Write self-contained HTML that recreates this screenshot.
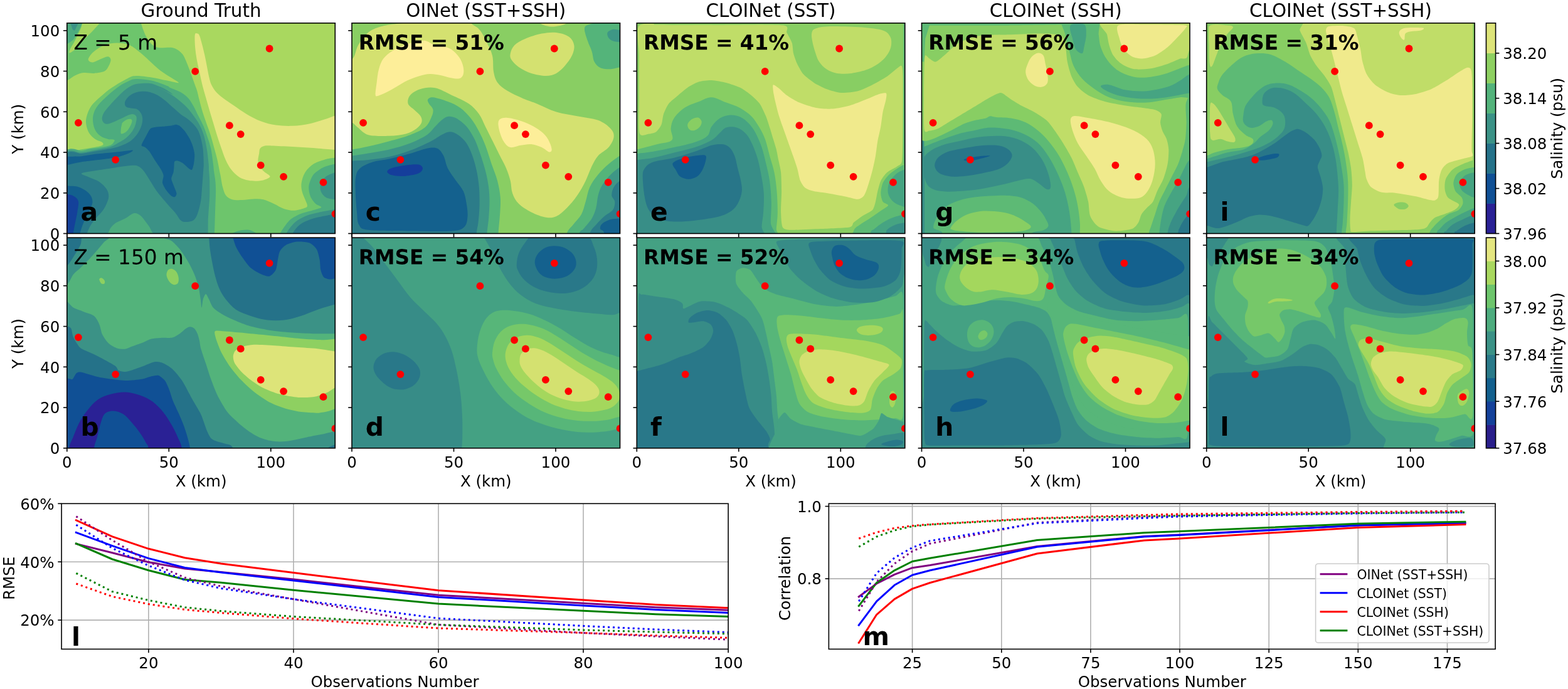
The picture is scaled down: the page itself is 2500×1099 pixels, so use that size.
<!DOCTYPE html>
<html lang="en"><head><meta charset="utf-8"><title>Salinity reconstruction comparison</title>
<style>html,body{margin:0;padding:0;background:#fff}body{width:2500px;height:1099px;overflow:hidden}svg{display:block}text{font-family:"DejaVu Sans","Liberation Sans",sans-serif}</style>
</head><body>
<svg width="2500" height="1099" viewBox="0 0 2500 1099" font-family='"DejaVu Sans","Liberation Sans",sans-serif' fill="#000">
<rect width="2500" height="1099" fill="#fff"/>
<defs>
<clipPath id="cp00"><rect x="106.8" y="36.8" width="427.5" height="335.7"/></clipPath>
<clipPath id="cp01"><rect x="561.0" y="36.8" width="427.5" height="335.7"/></clipPath>
<clipPath id="cp02"><rect x="1015.3" y="36.8" width="427.5" height="335.7"/></clipPath>
<clipPath id="cp03"><rect x="1469.5" y="36.8" width="427.5" height="335.7"/></clipPath>
<clipPath id="cp04"><rect x="1923.7" y="36.8" width="427.5" height="335.7"/></clipPath>
<clipPath id="cp10"><rect x="106.8" y="379.1" width="427.5" height="335.7"/></clipPath>
<clipPath id="cp11"><rect x="561.0" y="379.1" width="427.5" height="335.7"/></clipPath>
<clipPath id="cp12"><rect x="1015.3" y="379.1" width="427.5" height="335.7"/></clipPath>
<clipPath id="cp13"><rect x="1469.5" y="379.1" width="427.5" height="335.7"/></clipPath>
<clipPath id="cp14"><rect x="1923.7" y="379.1" width="427.5" height="335.7"/></clipPath>
</defs>
<g clip-path="url(#cp00)">
<rect x="105.8" y="35.8" width="429.5" height="337.7" fill="#a9d85f"/>
<g>
<path d="M310.8,55.3C310.2,58.9 310.6,68.6 311.1,75.3C311.6,81.9 312.6,88.6 313.8,95.3C315,101.9 316.7,108.6 318.1,115.2C319.6,121.9 320.8,128.6 322.5,135.2C324.1,141.9 326.2,148.6 328.1,155.2C330,161.9 331.8,168.5 333.8,175.2C335.7,181.9 337.8,188.5 339.8,195.2C341.8,201.8 343.7,208.5 345.8,215.2C347.9,221.8 350.1,228.5 352.4,235.1C354.8,241.8 357,249.1 359.8,255.1C362.5,261.1 365.5,266.6 369.1,271.1C372.7,275.7 376.9,279.7 381.4,282.4C386,285.2 391.1,286.8 396.4,287.8C401.7,288.8 408.3,288.8 413.1,288.4C417.8,288.1 421.8,287 424.7,285.8C427.6,284.5 430.9,283 430.4,281.1C429.8,279.2 424,276.5 421.4,274.1C418.8,271.7 416.4,269.7 414.7,266.8C413.1,263.9 411.7,260.4 411.4,256.8C411.1,253.2 412.5,248.5 413.1,245.1C413.6,241.8 413.3,238.9 414.7,236.8C416.1,234.8 418.3,233.5 421.4,232.8C424.4,232.1 425.5,232.3 433,232.5C440.5,232.7 455.2,233.5 466.3,234.1C477.4,234.8 488.3,235.3 499.6,236.1C511,237 526.5,238.5 534.3,239.1C542,239.8 544.3,249.7 546.3,240.1C548.3,230.6 548.3,191.1 546.3,181.9C544.3,172.6 539.3,183 534.3,184.5C529.3,186 523.2,188.7 516.3,190.8C509.4,193 501.3,195.8 493,197.5C484.7,199.2 475.2,200.5 466.3,200.8C457.5,201.2 448,200.7 439.7,199.5C431.4,198.3 424.2,196.5 416.4,193.5C408.6,190.6 400.3,186 393.1,181.9C385.9,177.7 379.2,172.7 373.1,168.5C367,164.4 361.2,160.5 356.4,156.9C351.7,153.3 348,150.5 344.8,146.9C341.6,143.3 339.1,139.4 337.1,135.2C335.2,131.1 334.3,126.9 333.1,121.9C331.9,116.9 330.9,110.8 329.8,105.3C328.7,99.7 327.7,94.2 326.5,88.6C325.2,83.1 323.9,77.2 322.5,72C321.1,66.7 319.4,60 318.1,57C316.9,53.9 316,53.9 314.8,53.6C313.6,53.4 311.4,51.7 310.8,55.3Z" fill="#e4e680"/>
<path d="M50,-28C77.8,-58.5 171.2,-21.3 199.9,-11.3C228.6,-1.3 217.7,22.3 222.4,32C227.1,41.7 226.4,42.5 228.2,47C230,51.4 231,54.8 233.2,58.6C235.4,62.5 238.2,67.4 241.5,70.3C244.9,73.2 247.7,75.2 253.2,76.1C258.8,77.1 269,74.9 274.9,76.1C280.7,77.4 284.6,80.1 288.2,83.6C291.8,87.1 292.4,87.5 296.5,96.9C300.6,106.3 309.1,129.8 312.6,140C316.1,150.2 315.8,152.1 317.5,158.2C319.1,164.2 320.5,170.3 322.3,176.3C324.1,182.4 326.1,188 328.4,194.5C330.6,200.9 333.4,208 335.6,215C337.8,222.1 339.8,230.2 341.7,236.8C343.5,243.5 345.1,248.9 346.5,255C347.9,261 349.3,268.9 350.1,273C351,277.2 350.8,275.7 351.6,279.9C352.4,284.1 353.6,293 355,298.3C356.4,303.5 357.5,308.2 360,311.6C362.5,314.9 365.5,317 370,318.2C374.4,319.5 381.1,319.2 386.6,319.1C392.2,318.9 397.7,317.5 403.3,317.4C408.8,317.3 414.4,317 419.9,318.2C425.5,319.5 431,322.4 436.6,324.9C442.1,327.4 447.7,331.4 453.2,333.2C458.8,335 464.3,336 469.9,335.7C475.4,335.4 483.2,332.9 486.5,331.6C489.9,330.2 489.9,329.6 489.9,327.4C489.9,325.2 487.9,322 486.5,318.2C485.1,314.5 482.5,309.4 481.5,304.9C480.6,300.5 479.9,296.6 480.7,291.6C481.5,286.6 483.3,279.9 486.5,274.9C489.7,269.9 494.9,265 499.9,261.6C504.8,258.3 510.8,256.6 516.5,255C522.2,253.3 525.4,252.7 534.3,251.6C543.2,250.5 561.1,220 569.8,248.3C578.5,276.6 672.5,392.6 586.4,421.5C500.4,450.4 145.7,463.1 53.6,421.5C-38.6,379.9 34,246.8 33.4,171.9C32.8,97 22.3,2.6 50,-28Z" fill="#6dc56c"/>
<path d="M131.6,32C136.6,30.3 156.9,29.5 160,32C163,34.5 154.4,41.7 150,47C145.5,52.3 138.3,58.4 133.3,63.6C128.3,68.9 123.7,75.2 120,78.6C116.2,82.1 112.2,84.4 110.8,84.4C109.4,84.4 110.4,81.5 111.7,78.6C112.9,75.7 116.1,71.1 118.3,67C120.5,62.8 123,57.8 125,53.6C126.9,49.5 128.9,45.6 130,42C131.1,38.4 126.6,33.7 131.6,32Z" fill="#a9d85f"/>
<path d="M90,135.2C92.2,122.9 101.8,131.1 106.8,128.6C111.8,126.1 115.6,122.3 120,120.3C124.4,118.2 128.3,116.6 133.3,116.1C138.3,115.5 144.4,117.3 150,116.9C155.5,116.5 162.7,115.5 166.6,113.6C170.5,111.6 171.6,108.3 173.3,105.3C174.9,102.2 176.9,97.8 176.6,95.3C176.3,92.8 174.7,90.3 171.6,90.3C168.6,90.3 162.2,93.7 158.3,95.3C154.4,96.8 151.1,99.2 148.3,99.4C145.5,99.7 142.7,98.2 141.6,96.9C140.5,95.7 140.2,94.4 141.6,91.9C143,89.4 145.8,85.3 150,82C154.1,78.6 160.5,74.2 166.6,72C172.7,69.7 179.9,68.6 186.6,68.6C193.3,68.6 200.5,69.5 206.6,72C212.7,74.5 218,79.5 223.2,83.6C228.5,87.8 232.9,92.2 238.2,96.9C243.5,101.7 249.6,107.8 254.9,111.9C260.1,116.1 264.9,118.6 269.9,121.9C274.9,125.2 285.4,130.8 284.8,131.9C284.3,133 273.7,130 266.5,128.6C259.3,127.2 249.9,124.8 241.5,123.6C233.2,122.3 223,120.8 216.6,121.1C210.2,121.4 209.6,122.1 203.2,125.2C196.9,128.3 185.6,134.9 178.4,139.7C171.2,144.5 165.7,149.4 160.3,154.2C154.8,159 149.4,163.7 145.7,168.7C142.1,173.8 139.9,179.6 138.5,184.5C137.1,189.3 136.7,193.1 137.3,197.8C137.9,202.4 139.7,208.3 142.1,212.3C144.5,216.3 148.4,219.6 151.8,222C155.2,224.4 160.8,225.2 162.7,226.8C164.6,228.4 165.7,230.3 163.3,231.7C160.9,233.1 153.7,234.2 148.2,235.3C142.6,236.4 137.1,237.5 130,238.3C122.9,239.1 111.8,246.1 105.8,240.1C99.7,234.2 96.3,220.1 93.7,202.6C91.1,185.1 87.8,147.6 90,135.2Z" fill="#a9d85f"/>
<path d="M100,32C103.1,28.2 128,32.5 130.8,33.7C133.6,34.8 128.9,42 128.3,43.6C127.7,45.3 126.1,48.3 125,50.3C123.8,52.3 118.5,61.6 116.7,63.6C114.8,65.6 108.5,69.5 106.8,70.3C105.2,71.1 100.7,75.8 100,72C99.3,68.1 96.9,35.8 100,32Z" fill="#4dac7e"/>
<path d="M112.5,35.3C113.6,34.7 124.1,34.5 125,35.3C125.9,36.2 122.2,42.3 121.6,43.6C121.1,45 119.7,48.3 119.2,48.6C118.6,49 116.3,47.6 115.8,47C115.3,46.3 114.5,43.1 114.2,42C113.8,40.8 111.4,36 112.5,35.3Z" fill="#3b9286"/>
<path d="M99.7,242.6C115.8,231.8 122.9,241.2 130,240.4C137.1,239.6 137.1,238.6 142.1,237.7C147.1,236.9 154.6,236.3 160.3,235.3C165.9,234.3 172.5,233.1 176,231.7C179.5,230.3 180.4,228.3 181.4,226.8C182.4,225.4 183.6,223.8 182,223C180.5,222.1 176,223 172.4,222C168.7,221 163.7,219.6 160.3,217.1C156.8,214.7 153.8,211.3 151.8,207.5C149.8,203.6 148.6,198.6 148.2,194.1C147.8,189.7 148,185.3 149.4,180.8C150.8,176.4 152.8,172.4 156.6,167.5C160.5,162.7 166.7,156.8 172.4,151.8C178,146.7 185.3,140.9 190.5,137.3C195.8,133.6 199.5,131.9 203.8,130C208.2,128.1 210.3,126.3 216.6,126.1C222.9,125.8 233.2,126.8 241.5,128.6C249.9,130.4 261.5,135 266.5,136.9C271.5,138.8 267.8,138.3 271.5,140C275.1,141.7 283.6,144.4 288.4,147.3C293.3,150.1 297.1,153.1 300.5,156.9C303.9,160.8 306.4,165.6 309,170.3C311.6,174.9 313.6,179.5 316.2,184.8C318.9,190 322.3,196.1 324.7,201.7C327.1,207.4 328.9,212.8 330.8,218.7C332.7,224.5 334.7,229.8 336.2,236.8C337.7,243.9 339,255 339.8,261C340.7,267.1 340.5,268.5 341.1,273C341.6,277.5 342.8,282.9 343.3,288.3C343.8,293.6 344.1,298 344.1,304.9C344.1,311.9 343.6,321.6 343.3,329.9C343,338.2 342.8,345.2 342.5,354.9C342.2,364.6 341.8,374.3 341.6,388.2C341.5,402.1 386.9,429.8 341.6,438.1C296.4,446.5 121.6,460.3 70.2,438.1C18.8,415.9 28.5,337.5 33.4,304.9C38.3,272.3 83.6,253.3 99.7,242.6Z" fill="#4dac7e"/>
<path d="M99.7,245C115.8,234.7 120.9,244.2 130,243.2C139.1,242.2 147.1,240.2 154.2,238.9C161.3,237.6 167.7,236.5 172.4,235.3C177,234.1 179,233.1 182,231.7C185.1,230.3 187.5,228.6 190.5,226.8C193.5,225 197.2,223.2 200.2,220.8C203.2,218.4 206.2,215.3 208.7,212.3C211.1,209.3 213.2,206.2 214.7,202.6C216.2,199 217.4,193.5 217.7,190.5C218,187.5 217.6,185.9 216.5,184.5C215.4,183.1 213.4,182 211.1,182C208.8,182 205.6,183.3 202.6,184.5C199.6,185.7 196.6,187.6 192.9,189.3C189.3,191 184.5,193.3 180.8,194.8C177.2,196.2 173.8,197.7 171.1,197.8C168.5,197.9 166.5,196.8 165.1,195.4C163.7,193.9 162.7,191.7 162.7,189.3C162.7,186.9 163.5,183.9 165.1,180.8C166.7,177.8 169.1,175 172.4,171.1C175.6,167.3 180.4,162.1 184.5,157.8C188.5,153.6 192.5,149.2 196.6,145.7C200.6,142.3 204.6,139.3 208.7,137.3C212.7,135.2 215.7,134.3 220.8,133.6C225.8,132.9 233.9,132.5 238.9,133C244,133.5 247,135.1 251,136.7C255.1,138.2 259.1,139.8 263.1,142.1C267.2,144.4 276.9,150.9 275.2,150.6C273.6,150.2 254.1,140.2 253.3,140C252.5,139.8 264.8,145.6 270.3,149.1C275.7,152.5 281.4,156.8 286,160.6C290.6,164.3 294.5,167.6 298.1,171.5C301.7,175.3 304.5,179.1 307.8,183.6C311,188 314.6,192.8 317.5,198.1C320.3,203.3 322.7,208.6 324.7,215C326.7,221.5 328.3,229.2 329.6,236.8C330.9,244.5 332,255 332.6,261C333.2,267.1 332.9,268.5 333.2,273C333.5,277.5 334,281.6 334.2,288.3C334.3,295 334.4,304.9 334.2,313.2C333.9,321.6 332.9,331.3 332.5,338.2C332.1,345.2 331.8,346.5 331.7,354.9C331.5,363.2 331.7,374.3 331.7,388.2C331.7,402.1 375.2,429.8 331.7,438.1C288.1,446.5 119.9,460.3 70.2,438.1C20.5,415.9 28.5,337.1 33.4,304.9C38.3,272.7 83.6,255.3 99.7,245Z" fill="#3b9286"/>
<path d="M195.4,195.4C196.8,193.9 200.4,191.4 202.6,190.5C204.8,189.6 207.4,189.5 208.7,189.9C210,190.3 210.5,191.4 210.5,192.9C210.5,194.4 209.8,196.6 208.7,199C207.6,201.4 205.6,205.2 203.8,207.5C202,209.7 199.6,211.4 197.8,212.3C196,213.2 193.7,214.1 192.9,212.9C192.1,211.7 192.7,207.4 192.9,205C193.1,202.7 193.7,200.6 194.1,199C194.5,197.4 193.9,196.8 195.4,195.4Z" fill="#6dc56c"/>
<path d="M99.7,246.8C115.8,236.8 121.9,245.8 130,245C138.1,244.2 142.1,243 148.2,242C154.2,240.9 160.3,240 166.3,238.9C172.4,237.8 179.2,236.7 184.5,235.3C189.7,233.9 193.7,232.3 197.8,230.5C201.8,228.6 205.4,226.8 208.7,224.4C211.9,222 214.7,219 217.1,215.9C219.6,212.9 221.6,209.7 223.2,206.2C224.8,202.8 226.2,198.8 226.8,195.4C227.4,191.9 227.4,188.5 226.8,185.7C226.2,182.8 224.8,180.4 223.2,178.4C221.6,176.4 219.6,174.6 217.1,173.6C214.7,172.6 211.3,172.9 208.7,172.4C206,171.9 203,171.6 201.4,170.5C199.8,169.5 199.2,168 199,166.3C198.8,164.6 199,162.5 200.2,160.3C201.4,158 203.8,155 206.2,153C208.7,151 211.3,149.4 214.7,148.2C218.1,146.9 222.8,145.9 226.8,145.7C230.9,145.5 234.9,145.9 238.9,146.9C243,148 247,149.6 251,151.8C255.1,154 259.1,157 263.1,160.3C267.2,163.5 271,167.5 275.2,171.1C279.4,174.8 284.2,179.1 288.4,182.4C292.6,185.6 296.5,187.4 300.5,190.8C304.5,194.3 309.6,198.9 312.6,202.9C315.6,207 316.9,209.4 318.7,215C320.5,220.7 322.5,229.2 323.5,236.8C324.5,244.5 324.6,255.2 324.7,261C324.8,266.8 324.7,264.3 324.2,271.6C323.7,278.9 322.4,296.6 321.7,304.9C321,313.2 321.1,315.5 320,321.6C318.8,327.7 316.8,336.6 314.8,341.6C312.9,346.5 311.2,349.5 308.2,351.5C305.1,353.6 299.8,354 296.5,354C293.2,354 291,353.9 288.2,351.5C285.4,349.2 283.5,344.3 279.9,339.9C276.2,335.4 271.5,330.7 266.5,324.9C261.5,319.1 254.6,311.3 249.9,304.9C245.2,298.5 241.8,292.1 238.2,286.6C234.6,281 231.3,275.2 228.2,271.6C225.2,268 223.2,266.2 219.9,265C216.6,263.7 214.3,263.7 208.2,264.1C202.1,264.5 193,266.1 183.3,267.4C173.5,268.8 158.8,270.9 150,272.4C141.1,274 131.4,274.9 130,276.6C128.6,278.3 136.9,280.2 141.6,282.4C146.4,284.7 153.6,286.7 158.3,289.9C163,293.1 167.4,297.7 169.9,301.6C172.4,305.5 173.3,309.4 173.3,313.2C173.3,317.1 171.6,321 169.9,324.9C168.3,328.8 166.6,332.1 163.3,336.6C160,341 153.6,346.8 150,351.5C146.4,356.3 143.7,360.1 141.6,364.9C139.6,369.6 138.9,370.4 137.5,379.9C136.1,389.3 150.7,414.5 133.3,421.5C116,428.4 50,440.9 33.4,421.5C16.7,402.1 22.3,334 33.4,304.9C44.4,275.8 83.6,256.8 99.7,246.8Z" fill="#2a7a89"/>
<path d="M171.6,388.2C159.5,384.9 172.2,373.5 174.1,368.2C176,362.9 179,359.9 183.3,356.5C187.6,353.2 194.9,350.9 199.9,348.2C204.9,345.5 209.4,341.1 213.2,340.2C217.1,339.4 219.9,340.8 223.2,343.2C226.6,345.7 230.2,350.7 233.2,354.9C236.3,359 239.3,362.6 241.5,368.2C243.8,373.7 258.2,384.9 246.5,388.2C234.9,391.5 183.7,391.5 171.6,388.2Z" fill="#4dac7e"/>
<path d="M225.6,231.7C225.8,229.3 231.1,220.5 232.9,217.1C234.6,213.8 237.3,208.1 238.9,206.2C240.5,204.4 241.7,203.9 245,203.2C248.2,202.6 259.1,201.8 263.1,201.4C267.2,201 273,200.6 275.2,200.2C277.5,199.8 280.7,198.3 280.1,198.4C279.4,198.5 270.4,201.1 270.3,201.1C270.1,201.2 276.6,198.8 278.7,198.7C280.8,198.6 283.9,199.1 286,200.5C288.1,201.9 292.2,206.1 294.5,209C296.7,211.9 301.2,218.9 302.9,222.3C304.7,225.7 306.8,231.2 307.8,234.4C308.7,237.6 310,243 310.2,246.5C310.4,250.1 309.6,257.8 309,261C308.4,264.3 307.1,269.7 306,270.7C304.8,271.7 302.5,269.7 300.5,268.3C298.5,266.8 293.3,261.4 290.8,259.8C288.4,258.2 284.1,256.4 282.4,256.2C280.7,255.9 278.8,256.7 278.1,258C277.5,259.3 277.7,263.6 277.5,265.9C277.3,268.1 277.1,272.4 276.5,274.9C275.9,277.5 273.2,282.3 273.2,284.9C273.2,287.6 275.4,291.8 276.5,294.9C277.6,298 281.2,305.7 281.5,308.2C281.8,310.8 280.1,313.5 279,314.1C277.9,314.6 275.1,313.9 273.2,312.4C271.3,311 266.7,306 264.9,303.3C263,300.5 259.6,294.7 259,291.6C258.5,288.5 261,282.8 260.7,279.9C260.4,277.1 258.4,273.3 256.5,269.9C254.6,266.6 249,258.7 246.5,255C244.1,251.2 240.2,244.3 238.2,241.6C236.2,239 233.2,236.3 231.6,235C229.9,233.6 225.4,234 225.6,231.7Z" fill="#13608e"/>
<path d="M99.7,251C103.8,249.1 122.7,249.9 130,249.2C137.3,248.5 147.8,246.4 154.2,245.6C160.7,244.8 172.8,243.7 178.4,243.2C184.1,242.6 192.2,241.8 196.6,241.3C200.9,240.9 209.3,239.5 211.1,239.5C212.9,239.6 211,241.1 209.9,242C208.7,242.8 205.2,244.5 202.6,245.6C200,246.6 193.7,248.9 190.5,249.8C187.3,250.7 183.3,251.5 178.4,252.2C173.6,253 160.7,254.5 154.2,255.3C147.8,256.1 137.3,257.2 130,258.3C122.7,259.4 103.8,264.7 99.7,263.7C95.7,262.8 95.7,253 99.7,251Z" fill="#13608e"/>
<path d="M83.3,295.8C87.3,280.5 99.9,296.2 106.8,296.6C113.8,297 119.2,296.3 125,298.3C130.8,300.2 137.9,304.4 141.6,308.2C145.4,312.1 147.5,316.6 147.5,321.6C147.5,326.6 144,332.7 141.6,338.2C139.3,343.8 135.7,349.2 133.3,354.9C130.9,360.6 128.9,366.8 127.5,372.4C126.1,377.9 132.3,385.5 125,388.2C117.6,390.8 90.3,403.6 83.3,388.2C76.4,372.8 79.4,311 83.3,295.8Z" fill="#13608e"/>
<path d="M83.3,309.1C87.3,296 101,309.2 106.8,309.9C112.7,310.6 115.3,311.3 118.3,313.2C121.3,315.2 124.1,317.4 125,321.6C125.8,325.7 124.1,332.7 123.3,338.2C122.5,343.8 121.1,349.2 120,354.9C118.9,360.6 117.5,366.8 116.7,372.4C115.8,377.9 120.5,385.5 115,388.2C109.4,390.8 88.6,401.4 83.3,388.2C78.1,375 79.4,322.1 83.3,309.1Z" fill="#14419a"/>
<path d="M544.8,260C542.3,243.1 538.1,260.7 534.3,261.6C530.5,262.5 521.1,264.4 516.5,266.6C511.9,268.8 503.1,274.3 499.9,278.3C496.6,282.3 493,291.9 492.4,296.6C491.7,301.3 493.4,309.5 494.9,313.2C496.3,317 500.8,322.6 503.2,324.9C505.5,327.2 513.4,329.2 512.3,330.7C511.2,332.3 499.4,335.1 494.9,336.6C490.3,338 482.6,339.6 478.2,341.6C473.8,343.6 465.8,347.4 461.5,351.5C457.3,355.7 449,367.5 446.6,372.4C444.1,377.2 429,386.1 443.2,388.2C457.4,390.3 539.6,405.3 553.1,388.2C566.7,371.1 547.3,276.8 544.8,260Z" fill="#4dac7e"/>
<path d="M544.8,274.1C543.1,266.8 538.5,273.7 534.3,274.9C530.2,276.2 523.6,278.5 519.8,281.6C516,284.7 512.9,289.4 511.5,293.3C510.1,297.1 510.1,301.3 511.5,304.9C512.9,308.5 516,312.7 519.8,314.9C523.6,317.1 530.2,317.5 534.3,318.2C538.5,318.9 543.1,326.4 544.8,319.1C546.6,311.7 546.6,281.5 544.8,274.1Z" fill="#3b9286"/>
<path d="M544.8,333.2C541.7,324.2 538.5,333.5 534.3,334.1C530.2,334.6 525,335.6 519.8,336.6C514.6,337.5 508.7,338.5 503.2,339.9C497.6,341.3 492.1,342.4 486.5,344.9C481,347.4 474.9,350.3 469.9,354.9C464.9,359.5 459.3,366.8 456.6,372.4C453.8,377.9 437.1,385.5 453.2,388.2C469.3,390.8 537.9,397.3 553.1,388.2C568.4,379 547.9,342.2 544.8,333.2Z" fill="#3b9286"/>
<path d="M544.8,340.7C541.7,332.9 539.9,340.7 534.3,341.6C528.8,342.4 518.1,344.3 511.5,345.7C504.9,347.1 500.4,347.8 494.9,349.9C489.3,352 482.9,354.5 478.2,358.2C473.5,362 469,367.4 466.5,372.4C464,377.4 448.8,385.5 463.2,388.2C477.6,390.8 539.5,396.1 553.1,388.2C566.7,380.3 547.9,348.5 544.8,340.7Z" fill="#2a7a89"/>
<path d="M368.3,374.9C362.7,374 371.9,371.2 375,369.9C378,368.5 382.4,367.3 386.6,366.9C390.8,366.4 396.3,366 399.9,367.4C403.5,368.7 413.5,373.6 408.3,374.9C403,376.1 373.8,375.7 368.3,374.9Z" fill="#4dac7e"/>
</g>
<circle cx="124.9" cy="195.8" r="5.9" fill="#ff0000"/>
<circle cx="184.2" cy="254.8" r="5.9" fill="#ff0000"/>
<circle cx="311.2" cy="113.9" r="5.9" fill="#ff0000"/>
<circle cx="429.6" cy="77.5" r="5.9" fill="#ff0000"/>
<circle cx="365.9" cy="200.2" r="5.9" fill="#ff0000"/>
<circle cx="383.7" cy="214.1" r="5.9" fill="#ff0000"/>
<circle cx="415.7" cy="263.6" r="5.9" fill="#ff0000"/>
<circle cx="452.1" cy="281.8" r="5.9" fill="#ff0000"/>
<circle cx="515.5" cy="290.9" r="5.9" fill="#ff0000"/>
<circle cx="534.4" cy="341.1" r="5.9" fill="#ff0000"/>
</g>
<rect x="106.8" y="36.8" width="427.5" height="335.7" fill="none" stroke="#000" stroke-width="1.6"/>
<line x1="101.0" x2="106.8" y1="372.5" y2="372.5" stroke="#000" stroke-width="1.6"/>
<text x="95.3" y="381.8" font-size="24.5" text-anchor="end" font-weight="normal" >0</text>
<line x1="101.0" x2="106.8" y1="307.8" y2="307.8" stroke="#000" stroke-width="1.6"/>
<text x="95.3" y="317.1" font-size="24.5" text-anchor="end" font-weight="normal" >20</text>
<line x1="101.0" x2="106.8" y1="243.0" y2="243.0" stroke="#000" stroke-width="1.6"/>
<text x="95.3" y="252.3" font-size="24.5" text-anchor="end" font-weight="normal" >40</text>
<line x1="101.0" x2="106.8" y1="178.3" y2="178.3" stroke="#000" stroke-width="1.6"/>
<text x="95.3" y="187.6" font-size="24.5" text-anchor="end" font-weight="normal" >60</text>
<line x1="101.0" x2="106.8" y1="113.5" y2="113.5" stroke="#000" stroke-width="1.6"/>
<text x="95.3" y="122.8" font-size="24.5" text-anchor="end" font-weight="normal" >80</text>
<line x1="101.0" x2="106.8" y1="48.8" y2="48.8" stroke="#000" stroke-width="1.6"/>
<text x="95.3" y="58.1" font-size="24.5" text-anchor="end" font-weight="normal" >100</text>
<line x1="106.8" x2="106.8" y1="372.5" y2="378.3" stroke="#000" stroke-width="1.6"/>
<line x1="269.3" x2="269.3" y1="372.5" y2="378.3" stroke="#000" stroke-width="1.6"/>
<line x1="431.8" x2="431.8" y1="372.5" y2="378.3" stroke="#000" stroke-width="1.6"/>
<text transform="translate(36.5,205.7) rotate(-90)" font-size="24.5" text-anchor="middle">Y (km)</text>
<text x="320.6" y="27.2" font-size="29.4" text-anchor="middle" font-weight="normal" >Ground Truth</text>
<text transform="translate(117.5,79.1) rotate(0.03) scale(1.004,1.01)" font-size="32.6" font-weight="normal">Z = 5 m</text>
<text transform="translate(128.6,352.2) scale(1,1)" font-size="40.8" font-weight="bold">a</text>
<g clip-path="url(#cp01)">
<rect x="560.0" y="35.8" width="429.5" height="337.7" fill="#89ce63"/>
<g>
<path d="M544,100.3C547.1,84.4 557.8,98.3 562.3,93.6C566.8,88.9 567.1,79 571,72.3C574.9,65.6 580.7,57.9 585.6,53.3C590.6,48.7 594.6,47 600.6,44.6C606.7,42.3 612.1,40.9 621.9,39.3C631.8,37.8 649,36.3 659.9,35.3C670.8,34.4 673.8,33.9 687.2,33.7C700.6,33.4 729.1,32.8 740.5,34C751.9,35.2 751.3,38.2 755.5,40.6C759.7,43.1 762.3,44.4 765.8,49C769.3,53.6 773.2,61.6 776.5,68.3C779.7,75 783.3,81.5 785.1,89.3C786.9,97 785.7,107.8 787.1,114.9C788.5,122 789.9,127 793.5,131.9C797,136.8 801.7,140.3 808.4,144.6C815.2,148.8 826.5,153.9 834.1,157.2C841.6,160.5 844.9,161 853.7,164.5C862.6,168.1 875.9,175.1 887,178.5C898.1,182 909.2,183 920.3,185.2C931.4,187.4 944.8,188.5 953.6,191.8C962.5,195.2 969.5,200.7 973.6,205.2C977.8,209.6 979.2,213.5 978.6,218.5C978.1,223.5 974.5,230.1 970.3,235.1C966.1,240.1 958.1,243.5 953.6,248.5C949.2,253.5 947,258.5 943.6,265.1C940.3,271.8 937.5,280.7 933.7,288.4C929.8,296.2 925.3,304.5 920.3,311.7C915.3,319 909.2,326.2 903.7,331.7C898.1,337.3 892.6,342.5 887,345C881.5,347.5 877,347.8 870.4,346.7C863.7,345.6 854.3,342 847.1,338.4C839.9,334.8 832.1,330.1 827.1,325.1C822.1,320.1 819.3,314.5 817.1,308.4C814.9,302.3 815.4,295.1 813.8,288.4C812.1,281.8 809.9,275.1 807.1,268.4C804.3,261.8 801,256.2 797.1,248.5C793.2,240.7 787.7,229.6 783.8,221.8C779.9,214 777.1,208.5 773.8,201.8C770.5,195.2 768.3,188 763.8,181.9C759.4,175.8 754.4,170.2 747.2,165.2C739.9,160.2 729.4,156 720.5,151.9C711.6,147.7 702.2,141.9 693.9,140.2C685.5,138.6 677.2,139.9 670.6,141.9C663.9,143.8 657.2,148 653.9,151.9C650.6,155.8 649.5,161.3 650.6,165.2C651.7,169.1 657.2,171.9 660.6,175.2C663.9,178.5 668.6,181.9 670.6,185.2C672.5,188.5 673.3,191.8 672.2,195.2C671.1,198.5 668.1,202.1 663.9,205.2C659.7,208.2 654.5,211.6 647.2,213.5C640,215.4 630.6,216.5 620.6,216.8C610.6,217.1 595.6,217.4 587.3,215.2C579,212.9 575.1,206.8 570.7,203.5C566.2,200.2 565.1,197.7 560.7,195.2C556.2,192.7 546.8,204.3 544,188.5C541.2,172.7 541,116.1 544,100.3Z" fill="#d4e170"/>
<path d="M813.8,85.3C814.6,81.4 816.5,75.8 820.4,72C824.3,68.1 829.9,65 837.1,62C844.3,58.9 855.4,55.3 863.7,53.6C872,52 879.8,51.1 887,52C894.2,52.8 902.3,55.3 907,58.6C911.7,62 914.5,67 915.3,72C916.2,77 914.5,83.1 912,88.6C909.5,94.2 904.5,100.5 900.4,105.3C896.2,110 892,114.3 887,116.9C882,119.5 877,120.9 870.4,120.9C863.7,120.9 854.3,119.2 847.1,116.9C839.9,114.6 832.4,110.5 827.1,106.9C821.8,103.3 817.7,98.9 815.4,95.3C813.2,91.7 812.9,89.2 813.8,85.3Z" fill="#d4e170"/>
<path d="M860.4,32C867.1,30.9 897,30.9 903.7,32C910.3,33.1 904.2,36.9 900.4,38.7C896.5,40.4 886.5,42.6 880.4,42.6C874.3,42.6 867.1,40.4 863.7,38.7C860.4,36.9 853.7,33.1 860.4,32Z" fill="#d4e170"/>
<path d="M598.6,150.9C598.3,147.4 599.7,138.6 600.6,131.9C601.5,125.2 602.2,117 604,110.6C605.7,104.2 607.6,98.5 611.3,93.6C614.9,88.7 619.6,84.8 625.9,80.9C632.3,77.1 641.5,73 649.2,70.3C657,67.6 667.2,65.7 672.6,65C677.9,64.2 678.4,65.1 681.2,66C684,66.8 686,69.2 689.5,70.3C693,71.3 697.3,70.9 702.2,72.3C707.1,73.7 714.2,75.4 719.2,78.6C724.2,81.8 729,87 732.2,91.6C735.4,96.2 737.4,101.7 738.5,106.3C739.6,110.8 739.6,115.7 738.5,118.9C737.4,122.1 735.4,124.4 732.2,125.2C729,126.1 724.2,125.1 719.2,124.2C714.2,123.4 707.8,121 702.2,119.9C696.6,118.9 691.2,117.7 685.5,117.9C679.9,118.1 674.6,119.5 668.6,121.2C662.5,123 655.3,125.7 649.2,128.6C643.2,131.4 637.9,135.1 632.3,138.2C626.7,141.4 620.6,145.1 615.6,147.6C610.7,150 605.5,152.3 602.6,152.9C599.8,153.4 599,154.4 598.6,150.9Z" fill="#fdee99"/>
<path d="M794.5,195.2C795,191.3 797.2,189.6 800.4,188.5C803.7,187.4 807.7,187.4 813.8,188.5C819.9,189.6 830.4,192.7 837.1,195.2C843.7,197.7 848.7,200.5 853.7,203.5C858.7,206.6 863.4,209.9 867.1,213.5C870.7,217.1 873.3,221 875.4,225.2C877.5,229.3 879.7,235.6 879.7,238.5C879.7,241.4 878,243 875.4,242.5C872.7,241.9 868.4,237.2 863.7,235.1C859,233.1 852.6,230.7 847.1,230.1C841.5,229.6 836,231 830.4,231.8C824.9,232.6 818.2,236 813.8,235.1C809.3,234.3 806.6,230.7 803.8,226.8C801,222.9 798.7,217.1 797.1,211.8C795.6,206.6 793.9,199.1 794.5,195.2Z" fill="#fdee99"/>
<path d="M540.7,240.1C544,212.4 552.9,239.6 560.7,238.5C568.4,237.4 577.3,235.7 587.3,233.5C597.3,231.3 609.5,228.2 620.6,225.2C631.7,222.1 644.5,218.8 653.9,215.2C663.3,211.6 671.7,207.9 677.2,203.5C682.8,199.1 685,193.2 687.2,188.5C689.4,183.8 691.1,179.1 690.5,175.2C690,171.3 685.3,168 683.9,165.2C682.5,162.4 681.1,160.2 682.2,158.5C683.3,156.9 685.3,154.7 690.5,155.2C695.8,155.8 706.6,159.1 713.9,161.9C721.1,164.6 727.7,167.4 733.8,171.9C739.9,176.3 745.6,182.4 750.5,188.5C755.4,194.6 759.3,201.3 763.1,208.5C767,215.7 770.4,222.9 773.8,231.8C777.2,240.7 780.6,252.3 783.8,261.8C787,271.2 790.8,279.5 793.1,288.4C795.4,297.3 797.1,306.2 797.8,315.1C798.4,324 797.7,332.2 797.1,341.7C796.6,351.3 795.1,361.8 794.5,372.4C793.8,382.9 835.4,399.5 793.1,405C750.8,410.4 582.8,432.5 540.7,405C498.6,377.5 537.3,267.9 540.7,240.1Z" fill="#54b47a"/>
<path d="M540.7,250.1C544,224 552.9,249.4 560.7,248.5C568.4,247.5 577.3,246.1 587.3,244.5C597.3,242.8 609.5,241.1 620.6,238.5C631.7,235.8 643.9,232.4 653.9,228.5C663.9,224.6 673.9,219.6 680.6,215.2C687.2,210.7 690,205.7 693.9,201.8C697.8,198 700.5,194.5 703.9,191.8C707.2,189.2 710,186.4 713.9,185.9C717.7,185.3 722.2,185.9 727.2,188.5C732.2,191.2 738.9,196.3 743.8,201.8C748.7,207.4 752.9,214.6 756.5,221.8C760.1,229 762.6,236.8 765.5,245.1C768.4,253.5 771.5,262.9 773.8,271.8C776.1,280.7 778,290.1 779.1,298.4C780.2,306.7 780.5,313.4 780.5,321.7C780.5,330.1 779.8,339.9 779.1,348.4C778.5,356.8 777.1,362.9 776.5,372.4C775.8,381.8 814.4,399.5 775.1,405C735.8,410.4 579.8,430.8 540.7,405C501.6,379.2 537.3,276.2 540.7,250.1Z" fill="#3e9786"/>
<path d="M540.7,257.8C544,233.1 552.9,257.2 560.7,256.8C568.4,256.3 577.3,256.2 587.3,255.1C597.3,254 609.5,252.6 620.6,250.1C631.7,247.6 642.8,244.3 653.9,240.1C665,236 678.9,229.3 687.2,225.2C695.5,221 698.9,217.7 703.9,215.2C708.9,212.7 712.7,210.2 717.2,210.2C721.6,210.2 726.1,212.1 730.5,215.2C734.9,218.2 740.1,222.9 743.8,228.5C747.6,234 750.5,241.2 753.2,248.5C755.8,255.7 758,263.4 759.8,271.8C761.6,280.1 763,289 763.8,298.4C764.6,307.9 764.7,319 764.5,328.4C764.3,337.8 763.3,347.7 762.5,355C761.7,362.4 760.5,364 759.8,372.4C759.1,380.7 795,399.5 758.5,405C722,410.4 577,429.5 540.7,405C504.4,380.5 537.3,282.5 540.7,257.8Z" fill="#2c7c89"/>
<path d="M567.3,281.8C568.5,275.7 569.5,272.3 574,268.4C578.4,264.6 586.2,261 594,258.5C601.7,256 610.6,255.7 620.6,253.5C630.6,251.2 643.9,247.9 653.9,245.1C663.9,242.4 673.3,238.2 680.6,236.8C687.8,235.4 692.8,234.9 697.2,236.8C701.6,238.7 704.4,243.2 707.2,248.5C710,253.7 710.5,261.8 713.9,268.4C717.2,275.1 723,282.3 727.2,288.4C731.3,294.5 736.1,299 738.8,305.1C741.6,311.2 742.7,318.4 743.8,325.1C744.9,331.7 746,338.9 745.5,345C744.9,351.1 744.7,357.8 740.5,361.7C736.3,365.6 734.9,367.2 720.5,368.4C706.1,369.5 676.1,368.6 653.9,368.4C631.7,368.1 600.9,368.4 587.3,366.7C573.7,365 575.4,363.1 572.3,358.4C569.3,353.6 569.9,347.3 569,338.4C568,329.5 566.9,314.5 566.7,305.1C566.4,295.6 566.1,287.9 567.3,281.8Z" fill="#14618e"/>
<path d="M617.3,273.4C617.6,271.6 620.6,269.4 625.6,267.8C630.6,266.1 640.3,264.3 647.2,263.4C654.2,262.6 662.8,261.7 667.2,262.5C671.7,263.2 673.3,265.8 673.9,267.8C674.4,269.8 672.8,272.7 670.6,274.4C668.3,276.2 665.6,277.3 660.6,278.4C655.6,279.5 646.7,281 640.6,281.1C634.5,281.2 627.8,280.4 623.9,279.1C620.1,277.8 617,275.3 617.3,273.4Z" fill="#153e9b"/>
<path d="M932,45.3C932.5,40.9 933.9,40.9 940.3,38.7C946.7,36.4 959.7,33.7 970.3,32C980.8,30.3 998,15.9 1003.6,28.7C1009.1,41.4 1006.1,95.4 1003.6,108.6C1001,121.7 993.3,107.3 988.3,107.6C983.3,107.9 978.8,110.2 973.6,110.3C968.4,110.3 961.3,109.9 957,107.9C952.6,106 949.9,102.9 947.6,98.6C945.4,94.3 945.4,87.5 943.6,81.9C941.9,76.4 938.9,71.4 937,65.3C935,59.2 931.4,49.8 932,45.3Z" fill="#54b47a"/>
<path d="M968.6,52C969.7,49.8 973.7,47.6 977,47C980.2,46.3 984.4,47.7 988.3,48C992.2,48.3 998.3,45.5 1000.3,48.6C1002.3,51.8 1002.3,63.9 1000.3,67C998.3,70 992.2,67.2 988.3,67C984.4,66.7 979.9,66.4 977,65.3C974,64.2 971.7,62.5 970.3,60.3C968.9,58.1 967.5,54.2 968.6,52Z" fill="#3e9786"/>
<path d="M1003.6,241.8C1001,215.7 993.8,245.1 988.3,248.5C982.7,251.8 976.1,256.8 970.3,261.8C964.5,266.8 958.6,272.3 953.6,278.4C948.6,284.5 943.6,291.2 940.3,298.4C937,305.6 935.9,314.5 933.7,321.7C931.4,328.9 930.3,335.6 927,341.7C923.7,347.8 917.6,353.3 913.7,358.4C909.8,363.5 906.5,364.6 903.7,372.4C900.9,380.1 880.4,399.5 897,405C913.7,410.4 985.8,432.2 1003.6,405C1021.4,377.8 1006.1,267.9 1003.6,241.8Z" fill="#54b47a"/>
<path d="M1003.6,258.5C1001,235.4 993.3,263.4 988.3,266.8C983.3,270.1 978.3,273.7 973.6,278.4C969,283.2 963.6,289.5 960.3,295.1C957,300.6 955.3,305.6 953.6,311.7C952,317.8 952,325.6 950.3,331.7C948.6,337.8 947,342.8 943.6,348.4C940.3,353.9 933.7,361 930.3,365C927,369 925.9,365.7 923.7,372.4C921.4,379 903.7,399.5 917,405C930.3,410.4 989.2,429.4 1003.6,405C1018,380.6 1006.1,281.5 1003.6,258.5Z" fill="#3e9786"/>
<path d="M1003.6,281.8C1001,262.3 992.4,285.7 988.3,288.4C984.1,291.2 980.8,294.5 978.6,298.4C976.5,302.3 975,307.9 975.3,311.7C975.6,315.6 980,317.8 980.3,321.7C980.6,325.6 979.7,331.2 977,335.1C974.2,338.9 968.1,341.2 963.6,345C959.2,348.9 954.2,353.8 950.3,358.4C946.4,362.9 943.1,364.6 940.3,372.4C937.5,380.1 923.1,399.5 933.7,405C944.2,410.4 991.9,425.5 1003.6,405C1015.3,384.5 1006.1,301.2 1003.6,281.8Z" fill="#2c7c89"/>
<path d="M1003.6,346.7C1001,337.3 993.3,347.8 988.3,348.4C983.3,348.9 978.3,348.7 973.6,350C969,351.4 963.1,354.2 960.3,356.7C957.5,359.2 956.4,362.4 957,365C957.5,367.6 962,365.7 963.6,372.4C965.3,379 960.3,399.5 967,405C973.6,410.4 997.5,414.7 1003.6,405C1009.7,395.3 1006.1,356.1 1003.6,346.7Z" fill="#14618e"/>
</g>
<circle cx="579.1" cy="195.8" r="5.9" fill="#ff0000"/>
<circle cx="638.4" cy="254.8" r="5.9" fill="#ff0000"/>
<circle cx="765.4" cy="113.9" r="5.9" fill="#ff0000"/>
<circle cx="883.8" cy="77.5" r="5.9" fill="#ff0000"/>
<circle cx="820.1" cy="200.2" r="5.9" fill="#ff0000"/>
<circle cx="837.9" cy="214.1" r="5.9" fill="#ff0000"/>
<circle cx="869.9" cy="263.6" r="5.9" fill="#ff0000"/>
<circle cx="906.3" cy="281.8" r="5.9" fill="#ff0000"/>
<circle cx="969.7" cy="290.9" r="5.9" fill="#ff0000"/>
<circle cx="988.6" cy="341.1" r="5.9" fill="#ff0000"/>
</g>
<rect x="561.0" y="36.8" width="427.5" height="335.7" fill="none" stroke="#000" stroke-width="1.6"/>
<line x1="555.2" x2="561.0" y1="372.5" y2="372.5" stroke="#000" stroke-width="1.6"/>
<line x1="555.2" x2="561.0" y1="307.8" y2="307.8" stroke="#000" stroke-width="1.6"/>
<line x1="555.2" x2="561.0" y1="243.0" y2="243.0" stroke="#000" stroke-width="1.6"/>
<line x1="555.2" x2="561.0" y1="178.3" y2="178.3" stroke="#000" stroke-width="1.6"/>
<line x1="555.2" x2="561.0" y1="113.5" y2="113.5" stroke="#000" stroke-width="1.6"/>
<line x1="555.2" x2="561.0" y1="48.8" y2="48.8" stroke="#000" stroke-width="1.6"/>
<line x1="561.0" x2="561.0" y1="372.5" y2="378.3" stroke="#000" stroke-width="1.6"/>
<line x1="723.5" x2="723.5" y1="372.5" y2="378.3" stroke="#000" stroke-width="1.6"/>
<line x1="886.0" x2="886.0" y1="372.5" y2="378.3" stroke="#000" stroke-width="1.6"/>
<text x="774.8" y="27.2" font-size="29.4" text-anchor="middle" font-weight="normal" >OINet (SST+SSH)</text>
<text transform="translate(571.7,79.1) rotate(0.03) scale(1.004,1.01)" font-size="32.6" font-weight="bold">RMSE = 51%</text>
<text transform="translate(582.8,352.2) scale(1,1)" font-size="40.8" font-weight="bold">c</text>
<g clip-path="url(#cp02)">
<rect x="1014.3" y="35.8" width="429.5" height="337.7" fill="#88ce63"/>
<g>
<path d="M1019.7,40.3C1026.1,34.6 1060.4,39.8 1074.6,39.7C1088.8,39.5 1121,39.2 1141.2,39.3C1161.4,39.4 1234.6,38.8 1247.8,40.3C1261,41.8 1252.7,48.7 1254.4,52C1256.2,55.3 1261.5,64.7 1262.8,68.6C1264,72.5 1264.1,81.4 1265.1,85.3C1266.1,89.2 1269.2,98 1271.1,101.9C1273,105.8 1278,115.1 1281.1,118.6C1284.2,122.1 1293.5,129.2 1297.7,131.9C1302,134.6 1312.7,140 1317.7,141.9C1322.8,143.8 1335.2,147.5 1341,147.9C1346.9,148.3 1361.8,146.7 1367.7,145.2C1373.5,143.7 1385.5,138 1391,135.2C1396.4,132.5 1409.6,125 1414.3,121.9C1419,118.8 1428.2,110.5 1431,108.6C1433.7,106.6 1436.6,103.7 1437.6,105.3C1438.6,106.8 1439.4,112.2 1439.6,121.9C1439.8,131.6 1439.8,173 1439.6,188.5C1439.5,204.1 1439.3,246.2 1438.3,255.1C1437.3,264.1 1433.8,262.8 1431,265.1C1428.2,267.4 1417.4,272.4 1414.3,275.1C1411.2,277.8 1406.1,284.9 1404.3,288.4C1402.6,291.9 1400.3,301.2 1399.3,305.1C1398.3,309 1397,318.2 1396,321.7C1395,325.2 1393.5,332.3 1391,335.1C1388.5,337.8 1377.8,342.7 1374.3,345C1370.8,347.4 1363.3,353 1361,355C1358.7,357.1 1360.6,361.2 1354.4,362.4C1348.1,363.5 1318.6,364.5 1307.7,365C1296.9,365.5 1268.1,367 1261.1,366.7C1254.1,366.4 1249.6,365.7 1247.8,362.4C1245.9,359.1 1245.3,345.1 1245.1,338.4C1244.9,331.7 1246.1,312.5 1246.1,305.1C1246.1,297.7 1245.7,280.9 1245.1,275.1C1244.5,269.3 1242,259.4 1241.1,255.1C1240.3,250.8 1238.8,242.4 1237.8,238.5C1236.8,234.6 1234,225.7 1232.8,221.8C1231.6,217.9 1229.2,209.4 1227.8,205.2C1226.4,200.9 1223.1,189.8 1221.1,185.2C1219.2,180.5 1213.9,169.1 1211.2,165.2C1208.4,161.3 1201.3,154.8 1197.8,151.9C1194.3,149 1185.8,142.6 1181.2,140.2C1176.5,137.9 1163.3,133.3 1157.9,131.9C1152.4,130.5 1139.6,128.1 1134.6,127.9C1129.5,127.7 1118.8,129 1114.6,130.2C1110.3,131.5 1101.8,136 1097.9,138.6C1094,141.1 1085,148.8 1081.3,151.9C1077.6,155 1069,161.7 1066.3,165.2C1063.6,168.7 1059.3,178 1058,181.9C1056.6,185.7 1056,195.2 1054.6,198.5C1053.3,201.8 1048.6,208.4 1046.3,210.2C1044,211.9 1037.8,213.2 1034.6,213.5C1031.5,213.8 1021.5,219.3 1019.7,212.5C1017.8,205.7 1019.1,169.7 1019,155.2C1018.9,140.8 1018.9,102 1019,88.6C1019.1,75.2 1013.2,46 1019.7,40.3Z" fill="#c0dd68"/>
<path d="M1294.4,52C1295.4,48.6 1296.1,47 1301.1,45.3C1306.1,43.6 1312.2,42.3 1324.4,42C1336.6,41.7 1360.5,42.5 1374.3,43.6C1388.2,44.8 1400.1,46.1 1407.6,48.6C1415.1,51.1 1417.1,54.7 1419.3,58.6C1421.5,62.5 1421.5,67.5 1421,72C1420.4,76.4 1418.7,80.8 1416,85.3C1413.2,89.7 1409.6,94.4 1404.3,98.6C1399,102.8 1392.1,107.2 1384.3,110.3C1376.6,113.3 1366,115.8 1357.7,116.9C1349.4,118 1341,118 1334.4,116.9C1327.7,115.8 1322.4,113.3 1317.7,110.3C1313,107.2 1309.1,103.3 1306.1,98.6C1303,93.9 1301.2,87.5 1299.4,81.9C1297.6,76.4 1295.9,70.3 1295.1,65.3C1294.2,60.3 1293.4,55.3 1294.4,52Z" fill="#c0dd68"/>
<path d="M1232.8,135.2C1233.9,134.6 1238.2,138 1241.1,140.2C1244,142.4 1250,148.8 1254.4,151.9C1258.9,155 1268.2,160.9 1274.4,163.5C1280.6,166.2 1294,170.5 1301.1,171.9C1308.2,173.2 1320.6,174 1327.7,173.5C1334.8,173.1 1347.3,170.5 1354.4,168.5C1361.5,166.5 1374.8,161 1381,158.5C1387.2,156.1 1396.8,151.6 1401,150.2C1405.2,148.9 1411.1,147.4 1412.6,148.6C1414.2,149.7 1413.3,154.5 1412.6,158.5C1412,162.5 1408.8,172.8 1407.6,178.5C1406.5,184.3 1405.4,195.6 1404.3,201.8C1403.2,208.1 1400.4,218.9 1399.3,225.2C1398.2,231.4 1397.1,242.2 1396,248.5C1394.9,254.7 1392.5,265.6 1391,271.8C1389.4,278 1386.1,289.8 1384.3,295.1C1382.6,300.4 1379.9,308.7 1377.7,311.7C1375.4,314.8 1371.7,317.5 1367.7,317.7C1363.7,318 1353.9,314.6 1347.7,313.4C1341.5,312.2 1327.7,309.5 1321.1,308.4C1314.4,307.3 1302.6,306.2 1297.7,305.1C1292.9,304 1287.3,302.3 1284.4,300.1C1281.5,297.9 1277.9,292.6 1276.1,288.4C1274.3,284.2 1272.7,273.8 1271.1,268.4C1269.5,263.1 1266.4,254.2 1264.4,248.5C1262.4,242.7 1258.3,231.4 1256.1,225.2C1253.9,218.9 1249.8,207.6 1247.8,201.8C1245.8,196.1 1242.7,187.2 1241.1,181.9C1239.6,176.5 1237.2,166.8 1236.1,161.9C1235,157 1233.2,148.8 1232.8,145.2C1232.4,141.7 1231.7,135.9 1232.8,135.2Z" fill="#f0ea8c"/>
<path d="M1001.3,240.1C1003.6,212.4 1007.2,240.1 1015,238.5C1022.8,236.8 1038.6,232.6 1048,230.1C1057.3,227.6 1067.7,227.6 1071.3,223.5C1074.9,219.3 1069.1,211 1069.6,205.2C1070.2,199.3 1071,194.1 1074.6,188.5C1078.2,183 1084.6,176.3 1091.3,171.9C1097.9,167.4 1107.4,164.6 1114.6,161.9C1121.8,159.1 1127.3,154.9 1134.6,155.2C1141.8,155.5 1150.4,160.8 1157.9,163.5C1165.4,166.3 1172.9,168.3 1179.5,171.9C1186.2,175.5 1192.8,180.2 1197.8,185.2C1202.9,190.2 1206.2,195.7 1209.8,201.8C1213.5,207.9 1216.9,214 1219.8,221.8C1222.7,229.6 1224.7,239.6 1227.1,248.5C1229.6,257.3 1232.6,265.7 1234.5,275.1C1236.4,284.5 1237.6,294.5 1238.5,305.1C1239.3,315.6 1239.9,328.4 1239.8,338.4C1239.7,348.4 1238.7,353.9 1237.8,365C1236.9,376.1 1273.9,398.3 1234.5,405C1195.1,411.6 1040.2,432.5 1001.3,405C962.5,377.5 999.1,267.9 1001.3,240.1Z" fill="#5dba75"/>
<path d="M1096.3,198.5C1096.8,195.7 1100.1,192 1102.9,190.2C1105.7,188.4 1110.3,187 1112.9,187.5C1115.5,188.1 1118,191.1 1118.6,193.5C1119.1,195.9 1118,199.5 1116.2,201.8C1114.5,204.2 1110.7,207 1107.9,207.8C1105.1,208.7 1101.5,208.4 1099.6,206.8C1097.6,205.3 1095.7,201.3 1096.3,198.5Z" fill="#88ce63"/>
<path d="M1001.3,246.8C1003.6,220.2 1008.3,246 1015,245.1C1021.7,244.3 1031.4,243.5 1041.3,241.8C1051.2,240.1 1063.5,237.6 1074.6,235.1C1085.7,232.6 1099,229.9 1107.9,226.8C1116.8,223.8 1123.5,221 1127.9,216.8C1132.3,212.7 1131.2,206.6 1134.6,201.8C1137.9,197.1 1142.9,191.6 1147.9,188.5C1152.9,185.5 1159,183.8 1164.5,183.5C1170.1,183.2 1176.3,184.6 1181.2,186.9C1186.1,189.1 1189.9,192.7 1193.8,196.8C1197.7,201 1201,205.4 1204.5,211.8C1207.9,218.2 1211.7,226.8 1214.5,235.1C1217.3,243.5 1219.4,252.9 1221.5,261.8C1223.6,270.7 1225.7,278.4 1227.1,288.4C1228.5,298.4 1229.5,310.6 1229.8,321.7C1230.1,332.8 1229.1,341.2 1228.8,355C1228.5,368.9 1265.7,396.7 1227.8,405C1189.9,413.3 1039.1,431.4 1001.3,405C963.6,378.6 999.1,273.4 1001.3,246.8Z" fill="#46a482"/>
<path d="M1001.3,256.8C1003.6,231.8 1008.3,256 1015,255.1C1021.7,254.3 1031.4,253.7 1041.3,251.8C1051.2,249.9 1063.5,246.2 1074.6,243.5C1085.7,240.7 1097.9,238.5 1107.9,235.1C1117.9,231.8 1127.9,227.4 1134.6,223.5C1141.2,219.6 1144,215.2 1147.9,211.8C1151.8,208.5 1153.4,204.9 1157.9,203.5C1162.3,202.1 1169.2,201.8 1174.5,203.5C1179.8,205.2 1185.2,208.8 1189.5,213.5C1193.8,218.2 1197,224.9 1200.2,231.8C1203.3,238.7 1206.2,246.8 1208.5,255.1C1210.8,263.4 1212.6,272.9 1214.1,281.8C1215.7,290.6 1217.3,299 1217.8,308.4C1218.3,317.8 1217.7,329.5 1217.1,338.4C1216.6,347.3 1215.2,350.6 1214.5,361.7C1213.8,372.8 1248.3,397.8 1212.8,405C1177.3,412.2 1036.6,429.7 1001.3,405C966.1,380.3 999.1,281.8 1001.3,256.8Z" fill="#388e87"/>
<path d="M1024.7,281.8C1024.7,274 1025.2,272.3 1028,268.4C1030.8,264.6 1033.5,261.2 1041.3,258.5C1049.1,255.7 1063.5,254.6 1074.6,251.8C1085.7,249 1097.9,245.1 1107.9,241.8C1117.9,238.5 1127.3,233.8 1134.6,231.8C1141.8,229.9 1146.5,229.6 1151.2,230.1C1155.9,230.7 1159.5,232.1 1162.9,235.1C1166.2,238.2 1169,242.9 1171.2,248.5C1173.4,254 1174.5,261.8 1176.2,268.4C1177.8,275.1 1180.1,282.3 1181.2,288.4C1182.3,294.5 1183.4,299.5 1182.8,305.1C1182.3,310.6 1180.3,316.7 1177.8,321.7C1175.3,326.7 1172.9,331.2 1167.9,335.1C1162.9,338.9 1157.9,342.3 1147.9,345C1137.9,347.8 1120.1,350.3 1107.9,351.7C1095.7,353.1 1084.6,353.9 1074.6,353.4C1064.6,352.8 1054.6,351.4 1048,348.4C1041.3,345.3 1038,340.6 1034.6,335.1C1031.3,329.5 1029.6,324 1028,315.1C1026.3,306.2 1024.7,289.5 1024.7,281.8Z" fill="#287689"/>
<path d="M1072.9,260.1C1075.2,256.8 1084.3,253.8 1091.3,251.8C1098.2,249.7 1108.9,248.4 1114.6,247.8C1120.2,247.2 1123.6,246.7 1125.2,248.5C1126.9,250.2 1125.5,254.6 1124.6,258.5C1123.6,262.3 1121.8,267.9 1119.6,271.8C1117.3,275.7 1114.8,279.4 1111.2,281.8C1107.6,284.1 1102.4,285.8 1097.9,285.8C1093.5,285.8 1087.9,284.1 1084.6,281.8C1081.3,279.4 1079.9,275.4 1077.9,271.8C1076,268.2 1070.7,263.4 1072.9,260.1Z" fill="#125d8f"/>
<path d="M1457.6,255.1C1455.6,236 1446.2,260 1442.6,261.8C1439.1,263.6 1434.3,266.2 1431,268.4C1427.6,270.7 1420.7,275.3 1417.6,278.4C1414.5,281.5 1409.4,287.8 1407.6,291.8C1405.9,295.8 1404.3,304.4 1404.3,308.4C1404.3,312.4 1406.1,319.2 1407.6,321.7C1409.2,324.3 1416.9,325.5 1416,327.7C1415.1,329.9 1405.2,335.4 1401,338.4C1396.8,341.4 1388.3,347.4 1384.3,350C1380.3,352.7 1374.1,355.9 1371,358.4C1367.9,360.8 1363.2,362.1 1361,368.4C1358.8,374.6 1341.5,400.1 1354.4,405C1367.2,409.9 1443.8,425 1457.6,405C1471.4,385 1459.6,274.2 1457.6,255.1Z" fill="#5dba75"/>
<path d="M1457.6,265.1C1455.1,255.1 1447.6,267.9 1442.6,270.1C1437.6,272.3 1431.8,274.8 1427.6,278.4C1423.5,282 1419.6,286.8 1417.6,291.8C1415.7,296.8 1414.9,303.4 1416,308.4C1417.1,313.4 1420.7,318.4 1424.3,321.7C1427.9,325.1 1432.1,327 1437.6,328.4C1443.2,329.8 1454.3,340.6 1457.6,330.1C1460.9,319.5 1460.1,275.1 1457.6,265.1Z" fill="#46a482"/>
<path d="M1457.6,338.4C1455.1,327.8 1448.2,340.3 1442.6,341.7C1437.1,343.1 1430.1,344.5 1424.3,346.7C1418.5,348.9 1412.6,352 1407.6,355C1402.6,358.1 1397.6,362.1 1394.3,365C1391,367.9 1389.3,365.7 1387.7,372.4C1386,379 1372.7,399.5 1384.3,405C1396,410.4 1445.4,416.1 1457.6,405C1469.8,393.9 1460.1,348.9 1457.6,338.4Z" fill="#46a482"/>
<path d="M1457.6,353.4C1455.1,345 1447.6,354.2 1442.6,355C1437.6,355.9 1432.1,356.7 1427.6,358.4C1423.2,360 1418.5,362.7 1416,365C1413.5,367.4 1413.5,365.7 1412.6,372.4C1411.8,379 1403.5,399.5 1411,405C1418.5,410.4 1449.8,413.6 1457.6,405C1465.4,396.4 1460.1,361.7 1457.6,353.4Z" fill="#388e87"/>
<path d="M1440.3,32C1440.3,32 1447.6,32 1447.6,32C1447.6,32 1447.6,261.8 1447.6,261.8C1447.6,261.8 1440.3,261.8 1440.3,261.8C1440.3,261.8 1440.3,32 1440.3,32Z" fill="#5dba75"/>
<path d="M1041.3,35.3C1041.3,35.3 1247.8,35.3 1247.8,35.3C1247.8,35.3 1246.1,38.7 1246.1,38.7C1246.1,38.7 1141.2,39.7 1141.2,39.7C1141.2,39.7 1043,39.3 1043,39.3C1043,39.3 1041.3,35.3 1041.3,35.3Z" fill="#88ce63"/>
</g>
<circle cx="1033.4" cy="195.8" r="5.9" fill="#ff0000"/>
<circle cx="1092.7" cy="254.8" r="5.9" fill="#ff0000"/>
<circle cx="1219.7" cy="113.9" r="5.9" fill="#ff0000"/>
<circle cx="1338.1" cy="77.5" r="5.9" fill="#ff0000"/>
<circle cx="1274.4" cy="200.2" r="5.9" fill="#ff0000"/>
<circle cx="1292.2" cy="214.1" r="5.9" fill="#ff0000"/>
<circle cx="1324.2" cy="263.6" r="5.9" fill="#ff0000"/>
<circle cx="1360.6" cy="281.8" r="5.9" fill="#ff0000"/>
<circle cx="1424.0" cy="290.9" r="5.9" fill="#ff0000"/>
<circle cx="1442.9" cy="341.1" r="5.9" fill="#ff0000"/>
</g>
<rect x="1015.3" y="36.8" width="427.5" height="335.7" fill="none" stroke="#000" stroke-width="1.6"/>
<line x1="1009.5" x2="1015.3" y1="372.5" y2="372.5" stroke="#000" stroke-width="1.6"/>
<line x1="1009.5" x2="1015.3" y1="307.8" y2="307.8" stroke="#000" stroke-width="1.6"/>
<line x1="1009.5" x2="1015.3" y1="243.0" y2="243.0" stroke="#000" stroke-width="1.6"/>
<line x1="1009.5" x2="1015.3" y1="178.3" y2="178.3" stroke="#000" stroke-width="1.6"/>
<line x1="1009.5" x2="1015.3" y1="113.5" y2="113.5" stroke="#000" stroke-width="1.6"/>
<line x1="1009.5" x2="1015.3" y1="48.8" y2="48.8" stroke="#000" stroke-width="1.6"/>
<line x1="1015.3" x2="1015.3" y1="372.5" y2="378.3" stroke="#000" stroke-width="1.6"/>
<line x1="1177.8" x2="1177.8" y1="372.5" y2="378.3" stroke="#000" stroke-width="1.6"/>
<line x1="1340.3" x2="1340.3" y1="372.5" y2="378.3" stroke="#000" stroke-width="1.6"/>
<text x="1229.0" y="27.2" font-size="29.4" text-anchor="middle" font-weight="normal" >CLOINet (SST)</text>
<text transform="translate(1026.0,79.1) rotate(0.03) scale(1.004,1.01)" font-size="32.6" font-weight="bold">RMSE = 41%</text>
<text transform="translate(1037.1,352.2) scale(1,1)" font-size="40.8" font-weight="bold">e</text>
<g clip-path="url(#cp03)">
<rect x="1468.5" y="35.8" width="429.5" height="337.7" fill="#88ce63"/>
<g>
<path d="M1473.7,105.3C1474,96.4 1474.2,90.2 1475.3,88.6C1476.4,87.1 1479.8,92.3 1482,93.6C1484.2,94.9 1488.9,99.3 1492,98.6C1495.1,97.9 1500.4,92.6 1505.3,88.6C1510.2,84.6 1521.1,72.8 1528.6,68.6C1536.2,64.4 1550.8,58.7 1561.9,57C1573,55.2 1598.5,55.7 1611.9,55.3C1625.2,54.9 1651.2,53.4 1661.8,53.6C1672.5,53.9 1686.9,54.5 1691.8,57C1696.7,59.4 1697.1,66.4 1698.5,72C1699.8,77.5 1700.5,91.9 1701.8,98.6C1703.1,105.3 1706.2,116.6 1708.4,121.9C1710.7,127.2 1714.9,134.6 1718.4,138.6C1722,142.6 1729.3,148.8 1735.1,151.9C1740.9,155 1753.7,159.7 1761.7,161.9C1769.7,164.1 1787,167.2 1795,168.5C1803,169.9 1815.5,171 1821.7,171.9C1827.9,172.8 1837.7,173.9 1841.7,175.2C1845.7,176.5 1850.5,179.2 1851.6,181.9C1852.8,184.5 1849.8,191.6 1850,195.2C1850.2,198.7 1852,204.9 1853.3,208.5C1854.6,212.1 1858.6,217.8 1860,221.8C1861.3,225.8 1863.1,233.1 1863.3,238.5C1863.5,243.8 1862.8,255.6 1861.6,261.8C1860.5,268 1857.2,279.3 1855,285.1C1852.8,290.9 1847.2,300.2 1845,305.1C1842.8,310 1840.5,318.2 1838.3,321.7C1836.1,325.3 1830.8,329.1 1828.3,331.7C1825.9,334.4 1821.8,338.6 1820,341.7C1818.2,344.8 1817,351.9 1815,355C1813,358.1 1809.9,363.2 1805,365C1800.1,366.8 1785.5,368.8 1778.4,368.4C1771.3,367.9 1757.1,364.8 1751.7,361.7C1746.4,358.6 1740.6,350.4 1738.4,345C1736.2,339.7 1736.4,327.9 1735.1,321.7C1733.8,315.5 1730.6,304.6 1728.4,298.4C1726.2,292.2 1721.1,281.3 1718.4,275.1C1715.8,268.9 1711.6,258 1708.4,251.8C1705.3,245.6 1698.7,234.3 1695.1,228.5C1691.6,222.7 1685.4,213.4 1681.8,208.5C1678.2,203.6 1672.9,195.8 1668.5,191.8C1664,187.9 1653.8,181.6 1648.5,178.5C1643.2,175.4 1633.4,171.2 1628.5,168.5C1623.6,165.9 1615,160.5 1611.9,158.5C1608.8,156.5 1607.4,155 1605.2,153.5C1603,152.1 1598.8,147.7 1595.2,147.9C1591.7,148.1 1583,152.9 1578.6,155.2C1574.1,157.5 1566.4,162.5 1561.9,165.2C1557.5,167.9 1549.7,172.5 1545.3,175.2C1540.8,177.9 1533,182.5 1528.6,185.2C1524.2,187.9 1516.4,192.5 1512,195.2C1507.5,197.8 1499.3,203.4 1495.3,205.2C1491.3,206.9 1484.9,208.3 1482,208.5C1479.1,208.7 1474.9,213.9 1473.7,206.8C1472.5,199.7 1473,168.8 1473,155.2C1473,141.7 1473.3,114.1 1473.7,105.3Z" fill="#c0dd68"/>
<path d="M1760.1,32C1742.9,35.1 1764,50 1765.1,55.3C1766.2,60.6 1767.1,67.5 1768.4,72C1769.7,76.4 1772.4,84.6 1775.1,88.6C1777.7,92.6 1783.9,99 1788.4,101.9C1792.8,104.8 1802.1,109.3 1808.4,110.3C1814.6,111.2 1827.9,110.4 1835,109.3C1842.1,108.1 1855.4,104 1861.6,101.9C1867.9,99.8 1877.4,95.4 1881.6,93.6C1885.9,91.8 1892,96.8 1893.6,88.6C1895.2,80.4 1911.4,39.5 1893.6,32C1875.8,24.4 1777.2,28.9 1760.1,32Z" fill="#c0dd68"/>
<path d="M1635.2,115.2C1634.9,110.8 1636.8,106.1 1638.5,101.9C1640.2,97.8 1642.4,93.2 1645.2,90.3C1647.9,87.4 1652.1,84.9 1655.2,84.6C1658.2,84.3 1661.5,85.7 1663.5,88.6C1665.4,91.5 1665.7,96.9 1666.8,101.9C1667.9,106.9 1669.6,113.6 1670.1,118.6C1670.7,123.6 1671.5,128.6 1670.1,131.9C1668.8,135.2 1665.2,137.7 1661.8,138.6C1658.5,139.4 1653.8,138.6 1650.2,136.9C1646.6,135.2 1642.7,132.2 1640.2,128.6C1637.7,125 1635.5,119.7 1635.2,115.2Z" fill="#f0ea8c"/>
<path d="M1783.4,40.3C1789.2,37.3 1814.3,39.3 1828.3,39.3C1842.3,39.3 1880.1,39.5 1888.3,40.3C1896.5,41.1 1891.3,42.9 1889.9,45.3C1888.6,47.8 1882.1,54.6 1878.3,58.6C1874.5,62.6 1866.5,71.3 1861.6,75.3C1856.8,79.3 1847,86.2 1841.7,88.6C1836.3,91 1826.6,93.4 1821.7,93.6C1816.8,93.8 1809,92.3 1805,90.3C1801,88.3 1794.4,82.4 1791.7,78.6C1789,74.8 1786.2,67.1 1785,62C1783.9,56.9 1777.6,43.3 1783.4,40.3Z" fill="#f0ea8c"/>
<path d="M1706.8,191.8C1707.1,188 1708.2,186 1711.8,185.2C1715.4,184.4 1721.2,185.7 1728.4,186.9C1735.6,188 1746.2,189.9 1755.1,191.8C1764,193.8 1772.8,195.7 1781.7,198.5C1790.6,201.3 1800.6,204.6 1808.4,208.5C1816.1,212.4 1823.3,216.8 1828.3,221.8C1833.3,226.8 1836.1,231.8 1838.3,238.5C1840.5,245.1 1841.7,254 1841.7,261.8C1841.7,269.6 1840,278.4 1838.3,285.1C1836.7,291.8 1834.4,297 1831.7,301.7C1828.9,306.5 1825.6,310.9 1821.7,313.4C1817.8,315.9 1813.9,316.5 1808.4,316.7C1802.8,317 1795,317 1788.4,315.1C1781.7,313.1 1773.9,309.5 1768.4,305.1C1762.8,300.6 1759,294.5 1755.1,288.4C1751.2,282.3 1749,275.1 1745.1,268.4C1741.2,261.8 1736.2,255.1 1731.8,248.5C1727.3,241.8 1722,235.1 1718.4,228.5C1714.8,221.8 1712.1,214.6 1710.1,208.5C1708.2,202.4 1706.5,195.7 1706.8,191.8Z" fill="#f0ea8c"/>
<path d="M1455.3,226.8C1457.6,196.8 1464.6,225.7 1469,225.2C1473.4,224.6 1476.5,225.2 1482,223.5C1487.5,221.8 1495.3,218.2 1502,215.2C1508.6,212.1 1515.8,208.2 1521.9,205.2C1528.1,202.1 1533,199.1 1538.6,196.8C1544.1,194.6 1549.7,193.2 1555.2,191.8C1560.8,190.5 1568,189.6 1571.9,188.5C1575.8,187.4 1575.8,185.5 1578.6,185.2C1581.3,184.9 1583,186.3 1588.6,186.9C1594.1,187.4 1604.1,187.1 1611.9,188.5C1619.6,189.9 1628,191.8 1635.2,195.2C1642.4,198.5 1649.1,203.5 1655.2,208.5C1661.3,213.5 1666.3,218.5 1671.8,225.2C1677.4,231.8 1683.5,240.1 1688.5,248.5C1693.5,256.8 1697.9,266.2 1701.8,275.1C1705.7,284 1709,292.9 1711.8,301.7C1714.6,310.6 1716.8,319.5 1718.4,328.4C1720.1,337.3 1721.2,347.7 1721.8,355C1722.3,362.4 1721.8,364 1721.8,372.4C1721.8,380.7 1766.2,399.5 1721.8,405C1677.4,410.4 1499.7,434.7 1455.3,405C1410.9,375.3 1453.1,256.8 1455.3,226.8Z" fill="#5dba75"/>
<path d="M1455.3,235.1C1457.6,206.8 1462.3,236.8 1469,235.1C1475.7,233.5 1485.4,228.8 1495.3,225.2C1505.2,221.5 1519.2,216.3 1528.6,213.5C1538,210.7 1543.6,210.2 1551.9,208.5C1560.2,206.8 1568.6,203.8 1578.6,203.5C1588.6,203.2 1601.9,204.6 1611.9,206.8C1621.9,209.1 1630.7,212.7 1638.5,216.8C1646.3,221 1652.4,225.4 1658.5,231.8C1664.6,238.2 1670.1,246.8 1675.1,255.1C1680.1,263.4 1684.6,272.9 1688.5,281.8C1692.3,290.6 1695.7,299 1698.5,308.4C1701.2,317.8 1703.4,327.7 1705.1,338.4C1706.8,349 1707.9,361.3 1708.4,372.4C1709,383.5 1750.6,399.5 1708.4,405C1666.3,410.4 1497.5,433.3 1455.3,405C1413.2,376.7 1453.1,263.4 1455.3,235.1Z" fill="#46a482"/>
<path d="M1472,255.1C1473.4,248.5 1477,245.7 1482,241.8C1487,237.9 1494.2,234.6 1502,231.8C1509.7,229 1518.6,227.4 1528.6,225.2C1538.6,222.9 1550.8,219.9 1561.9,218.5C1573,217.1 1585.2,216.3 1595.2,216.8C1605.2,217.4 1613.5,218.8 1621.9,221.8C1630.2,224.9 1638.5,229.6 1645.2,235.1C1651.8,240.7 1657.4,247.9 1661.8,255.1C1666.3,262.3 1669.6,271.2 1671.8,278.4C1674,285.7 1675.7,294.5 1675.1,298.4C1674.6,302.3 1671.8,302.9 1668.5,301.7C1665.2,300.6 1659.6,294.5 1655.2,291.8C1650.7,289 1647.4,285.7 1641.8,285.1C1636.3,284.5 1629.6,286.8 1621.9,288.4C1614.1,290.1 1605.2,292.9 1595.2,295.1C1585.2,297.3 1573,300.1 1561.9,301.7C1550.8,303.4 1538.6,304.5 1528.6,305.1C1518.6,305.6 1509.7,306.2 1502,305.1C1494.2,304 1486.7,302.3 1482,298.4C1477.3,294.5 1475.3,289 1473.7,281.8C1472,274.6 1470.6,261.8 1472,255.1Z" fill="#388e87"/>
<path d="M1465.3,221.8C1465.3,221.8 1473.3,225.2 1473.3,225.2C1473.3,225.2 1474,288.4 1474,288.4C1474,288.4 1474,375 1474,375C1474,375 1465.3,375 1465.3,375C1465.3,375 1465.3,221.8 1465.3,221.8Z" fill="#388e87"/>
<path d="M1490.3,265.1C1489.8,261 1491.7,255.7 1495.3,251.8C1498.9,247.9 1505.3,244.3 1512,241.8C1518.6,239.3 1526.9,238.4 1535.3,236.8C1543.6,235.3 1553,233.3 1561.9,232.5C1570.8,231.6 1581.3,231.1 1588.6,231.8C1595.8,232.5 1601,234.3 1605.2,236.8C1609.4,239.3 1613,243.2 1613.5,246.8C1614.1,250.4 1611.6,254.8 1608.5,258.5C1605.5,262.1 1601.3,265.7 1595.2,268.4C1589.1,271.2 1580.2,273.2 1571.9,275.1C1563.6,277 1554.1,279 1545.3,280.1C1536.4,281.2 1526.4,282.3 1518.6,281.8C1510.8,281.2 1503.4,279.5 1498.6,276.8C1493.9,274 1490.9,269.3 1490.3,265.1Z" fill="#287689"/>
<path d="M1536.9,254.5C1538.6,253.3 1548.3,251.1 1555.2,250.1C1562.2,249.1 1577.5,247.9 1578.6,248.5C1579.7,249 1567.5,252.1 1561.9,253.5C1556.4,254.8 1549.4,256.6 1545.3,256.8C1541.1,257 1535.3,255.6 1536.9,254.5Z" fill="#125d8f"/>
<path d="M1515.8,380.8C1494.3,378.9 1505.5,372.2 1501.2,369.6C1496.9,367 1492.1,366.6 1490,365.1C1487.8,363.6 1488.1,362.9 1488.3,360.6C1488.5,358.4 1489.3,355.4 1491.1,351.7C1492.9,347.9 1495.4,342.3 1499,338.2C1502.5,334.1 1506.4,330.4 1512.4,327C1518.4,323.7 1526.4,320.3 1534.8,318.1C1543.2,315.8 1553.5,314.6 1562.8,313.6C1572.1,312.6 1582.4,312.1 1590.8,311.9C1599.2,311.7 1606.6,311.8 1613.2,312.5C1619.7,313.1 1624.4,313.8 1630,315.8C1635.6,317.9 1641.7,321.1 1646.8,324.8C1651.8,328.5 1656.7,333.9 1660.2,338.2C1663.8,342.5 1666.2,346.8 1668,350.5C1669.9,354.3 1672.2,357.8 1671.4,360.6C1670.7,363.4 1667.7,365.7 1663.6,367.3C1659.5,369 1652.4,368.5 1646.8,370.7C1641.2,372.9 1651.8,379.1 1630,380.8C1608.1,382.5 1537.2,382.7 1515.8,380.8Z" fill="#5dba75"/>
<path d="M1515.8,363.4C1516.9,361.2 1520.6,356.2 1524.7,352.8C1528.8,349.3 1534,345.3 1540.4,342.7C1546.7,340.1 1555.3,338 1562.8,337.1C1570.2,336.2 1577.7,336.6 1585.2,337.1C1592.6,337.7 1601,338.8 1607.6,340.5C1614.1,342.2 1619.5,344.8 1624.4,347.2C1629.2,349.6 1633.5,352.8 1636.7,355C1639.9,357.3 1642.7,358.9 1643.4,360.6C1644.2,362.3 1643.4,363.8 1641.2,365.1C1638.9,366.4 1635.6,367.6 1630,368.5C1624.4,369.3 1618.8,369.8 1607.6,370.1C1596.4,370.5 1575.8,371 1562.8,370.7C1549.7,370.4 1536.7,369.2 1529.2,368.5C1521.7,367.7 1520.2,367.1 1518,366.2C1515.8,365.4 1514.6,365.7 1515.8,363.4Z" fill="#88ce63"/>
<path d="M1695.1,28.7C1686.8,33.1 1696.8,46.4 1698.5,55.3C1700.1,64.2 1702.9,73.6 1705.1,81.9C1707.3,90.3 1708.4,98 1711.8,105.3C1715.1,112.5 1719.5,119.1 1725.1,125.2C1730.6,131.3 1737.9,136.9 1745.1,141.9C1752.3,146.9 1760.1,151.9 1768.4,155.2C1776.7,158.5 1785,160.5 1795,161.9C1805,163.3 1817.2,164.1 1828.3,163.5C1839.4,163 1852.8,159.9 1861.6,158.5C1870.5,157.2 1873.3,156.3 1881.6,155.2C1889.9,154.1 1906.6,160.8 1911.6,151.9C1916.6,143 1914.1,110 1911.6,101.9C1909.1,93.9 1902.2,102.2 1896.6,103.6C1891.1,105 1885.2,107.8 1878.3,110.3C1871.4,112.8 1863.3,116.4 1855,118.6C1846.7,120.8 1836.7,123 1828.3,123.6C1820,124.1 1812.8,123.9 1805,121.9C1797.3,120 1788.4,116.4 1781.7,111.9C1775.1,107.5 1769.5,101.4 1765.1,95.3C1760.6,89.2 1757.3,81.9 1755.1,75.3C1752.8,68.6 1752.8,63.1 1751.7,55.3C1750.6,47.5 1757.8,33.1 1748.4,28.7C1739,24.2 1703.4,24.2 1695.1,28.7Z" fill="#5dba75"/>
<path d="M1706.8,40.3C1709.8,36.4 1724.3,36.2 1728.4,38.7C1732.6,41.1 1731.8,49.2 1731.8,55.3C1731.8,61.4 1729.5,70.3 1728.4,75.3C1727.3,80.3 1727.3,84.7 1725.1,85.3C1722.9,85.8 1717.6,82.5 1715.1,78.6C1712.6,74.7 1711.5,68.3 1710.1,62C1708.7,55.6 1703.7,44.2 1706.8,40.3Z" fill="#46a482"/>
<path d="M1755.1,136.9C1756.2,135.5 1761.7,134.1 1768.4,135.2C1775.1,136.3 1785,141.9 1795,143.6C1805,145.2 1817.2,146.1 1828.3,145.2C1839.4,144.4 1852.8,141.3 1861.6,138.6C1870.5,135.8 1875.8,131.9 1881.6,128.6C1887.5,125.2 1891.6,120.5 1896.6,118.6C1901.6,116.6 1909.1,111.9 1911.6,116.9C1914.1,121.9 1914.1,143.3 1911.6,148.6C1909.1,153.8 1902.2,148 1896.6,148.6C1891.1,149.1 1886.9,150.5 1878.3,151.9C1869.7,153.3 1856.1,156 1845,156.9C1833.9,157.7 1822.2,157.7 1811.7,156.9C1801.1,156 1790,154.1 1781.7,151.9C1773.4,149.7 1766.2,146.1 1761.7,143.6C1757.3,141.1 1754,138.3 1755.1,136.9Z" fill="#46a482"/>
<path d="M1911.6,155.2C1908.9,122.8 1894.3,156.5 1891.6,161.9C1888.9,167.2 1891.8,187.2 1891.6,195.2C1891.4,203.2 1890.8,215.6 1889.9,221.8C1889.1,228 1886.5,236.5 1885,241.8C1883.4,247.1 1880.5,256.5 1878.3,261.8C1876.1,267.1 1871,276.4 1868.3,281.8C1865.6,287.1 1861,296.4 1858.3,301.7C1855.6,307.1 1850.5,316.4 1848.3,321.7C1846.1,327.1 1843.4,336.4 1841.7,341.7C1839.9,347 1836.3,357.6 1835,361.7C1833.7,365.8 1832.6,366.6 1831.7,372.4C1830.8,378.1 1817.7,400.6 1828.3,405C1839,409.3 1900.5,438.3 1911.6,405C1922.7,371.7 1914.3,187.6 1911.6,155.2Z" fill="#5dba75"/>
<path d="M1911.6,248.5C1909.1,223.5 1900.5,251.8 1896.6,255.1C1892.7,258.5 1891.3,262.9 1888.3,268.4C1885.2,274 1881.9,281.8 1878.3,288.4C1874.7,295.1 1870.2,301.7 1866.6,308.4C1863,315.1 1859.1,321.7 1856.6,328.4C1854.1,335.1 1853,341 1851.6,348.4C1850.3,355.7 1849.2,362.9 1848.3,372.4C1847.5,381.8 1836.1,399.5 1846.7,405C1857.2,410.4 1900.8,431.1 1911.6,405C1922.4,378.9 1914.1,273.4 1911.6,248.5Z" fill="#46a482"/>
<path d="M1911.6,291.8C1909.1,274 1899.9,295.1 1896.6,298.4C1893.3,301.7 1893.6,307.9 1891.6,311.7C1889.7,315.6 1887.7,317.3 1885,321.7C1882.2,326.2 1878,332.8 1875,338.4C1871.9,343.9 1868.9,349.4 1866.6,355C1864.4,360.7 1862.8,364 1861.6,372.4C1860.5,380.7 1851.6,399.5 1860,405C1868.3,410.4 1903,423.9 1911.6,405C1920.2,386.1 1914.1,309.5 1911.6,291.8Z" fill="#388e87"/>
<path d="M1911.6,338.4C1909.1,327.8 1900.5,339.8 1896.6,341.7C1892.7,343.7 1890.8,346.7 1888.3,350C1885.8,353.4 1883.3,358 1881.6,361.7C1880,365.4 1879.1,365.1 1878.3,372.4C1877.5,379.6 1871.1,399.5 1876.6,405C1882.2,410.4 1905.8,416.1 1911.6,405C1917.4,393.9 1914.1,348.9 1911.6,338.4Z" fill="#287689"/>
<path d="M1465.3,32C1465.3,32 1695.1,32 1695.1,32C1695.1,32 1695.1,39.3 1695.1,39.3C1695.1,39.3 1595.2,40.6 1595.2,40.6C1595.2,40.6 1482,40.6 1482,40.6C1482,40.6 1475.3,62 1475.3,62C1475.3,62 1473.3,98.6 1473.3,98.6C1473.3,98.6 1465.3,98.6 1465.3,98.6C1465.3,98.6 1465.3,32 1465.3,32Z" fill="#5dba75"/>
</g>
<circle cx="1487.6" cy="195.8" r="5.9" fill="#ff0000"/>
<circle cx="1546.9" cy="254.8" r="5.9" fill="#ff0000"/>
<circle cx="1673.9" cy="113.9" r="5.9" fill="#ff0000"/>
<circle cx="1792.3" cy="77.5" r="5.9" fill="#ff0000"/>
<circle cx="1728.6" cy="200.2" r="5.9" fill="#ff0000"/>
<circle cx="1746.4" cy="214.1" r="5.9" fill="#ff0000"/>
<circle cx="1778.4" cy="263.6" r="5.9" fill="#ff0000"/>
<circle cx="1814.8" cy="281.8" r="5.9" fill="#ff0000"/>
<circle cx="1878.2" cy="290.9" r="5.9" fill="#ff0000"/>
<circle cx="1897.1" cy="341.1" r="5.9" fill="#ff0000"/>
</g>
<rect x="1469.5" y="36.8" width="427.5" height="335.7" fill="none" stroke="#000" stroke-width="1.6"/>
<line x1="1463.7" x2="1469.5" y1="372.5" y2="372.5" stroke="#000" stroke-width="1.6"/>
<line x1="1463.7" x2="1469.5" y1="307.8" y2="307.8" stroke="#000" stroke-width="1.6"/>
<line x1="1463.7" x2="1469.5" y1="243.0" y2="243.0" stroke="#000" stroke-width="1.6"/>
<line x1="1463.7" x2="1469.5" y1="178.3" y2="178.3" stroke="#000" stroke-width="1.6"/>
<line x1="1463.7" x2="1469.5" y1="113.5" y2="113.5" stroke="#000" stroke-width="1.6"/>
<line x1="1463.7" x2="1469.5" y1="48.8" y2="48.8" stroke="#000" stroke-width="1.6"/>
<line x1="1469.5" x2="1469.5" y1="372.5" y2="378.3" stroke="#000" stroke-width="1.6"/>
<line x1="1632.0" x2="1632.0" y1="372.5" y2="378.3" stroke="#000" stroke-width="1.6"/>
<line x1="1794.5" x2="1794.5" y1="372.5" y2="378.3" stroke="#000" stroke-width="1.6"/>
<text x="1683.2" y="27.2" font-size="29.4" text-anchor="middle" font-weight="normal" >CLOINet (SSH)</text>
<text transform="translate(1480.2,79.1) rotate(0.03) scale(1.004,1.01)" font-size="32.6" font-weight="bold">RMSE = 56%</text>
<text transform="translate(1491.3,352.2) scale(1,1)" font-size="40.8" font-weight="bold">g</text>
<g clip-path="url(#cp04)">
<rect x="1922.7" y="35.8" width="429.5" height="337.7" fill="#c0dd68"/>
<g>
<path d="M2114.2,47C2114.7,45.2 2115.4,42.7 2119.2,42C2122.9,41.2 2137.1,40.9 2142.5,41.3C2147.8,41.8 2156.2,43 2159.1,45.3C2162,47.6 2162.8,54.2 2164.1,58.6C2165.4,63.1 2168,73.3 2169.1,78.6C2170.2,83.9 2171.1,93.3 2172.4,98.6C2173.8,103.9 2176.4,113.7 2179.1,118.6C2181.8,123.5 2188,131.5 2192.4,135.2C2196.9,139 2207.1,144.7 2212.4,146.9C2217.7,149.1 2226.6,151.4 2232.4,151.9C2238.2,152.3 2249,151.6 2255.7,150.2C2262.4,148.9 2275.7,144.8 2282.3,141.9C2289,139 2299.9,132.1 2305.6,128.6C2311.4,125 2321.2,118 2325.6,115.2C2330.1,112.5 2336.3,108.4 2339,107.9C2341.6,107.5 2344.5,107.8 2345.6,111.9C2346.7,116 2347.1,128.3 2347.3,138.6C2347.5,148.8 2347.4,175.2 2347.3,188.5C2347.1,201.8 2346.1,230.5 2346.3,238.5C2346.4,246.5 2350.4,246.4 2348.3,248.5C2346.1,250.5 2335.5,252.2 2330.3,253.8C2325.1,255.3 2313.2,257.9 2309,260.1C2304.8,262.4 2300.6,267.1 2298.7,270.8C2296.7,274.5 2295,282.1 2294.3,287.8C2293.6,293.4 2294.2,308.9 2293.3,313.1C2292.5,317.3 2290.1,318.7 2288,319.4C2285.9,320.1 2281.6,319.2 2277.3,318.4C2273.1,317.6 2263.1,314.5 2256,313.1C2249,311.7 2231.4,308.6 2224.4,307.7C2217.3,306.9 2208.2,308 2203.1,306.7C2198,305.5 2189.3,301.2 2186.1,298.4C2182.8,295.6 2180.1,289.1 2178.8,285.8C2177.5,282.4 2177.3,278 2176.4,273.4C2175.6,268.9 2174.1,258.2 2172.4,251.8C2170.8,245.4 2166.3,232.3 2164.1,225.2C2161.9,218 2158,205.6 2155.8,198.5C2153.6,191.4 2149.7,179 2147.5,171.9C2145.2,164.8 2141.1,152.3 2139.1,145.2C2137.1,138.1 2134.2,125.7 2132.5,118.6C2130.7,111.5 2127.6,98.6 2125.8,91.9C2124,85.3 2120.6,73.5 2119.2,68.6C2117.7,63.7 2115.8,58.2 2115.2,55.3C2114.5,52.4 2113.6,48.8 2114.2,47Z" fill="#f0ea8c"/>
<path d="M2230.7,52C2231,49.6 2232.7,47.3 2235.7,46C2238.8,44.6 2243.5,44.2 2249,44C2254.6,43.8 2266.2,43.9 2269,44.6C2271.8,45.4 2269,47.7 2265.7,48.6C2262.4,49.6 2253.2,49.5 2249,50.3C2244.9,51.1 2242.4,51.4 2240.7,53.6C2239,55.9 2240.2,62.5 2239,63.6C2237.9,64.7 2235.4,62.2 2234,60.3C2232.7,58.4 2230.4,54.4 2230.7,52Z" fill="#f0ea8c"/>
<path d="M2222.4,326.7C2222.4,324.9 2227.7,323.3 2230.7,322.7C2233.8,322.2 2238.2,322.5 2240.7,323.4C2243.2,324.3 2245.7,326.7 2245.7,328.4C2245.7,330.1 2243.2,332.6 2240.7,333.4C2238.2,334.2 2233.8,334.5 2230.7,333.4C2227.7,332.3 2222.4,328.5 2222.4,326.7Z" fill="#88ce63"/>
<path d="M2067.5,28.7C2089.3,31.3 2070.5,43.3 2072.5,48.6C2074.5,54 2080.3,63.3 2082.5,68.6C2084.7,74 2087,83.7 2089.2,88.6C2091.4,93.5 2096.1,100.8 2099.2,105.3C2102.3,109.7 2109.4,117.5 2112.5,121.9C2115.6,126.4 2120.3,133.2 2122.5,138.6C2124.7,143.9 2127.4,155.2 2129.1,161.9C2130.9,168.5 2134,181.4 2135.8,188.5C2137.6,195.6 2140.7,208.1 2142.5,215.2C2144.2,222.3 2147.6,234.7 2149.1,241.8C2150.7,248.9 2153.2,261.3 2154.1,268.4C2155,275.5 2155.8,288 2155.8,295.1C2155.8,302.2 2154.6,314.6 2154.1,321.7C2153.7,328.8 2152.6,342.6 2152.5,348.4C2152.3,354.1 2152.7,362.1 2153.1,365C2153.6,367.9 2151.9,369.6 2155.8,370C2159.7,370.5 2170,368.8 2182.4,368.4C2194.9,367.9 2237.5,367.1 2249,366.7C2260.6,366.2 2265.5,365.7 2269,365C2272.5,364.4 2274,362.9 2275.3,361.7C2276.7,360.5 2277.7,357.7 2279.3,355.7C2281,353.7 2284.6,349 2288,347C2291.4,345 2300.8,342.4 2305,340.7C2309.2,339 2316.8,336.4 2319.6,334.4C2322.4,332.4 2327.4,328.3 2326,325.7C2324.5,323.2 2312,318.5 2309,315.4C2306,312.3 2304.2,306.4 2303.7,302.4C2303.1,298.5 2303.4,290 2305,285.8C2306.6,281.5 2312.3,273.9 2315.6,270.8C2319,267.7 2325.9,264.4 2330.3,262.5C2334.6,260.5 2343.6,257.2 2348.3,255.8C2353,254.4 2363.3,231.9 2365.6,251.8C2367.9,271.7 2426.4,384.6 2365.6,405C2304.8,425.4 1970.2,455.2 1909.3,405C1848.5,354.8 1888.2,78.8 1909.3,28.7C1930.4,-21.5 2045.8,26 2067.5,28.7Z" fill="#88ce63"/>
<path d="M1927.7,42C1932.4,36.7 1949.6,40 1956,40.3C1962.3,40.6 1966,41.1 1966,43.6C1966,46.1 1959.3,50.6 1956,55.3C1952.6,60 1948.7,66.4 1946,72C1943.2,77.5 1941.5,83.1 1939.3,88.6C1937.1,94.2 1934.4,103 1932.7,105.3C1930.9,107.5 1929.5,107.5 1928.7,101.9C1927.8,96.4 1927.8,81.9 1927.7,72C1927.5,62 1922.9,47.3 1927.7,42Z" fill="#c0dd68"/>
<path d="M1929.3,168.5C1930.2,160.8 1932.1,164.1 1934.3,165.2C1936.5,166.3 1939.6,170.8 1942.6,175.2C1945.7,179.6 1949.3,186.3 1952.6,191.8C1956,197.4 1959.8,203.8 1962.6,208.5C1965.4,213.2 1968.5,217.1 1969.3,220.2C1970.1,223.2 1969.8,226 1967.6,226.8C1965.4,227.6 1959.6,226 1956,225.2C1952.4,224.3 1949.9,222.1 1946,221.8C1942.1,221.5 1935.4,225.2 1932.7,223.5C1929.9,221.8 1929.9,221 1929.3,211.8C1928.8,202.7 1928.5,176.3 1929.3,168.5Z" fill="#c0dd68"/>
<path d="M1909.3,250.1C1911.7,224 1918.9,249.6 1923.3,248.5C1927.8,247.4 1930.5,245.1 1936,243.5C1941.4,241.8 1948.2,239.9 1956,238.5C1963.7,237.1 1975.9,236.5 1982.6,235.1C1989.3,233.8 1993.4,232.4 1995.9,230.1C1998.4,227.9 1999.3,224.3 1997.6,221.8C1995.9,219.3 1990.1,218.5 1985.9,215.2C1981.8,211.8 1975.9,207.4 1972.6,201.8C1969.3,196.3 1967.6,188.5 1966,181.9C1964.3,175.2 1965.4,166.9 1962.6,161.9C1959.8,156.9 1952.9,155.2 1949.3,151.9C1945.7,148.6 1942.1,145.2 1941,141.9C1939.9,138.6 1941.3,135.8 1942.6,131.9C1944,128 1945.4,123.6 1949.3,118.6C1953.2,113.6 1960.4,106.6 1966,101.9C1971.5,97.2 1976.5,93 1982.6,90.3C1988.7,87.5 1995.4,85.8 2002.6,85.3C2009.8,84.7 2018.1,84.7 2025.9,86.9C2033.7,89.2 2042,94.4 2049.2,98.6C2056.4,102.8 2062.5,107.5 2069.2,111.9C2075.9,116.4 2083.1,120.8 2089.2,125.2C2095.3,129.7 2100.8,133.6 2105.8,138.6C2110.8,143.6 2115.5,148.6 2119.2,155.2C2122.8,161.9 2125,170.2 2127.5,178.5C2130,186.9 2131.9,196.3 2134.1,205.2C2136.4,214 2138.9,222.9 2140.8,231.8C2142.7,240.7 2144.4,249 2145.8,258.5C2147.2,267.9 2148.6,277.9 2149.1,288.4C2149.7,299 2149.4,310.6 2149.1,321.7C2148.8,332.8 2148,346.6 2147.5,355C2146.9,363.5 2146.1,364 2145.8,372.4C2145.5,380.7 2185.2,399.5 2145.8,405C2106.4,410.4 1948.7,430.8 1909.3,405C1869.9,379.2 1907,276.2 1909.3,250.1Z" fill="#5dba75"/>
<path d="M1909.3,255.1C1911.7,229.9 1915.6,255.4 1923.3,253.5C1931.1,251.5 1946.1,246 1956,243.5C1965.8,241 1975.4,241 1982.6,238.5C1989.8,236 1994.8,231.8 1999.3,228.5C2003.7,225.2 2005.4,221.8 2009.2,218.5C2013.1,215.2 2019.2,211.8 2022.6,208.5C2025.9,205.2 2028.4,201.3 2029.2,198.5C2030.1,195.7 2029.2,192.7 2027.6,191.8C2025.9,191 2022.8,191.8 2019.2,193.5C2015.6,195.2 2010.4,200.2 2005.9,201.8C2001.5,203.5 1996.5,204.6 1992.6,203.5C1988.7,202.4 1984.3,198.8 1982.6,195.2C1980.9,191.6 1982.1,186.3 1982.6,181.9C1983.2,177.4 1983.7,173 1985.9,168.5C1988.2,164.1 1992,159.7 1995.9,155.2C1999.8,150.8 2004.3,145.5 2009.2,141.9C2014.2,138.3 2019.2,135 2025.9,133.6C2032.6,132.2 2042,132.2 2049.2,133.6C2056.4,135 2062.5,138.3 2069.2,141.9C2075.9,145.5 2083.1,150.2 2089.2,155.2C2095.3,160.2 2100.8,165.8 2105.8,171.9C2110.8,178 2115.5,184.6 2119.2,191.8C2122.8,199.1 2125,206.8 2127.5,215.2C2130,223.5 2132.2,232.9 2134.1,241.8C2136.1,250.7 2137.7,259.6 2139.1,268.4C2140.5,277.3 2141.9,286.2 2142.5,295.1C2143,304 2142.7,311.7 2142.5,321.7C2142.2,331.7 2141.4,346.6 2140.8,355C2140.2,363.5 2139.4,364 2139.1,372.4C2138.9,380.7 2177.4,399.5 2139.1,405C2100.8,410.4 1947.6,430 1909.3,405C1871,380 1907,280.4 1909.3,255.1Z" fill="#46a482"/>
<path d="M1909.3,260.1C1911.7,235.7 1913.9,260.4 1923.3,258.5C1932.8,256.5 1953.3,251.8 1966,248.5C1978.6,245.1 1990.9,241.2 1999.3,238.5C2007.6,235.7 2010.4,234.6 2015.9,231.8C2021.5,229 2027.6,225.7 2032.6,221.8C2037.6,217.9 2043.1,212.9 2045.9,208.5C2048.7,204.1 2049.2,199.6 2049.2,195.2C2049.2,190.7 2048.7,185.7 2045.9,181.9C2043.1,178 2037.6,174.1 2032.6,171.9C2027.6,169.6 2019.2,170.2 2015.9,168.5C2012.6,166.9 2012.6,165.2 2012.6,161.9C2012.6,158.5 2013.1,152.2 2015.9,148.6C2018.7,144.9 2023.7,141.3 2029.2,140.2C2034.8,139.1 2043.1,140.2 2049.2,141.9C2055.3,143.6 2060.3,146.3 2065.9,150.2C2071.4,154.1 2077,159.9 2082.5,165.2C2088.1,170.5 2094.2,175.8 2099.2,181.9C2104.2,188 2108.6,194.6 2112.5,201.8C2116.4,209.1 2119.7,216.8 2122.5,225.2C2125.3,233.5 2127.5,242.9 2129.1,251.8C2130.8,260.7 2131.6,269.6 2132.5,278.4C2133.3,287.3 2134.1,295.1 2134.1,305.1C2134.1,315.1 2133,327.2 2132.5,338.4C2131.9,349.6 2131.1,361.3 2130.8,372.4C2130.5,383.5 2167.7,399.5 2130.8,405C2093.9,410.4 1946.3,429.1 1909.3,405C1872.4,380.8 1907,284.5 1909.3,260.1Z" fill="#388e87"/>
<path d="M1906,359.9C1908.6,371.9 1921.6,359.5 1925.2,359.9C1928.7,360.2 1930.3,361.8 1932.7,362.4C1935,362.9 1939.3,364.4 1942.6,364C1946,363.7 1953.4,361.3 1957.6,359.9C1961.9,358.4 1969.8,355.1 1974.3,353.2C1978.7,351.3 1986.5,347.2 1990.9,345.7C1995.4,344.3 2003.1,342.6 2007.6,342.4C2012,342.2 2019.8,343.3 2024.2,344C2028.7,344.8 2036.5,347 2040.9,348.2C2045.3,349.4 2053.1,351.9 2057.5,353.2C2062,354.5 2070.6,357.2 2074.2,358.2C2077.8,359.2 2082.2,360.9 2084.2,360.7C2086.2,360.5 2087.6,358.4 2089.2,356.5C2090.7,354.6 2094.1,349.7 2095.9,346.5C2097.6,343.4 2101,337.2 2102.5,333.2C2104.1,329.2 2106.6,321 2107.5,316.6C2108.4,312.1 2109.4,304.4 2109.2,299.9C2109,295.5 2107,287.7 2105.8,283.3C2104.7,278.8 2101.1,270.2 2100.8,266.6C2100.6,263.1 2103.3,259.1 2104.2,256.6C2105.1,254.2 2107.5,251 2107.5,248.3C2107.5,245.6 2105.7,240 2104.2,236.6C2102.6,233.3 2098.7,226.6 2095.9,223.3C2093,220 2086.1,214 2082.5,211.7C2079,209.3 2072.5,206.1 2069.2,205.8C2065.9,205.6 2060.7,208.3 2057.5,210C2054.4,211.7 2049.2,215.9 2045.9,218.3C2042.6,220.8 2036.6,225.6 2032.6,228.3C2028.6,231 2020.4,235.9 2015.9,238.3C2011.5,240.7 2003.7,244.9 1999.3,246.6C1994.8,248.4 1987.1,250.5 1982.6,251.6C1978.2,252.7 1970.4,254.1 1966,255C1961.5,255.8 1953.7,257.1 1949.3,258.3C1944.9,259.5 1935.9,263 1932.7,264.1C1929.4,265.2 1928.7,265.8 1925.2,266.6C1921.6,267.4 1908.6,257.5 1906,269.9C1903.5,282.4 1903.5,347.9 1906,359.9Z" fill="#287689"/>
<path d="M2005.9,252.5C2007,251.2 2011.5,249.7 2015.9,248.5C2020.4,247.2 2028.7,245.6 2032.6,245.1C2036.4,244.7 2038.6,244.8 2039.2,245.8C2039.9,246.8 2039.3,249.7 2036.6,251.1C2033.8,252.6 2027.1,253.7 2022.6,254.5C2018,255.2 2012,256.1 2009.2,255.8C2006.5,255.5 2004.8,253.7 2005.9,252.5Z" fill="#125d8f"/>
<path d="M2365.6,265.1C2363.6,246.7 2354.9,266.1 2350.9,266.8C2346.9,267.4 2339.4,268.6 2335.6,270.1C2331.8,271.7 2324.7,275.5 2322.3,278.4C2319.9,281.3 2317.5,288.2 2317.3,291.8C2317.1,295.3 2318.9,302 2320.6,305.1C2322.4,308.2 2329.1,312.4 2330.6,315.1C2332.2,317.7 2333,322.4 2332.3,325.1C2331.6,327.7 2328.7,332.8 2325.6,335.1C2322.5,337.3 2313,339.5 2309,341.7C2305,343.9 2298.8,349 2295.7,351.7C2292.5,354.4 2287.9,358.9 2285.7,361.7C2283.4,364.4 2280.3,366.6 2279,372.4C2277.7,378.1 2264.1,400.6 2275.7,405C2287.2,409.3 2353.6,423.6 2365.6,405C2377.6,386.3 2367.5,283.5 2365.6,265.1Z" fill="#5dba75"/>
<path d="M2365.6,273.4C2363.2,266.7 2355.9,274 2350.9,275.1C2345.9,276.2 2339.6,277.3 2335.6,280.1C2331.7,282.9 2328.1,287.9 2327.3,291.8C2326.5,295.6 2328.1,300.1 2330.6,303.4C2333.1,306.7 2338.9,309.8 2342.3,311.7C2345.7,313.7 2347.1,314.4 2350.9,315.1C2354.8,315.7 2363.2,322.7 2365.6,315.7C2368,308.8 2368,280.2 2365.6,273.4Z" fill="#46a482"/>
<path d="M2365.6,330.1C2363.2,317.8 2355.4,330.6 2350.9,331.7C2346.5,332.8 2343.7,334.5 2339,336.7C2334.2,338.9 2327.9,342 2322.3,345C2316.8,348.1 2310.1,351.7 2305.6,355C2301.2,358.4 2298.2,362.1 2295.7,365C2293.2,367.9 2291.8,365.7 2290.7,372.4C2289.6,379 2276.5,399.5 2289,405C2301.5,410.4 2352.8,417.5 2365.6,405C2378.4,392.5 2368,342.3 2365.6,330.1Z" fill="#46a482"/>
<path d="M2365.6,340C2363.2,329.5 2356.5,340 2350.9,341.7C2345.4,343.4 2338.2,347.3 2332.3,350C2326.4,352.8 2320.1,355.3 2315.6,358.4C2311.2,361.4 2307.9,366 2305.6,368.4C2303.4,370.7 2303.2,366.2 2302.3,372.4C2301.5,378.5 2290.1,399.5 2300.7,405C2311.2,410.4 2354.8,415.8 2365.6,405C2376.4,394.2 2368,350.6 2365.6,340Z" fill="#388e87"/>
<path d="M2365.6,353.4C2363.2,345 2355.9,353.9 2350.9,355C2345.9,356.1 2340.4,357.8 2335.6,360C2330.8,362.2 2325.1,366.3 2322.3,368.4C2319.5,370.4 2319.8,366.2 2319,372.4C2318.1,378.5 2309.5,399.5 2317.3,405C2325.1,410.4 2357.5,413.6 2365.6,405C2373.6,396.4 2368,361.7 2365.6,353.4Z" fill="#287689"/>
<path d="M2348.3,32C2348.3,32 2355.6,32 2355.6,32C2355.6,32 2355.6,256.8 2355.6,256.8C2355.6,256.8 2348.3,256.8 2348.3,256.8C2348.3,256.8 2348.3,32 2348.3,32Z" fill="#88ce63"/>
<path d="M1919.3,32C1919.3,32 1927.3,32 1927.3,32C1927.3,32 1927.3,165.2 1927.3,165.2C1927.3,165.2 1919.3,165.2 1919.3,165.2C1919.3,165.2 1919.3,32 1919.3,32Z" fill="#88ce63"/>
</g>
<circle cx="1941.8" cy="195.8" r="5.9" fill="#ff0000"/>
<circle cx="2001.1" cy="254.8" r="5.9" fill="#ff0000"/>
<circle cx="2128.1" cy="113.9" r="5.9" fill="#ff0000"/>
<circle cx="2246.5" cy="77.5" r="5.9" fill="#ff0000"/>
<circle cx="2182.8" cy="200.2" r="5.9" fill="#ff0000"/>
<circle cx="2200.6" cy="214.1" r="5.9" fill="#ff0000"/>
<circle cx="2232.6" cy="263.6" r="5.9" fill="#ff0000"/>
<circle cx="2269.0" cy="281.8" r="5.9" fill="#ff0000"/>
<circle cx="2332.4" cy="290.9" r="5.9" fill="#ff0000"/>
<circle cx="2351.3" cy="341.1" r="5.9" fill="#ff0000"/>
</g>
<rect x="1923.7" y="36.8" width="427.5" height="335.7" fill="none" stroke="#000" stroke-width="1.6"/>
<line x1="1917.9" x2="1923.7" y1="372.5" y2="372.5" stroke="#000" stroke-width="1.6"/>
<line x1="1917.9" x2="1923.7" y1="307.8" y2="307.8" stroke="#000" stroke-width="1.6"/>
<line x1="1917.9" x2="1923.7" y1="243.0" y2="243.0" stroke="#000" stroke-width="1.6"/>
<line x1="1917.9" x2="1923.7" y1="178.3" y2="178.3" stroke="#000" stroke-width="1.6"/>
<line x1="1917.9" x2="1923.7" y1="113.5" y2="113.5" stroke="#000" stroke-width="1.6"/>
<line x1="1917.9" x2="1923.7" y1="48.8" y2="48.8" stroke="#000" stroke-width="1.6"/>
<line x1="1923.7" x2="1923.7" y1="372.5" y2="378.3" stroke="#000" stroke-width="1.6"/>
<line x1="2086.2" x2="2086.2" y1="372.5" y2="378.3" stroke="#000" stroke-width="1.6"/>
<line x1="2248.7" x2="2248.7" y1="372.5" y2="378.3" stroke="#000" stroke-width="1.6"/>
<text x="2137.5" y="27.2" font-size="29.4" text-anchor="middle" font-weight="normal" >CLOINet (SST+SSH)</text>
<text transform="translate(1934.4,79.1) rotate(0.03) scale(1.004,1.01)" font-size="32.6" font-weight="bold">RMSE = 31%</text>
<text transform="translate(1945.5,352.2) scale(1,1)" font-size="40.8" font-weight="bold">i</text>
<g clip-path="url(#cp10)">
<rect x="105.8" y="378.1" width="429.5" height="337.7" fill="#53b37b"/>
<g>
<path d="M342.4,528.9C343.5,526.8 347.7,527.6 353.1,527.9C358.5,528.1 374.6,529.7 383.1,530.5C391.5,531.3 407.5,533 416.4,533.8C425.3,534.7 440.8,536.3 449.7,537.2C458.6,538.1 474.1,539.8 483,540.5C491.9,541.2 509.5,542.2 516.3,542.2C523.1,542.2 529.8,540.8 534.3,540.5C538.7,540.2 547.6,525.6 549.6,539.8C551.6,554.1 551.5,632.2 549.6,647.1C547.6,662 538.5,650.5 534.9,651.7C531.4,652.9 526.8,655.1 523,656.1C519.1,657 511.9,658.6 506.3,658.7C500.7,658.9 487.5,658 480.7,657.1C473.9,656.1 462.1,653.8 455.3,651.7C448.6,649.7 436.8,645.3 430,641.8C423.3,638.2 410.8,629.5 404.7,624.8C398.6,620 389.4,611.3 384.4,606.1C379.4,600.9 371.5,591.4 367.4,585.8C363.3,580.2 356.7,569.5 353.8,563.8C350.8,558.2 347,548.2 345.4,543.5C343.9,538.8 341.4,530.9 342.4,528.9Z" fill="#8ed061"/>
<path d="M371.8,567.8C372,565.1 373.6,560.8 375.8,558.8C377.9,556.8 383.9,554 387.7,552.8C391.6,551.6 398,550.1 404.7,549.8C411.5,549.6 429.3,550.6 438.4,551.2C447.4,551.7 463.3,553.2 472.3,553.8C481.4,554.5 498,555.3 506.3,556.2C514.6,557 529.2,559.7 534.9,560.5C540.7,561.3 547.6,555.1 549.6,562.2C551.5,569.3 551.5,606.3 549.6,613.8C547.6,621.2 538.5,616.6 534.9,618.1C531.4,619.7 527.2,623.5 523,625.4C518.7,627.3 508.6,631.3 503,632.4C497.3,633.6 486.6,634.2 480.7,634.1C474.8,634 464.3,632.4 458.7,631.4C453,630.4 443.8,628.2 438.4,626.4C432.9,624.7 423.2,620.8 418,618.1C412.9,615.4 404.2,609.5 399.7,606.1C395.2,602.7 387.8,596.1 384.4,592.5C381,588.9 375.8,582.4 374.1,579.1C372.4,575.9 371.5,570.5 371.8,567.8Z" fill="#dde479"/>
<path d="M265.5,438.9C265.2,435.9 266.6,432.3 268.2,430.6C269.7,428.9 272.6,428.4 274.8,428.9C277.1,429.5 279.8,431.4 281.5,433.9C283.2,436.4 284.6,440.9 284.8,443.9C285.1,447 284.6,450.6 283.2,452.3C281.8,453.9 278.7,454.5 276.5,453.9C274.3,453.4 271.7,451.4 269.8,448.9C268,446.4 265.8,442 265.5,438.9Z" fill="#8ed061"/>
<path d="M158.3,445.6C158.3,444.1 160.2,443 161.6,443.3C163,443.5 165.8,445.8 166.6,447.3C167.4,448.8 167.4,451.4 166.6,452.3C165.8,453.1 163,453.4 161.6,452.3C160.2,451.1 158.3,447.1 158.3,445.6Z" fill="#8ed061"/>
<path d="M93.3,370.7C104.7,358.4 167.5,369.5 178.3,370.7C189,371.9 175.5,377.7 173.9,379.7C172.4,381.7 168.9,383.3 166.6,385.6C164.3,388 159.7,393.8 156.6,397.3C153.5,400.9 147.1,408.3 143.3,412.3C139.5,416.3 131.9,423.9 128.3,427.3C124.8,430.7 119.3,434.6 116.7,437.9C114,441.3 111.4,449 108.3,452.3C105.2,455.5 95.3,473.1 93.3,462.2C91.3,451.4 82,382.9 93.3,370.7Z" fill="#3b9286"/>
<path d="M93.3,370.7C98.4,363.1 126.8,369.6 131.6,370.7C136.5,371.8 130.4,376.3 130,379C129.5,381.7 130.1,386.4 128.3,390.6C126.5,394.9 119.5,406.2 116.7,410.6C113.8,415.1 109.8,421.7 106.7,423.9C103.6,426.2 95.1,434.4 93.3,427.3C91.6,420.2 88.2,378.2 93.3,370.7Z" fill="#257289"/>
<path d="M256.5,370.7C217.9,371.8 257.6,377.2 259.9,379C262.1,380.8 269.6,381.5 273.2,384C276.7,386.4 282.9,392.9 286.5,397.3C290.1,401.7 296.7,412 299.8,417.3C302.9,422.6 307.6,431.9 309.8,437.3C312,442.6 315.1,451.9 316.5,457.2C317.8,462.6 319.1,472.8 319.8,477.2C320.5,481.7 320.9,490.6 321.5,490.6C322,490.6 322.9,480.1 323.8,477.2C324.7,474.3 326.9,468.9 328.1,468.9C329.4,468.9 331.6,474.3 333.1,477.2C334.7,480.1 337.1,487.4 339.8,490.6C342.4,493.7 348.7,497.9 353.1,500.5C357.5,503.2 366.9,507.9 373.1,510.5C379.3,513.2 391.7,518.3 399.7,520.5C407.7,522.7 424.2,525.9 433,527.2C441.9,528.5 457.5,529.9 466.3,530.5C475.2,531.2 490.6,532 499.6,532.2C508.7,532.4 527.6,532.2 534.3,532.2C540.9,532.2 547.6,553.7 549.6,532.2C551.6,510.6 588.7,392.2 549.6,370.7C510.5,349.1 295.2,369.6 256.5,370.7Z" fill="#3b9286"/>
<path d="M331.5,370.7C295.4,372 332.6,374.5 333.1,379C333.7,383.4 334,390.9 334.8,397.3C335.6,403.7 336.7,410.1 338.1,417.3C339.5,424.5 341.2,433.4 343.1,440.6C345.1,447.8 347,454.5 349.8,460.6C352.6,466.7 355.3,471.7 359.8,477.2C364.2,482.8 369.8,489.4 376.4,493.9C383.1,498.3 391.4,501.1 399.7,503.9C408.1,506.6 417.5,509.4 426.4,510.5C435.3,511.6 444.1,511.6 453,510.5C461.9,509.4 470.8,506.6 479.7,503.9C488.5,501.1 497.2,496.9 506.3,493.9C515.4,490.8 527.1,487.5 534.3,485.6C541.5,483.6 547,501.4 549.6,482.2C552.1,463.1 586,389.3 549.6,370.7C513.2,352.1 367.5,369.3 331.5,370.7Z" fill="#257289"/>
<path d="M369.8,370.7C346,371.8 370.5,375.9 371.4,379C372.3,382.1 374.4,389.8 376.4,394C378.4,398.2 383.3,406.2 386.4,410.6C389.5,415.1 395.7,423.7 399.7,427.3C403.7,430.8 412.4,435.5 416.4,437.3C420.4,439 426.6,441.5 429.7,440.6C432.8,439.7 437.9,434.2 439.7,430.6C441.5,427.1 442.1,418 443,414C443.9,410 444.6,403.7 446.4,400.6C448.1,397.5 452.8,392.6 456.3,390.6C459.9,388.6 468.1,386.1 473,385.6C477.9,385.2 488.8,385.8 493,387.3C497.2,388.9 502.4,393.8 504.6,397.3C506.9,400.9 508.7,409.5 509.6,414C510.5,418.4 510.4,426.8 511.3,430.6C512.2,434.4 514.3,440.3 516.3,442.3C518.3,444.3 523.9,445.4 526.3,445.6C528.7,445.8 531.2,444.2 534.3,443.9C537.4,443.6 547.6,453 549.6,443.3C551.6,433.5 573.6,380.3 549.6,370.7C525.6,361 393.5,369.6 369.8,370.7Z" fill="#105095"/>
<path d="M93.3,473.9C95.1,438.4 103.6,478.3 106.7,480.6C109.8,482.8 113.1,488.3 116.7,490.6C120.2,492.8 128.9,495.4 133.3,497.2C137.7,499 146.6,501.2 150,503.9C153.3,506.5 156.5,513.2 158.3,517.2C160.1,521.2 161.3,529.8 163.3,533.8C165.3,537.9 170.2,545 173.3,547.8C176.3,550.7 182.5,554 185.9,555.2C189.3,556.4 195.7,557.1 198.9,556.8C202.1,556.5 206,554.3 209.9,552.8C213.8,551.4 224,547.8 228.2,546.2C232.4,544.5 237.5,541.5 241.5,540.5C245.5,539.5 253.8,539.1 258.2,538.8C262.6,538.6 271.1,539.4 274.8,538.5C278.6,537.6 283.6,534.1 286.5,532.2C289.4,530.2 294.3,525.3 296.5,523.9C298.7,522.4 301.4,521.2 303.2,521.2C304.9,521.2 308.3,522.4 309.8,523.9C311.4,525.3 313.7,529.5 314.8,532.2C315.9,534.8 317.4,540.7 318.1,543.8C318.8,546.9 318.8,550.6 320.1,555.5C321.5,560.4 326.2,574.1 328.5,580.8C330.7,587.6 334.3,599.4 336.8,606.1C339.3,612.9 343.7,624.6 347.1,631.4C350.5,638.2 358.2,651.4 362.4,657.1C366.7,662.7 374.6,669.7 379.1,673.7C383.6,677.8 391.5,684.2 396.1,687.4C400.6,690.5 408.5,695.3 413.1,697.4C417.6,699.4 425.5,701.8 430,702.7C434.6,703.6 442.5,704.4 447,704.4C451.6,704.4 458.4,703.6 464,702.7C469.6,701.8 482.6,698.7 489.3,697.4C496.1,696 508.5,693.7 514.6,692.4C520.7,691 530.3,688.5 534.9,687.4C539.6,686.2 547.6,675.8 549.6,683.7C551.5,691.7 610.4,738.6 549.6,747C488.8,755.4 154.2,783.4 93.3,747C32.5,710.6 91.6,509.4 93.3,473.9Z" fill="#3b9286"/>
<path d="M93.3,518.9C95.1,488.7 104,519.9 106.7,520.5C109.3,521.2 112,521.6 113.3,523.9C114.7,526.1 115.3,533.8 116.7,537.2C118,540.5 121.5,546.3 123.3,548.8C125.1,551.4 125.9,553.7 130,556.2C134.1,558.6 146.9,563.6 154,567.2C161,570.7 178.2,579.9 182.9,583.1C187.6,586.3 186.7,589.8 189.3,591.1C191.8,592.4 197,593.6 201.9,592.8C206.8,592 220.4,586.8 226.2,584.8C232,582.8 240.9,578.3 245.2,577.5C249.5,576.6 254.3,577.1 258.2,578.5C262.1,579.9 269.9,584.3 274.2,588.1C278.4,592 285.9,600.7 290.2,607.1C294.4,613.5 302.2,629 306.1,636.1C310.1,643.2 317.6,655.4 320.1,660.4C322.7,665.4 323.8,670.1 325.1,673.7C326.5,677.3 328.6,684 330.1,687.4C331.7,690.8 334.5,697.1 336.8,699.4C339.1,701.6 344.1,703.3 347.1,704.4C350.1,705.5 355.9,706.4 359.1,707.7C362.3,708.9 368.4,708.4 370.8,713.7C373.1,718.9 413.4,742.5 376.4,747C339.4,751.4 131.1,777.4 93.3,747C55.6,716.6 91.6,549.1 93.3,518.9Z" fill="#257289"/>
<path d="M518,718.7C515.7,716.6 525.5,713 529.6,711C533.8,709.1 540.7,704.9 542.9,707C545.2,709.1 547.1,721.7 542.9,723.7C538.8,725.6 520.2,720.8 518,718.7Z" fill="#257289"/>
<path d="M93.3,603.1C95.5,584.1 106.3,603.9 109.3,604.1C112.3,604.3 114,606 115.7,604.8C117.3,603.6 120.1,596.6 122,595.1C123.9,593.7 125.7,593 130,593.8C134.2,594.5 147.6,599.3 154,600.8C160.3,602.3 171.5,603.9 177.9,604.8C184.3,605.6 195.5,607.1 201.9,607.1C208.3,607.1 220.8,605.7 226.2,604.8C231.6,603.9 238.6,600.9 242.2,600.1C245.8,599.4 250.4,598.2 253.2,599.1C255.9,600.1 260.7,604.3 262.9,607.1C265,609.9 267.4,615.8 269.2,620.1C270.9,624.4 273.7,634.1 275.8,639.4C278,644.7 282.6,654.1 285.2,660.1C287.7,666 292.5,676.9 294.8,684C297.2,691.2 301.6,705.3 302.8,713.7C304,722.1 331.7,742.5 303.8,747C275.9,751.4 121.4,766.2 93.3,747C65.3,727.8 91.2,622.2 93.3,603.1Z" fill="#105095"/>
<path d="M106.7,747C76.4,741.6 108.3,723 110,714.7C111.7,706.4 113.9,703.9 116.7,697C119.4,690.2 122.8,680.9 126.6,673.7C130.5,666.5 135,659.8 140,653.7C145,647.6 150.5,641.3 156.6,637.1C162.7,632.9 169.4,630.7 176.6,628.8C183.8,626.8 192.1,625.2 199.9,625.4C207.7,625.7 216,627.9 223.2,630.4C230.4,632.9 237.1,636 243.2,640.4C249.3,644.9 254.9,651 259.9,657.1C264.9,663.2 269.3,670.4 273.2,677.1C277.1,683.7 280.4,690.8 283.2,697C285.9,703.3 288.4,706.4 289.8,714.7C291.2,723 322,741.6 291.5,747C261,752.4 136.9,752.4 106.7,747Z" fill="#2a2195"/>
<path d="M146.6,747C131.9,741.6 148.6,723 150,714.7C151.3,706.4 153.3,703.3 155,697C156.6,690.8 158,683.2 159.9,677.1C161.9,670.9 163.3,664 166.6,660.4C169.9,656.8 174.9,655.4 179.9,655.4C184.9,655.4 191.6,657.3 196.6,660.4C201.6,663.5 205.5,668.7 209.9,673.7C214.3,678.7 219.3,684.8 223.2,690.4C227.1,695.9 231,703 233.2,707C235.4,711.1 235.7,708 236.5,714.7C237.4,721.3 253.2,741.6 238.2,747C223.2,752.4 161.3,752.4 146.6,747Z" fill="#105095"/>
</g>
<circle cx="124.9" cy="538.1" r="5.9" fill="#ff0000"/>
<circle cx="184.2" cy="597.1" r="5.9" fill="#ff0000"/>
<circle cx="311.2" cy="456.2" r="5.9" fill="#ff0000"/>
<circle cx="429.6" cy="419.8" r="5.9" fill="#ff0000"/>
<circle cx="365.9" cy="542.5" r="5.9" fill="#ff0000"/>
<circle cx="383.7" cy="556.4" r="5.9" fill="#ff0000"/>
<circle cx="415.7" cy="605.9" r="5.9" fill="#ff0000"/>
<circle cx="452.1" cy="624.1" r="5.9" fill="#ff0000"/>
<circle cx="515.5" cy="633.2" r="5.9" fill="#ff0000"/>
<circle cx="534.4" cy="683.4" r="5.9" fill="#ff0000"/>
</g>
<rect x="106.8" y="379.1" width="427.5" height="335.7" fill="none" stroke="#000" stroke-width="1.6"/>
<line x1="101.0" x2="106.8" y1="714.8" y2="714.8" stroke="#000" stroke-width="1.6"/>
<text x="95.3" y="724.1" font-size="24.5" text-anchor="end" font-weight="normal" >0</text>
<line x1="101.0" x2="106.8" y1="650.1" y2="650.1" stroke="#000" stroke-width="1.6"/>
<text x="95.3" y="659.4" font-size="24.5" text-anchor="end" font-weight="normal" >20</text>
<line x1="101.0" x2="106.8" y1="585.3" y2="585.3" stroke="#000" stroke-width="1.6"/>
<text x="95.3" y="594.6" font-size="24.5" text-anchor="end" font-weight="normal" >40</text>
<line x1="101.0" x2="106.8" y1="520.6" y2="520.6" stroke="#000" stroke-width="1.6"/>
<text x="95.3" y="529.9" font-size="24.5" text-anchor="end" font-weight="normal" >60</text>
<line x1="101.0" x2="106.8" y1="455.8" y2="455.8" stroke="#000" stroke-width="1.6"/>
<text x="95.3" y="465.1" font-size="24.5" text-anchor="end" font-weight="normal" >80</text>
<line x1="101.0" x2="106.8" y1="391.1" y2="391.1" stroke="#000" stroke-width="1.6"/>
<text x="95.3" y="400.4" font-size="24.5" text-anchor="end" font-weight="normal" >100</text>
<line x1="106.8" x2="106.8" y1="714.8" y2="720.6" stroke="#000" stroke-width="1.6"/>
<text x="106.8" y="746.3" font-size="24.5" text-anchor="middle" font-weight="normal" >0</text>
<line x1="269.3" x2="269.3" y1="714.8" y2="720.6" stroke="#000" stroke-width="1.6"/>
<text x="269.3" y="746.3" font-size="24.5" text-anchor="middle" font-weight="normal" >50</text>
<line x1="431.8" x2="431.8" y1="714.8" y2="720.6" stroke="#000" stroke-width="1.6"/>
<text x="431.8" y="746.3" font-size="24.5" text-anchor="middle" font-weight="normal" >100</text>
<text x="320.6" y="776.3" font-size="24.5" text-anchor="middle" font-weight="normal" >X (km)</text>
<text transform="translate(36.5,548.0) rotate(-90)" font-size="24.5" text-anchor="middle">Y (km)</text>
<text transform="translate(117.5,421.4) rotate(0.03) scale(1.004,1.01)" font-size="32.6" font-weight="normal">Z = 150 m</text>
<text transform="translate(128.6,694.5) scale(1,1)" font-size="40.8" font-weight="bold">b</text>
<g clip-path="url(#cp11)">
<rect x="560.0" y="378.1" width="429.5" height="337.7" fill="#44a183"/>
<g>
<path d="M547.3,370.7C551.8,307.9 568.7,369.3 574,370.7C579.3,372 575.6,375.1 579,379C582.3,382.9 588.1,387 594,394C599.8,400.9 607.3,411.7 613.9,420.6C620.6,429.5 627.3,438.4 633.9,447.3C640.6,456.1 646.7,465.6 653.9,473.9C661.1,482.2 670,490 677.2,497.2C684.4,504.4 691.7,510.5 697.2,517.2C702.8,523.9 706.6,530 710.5,537.2C714.4,544.4 717.7,552.2 720.5,560.5C723.3,568.8 725.2,578.3 727.2,587.1C729.1,596 730.8,604.9 732.2,613.8C733.6,622.7 734.7,631 735.5,640.4C736.3,649.9 736.9,661 737.2,670.4C737.4,679.8 737.3,689.7 737.2,697C737.1,704.4 736.6,706.4 736.5,714.7C736.4,723 768,741.6 736.5,747C705,752.4 578.9,809.7 547.3,747C515.8,684.3 542.9,433.4 547.3,370.7Z" fill="#378c87"/>
<path d="M595.6,583.8C596.2,580.2 597.8,575.5 600.6,572.1C603.4,568.8 607.8,565.7 612.3,563.8C616.7,562 622,560.9 627.3,561.2C632.5,561.4 638.6,563.1 643.9,565.5C649.2,567.9 654.7,571.6 658.9,575.5C663.1,579.4 667.2,584.4 668.9,588.8C670.6,593.2 670.3,598 668.9,602.1C667.5,606.3 664.2,610.7 660.6,613.8C657,616.8 652,619.2 647.2,620.4C642.5,621.7 637.3,621.9 632.3,621.1C627.3,620.3 622,618.3 617.3,615.4C612.6,612.6 607.3,607.4 604,603.8C600.6,600.2 598.7,597.1 597.3,593.8C595.9,590.5 595.1,587.4 595.6,583.8Z" fill="#297889"/>
<path d="M768.8,370.7C730.2,372 770.2,375.1 772.1,379C774.1,382.9 777.4,388.1 780.5,394C783.5,399.8 787.1,407.3 790.5,414C793.8,420.6 796.6,427.3 800.4,433.9C804.3,440.6 808.8,447.8 813.8,453.9C818.8,460 823.8,465.6 830.4,470.6C837.1,475.6 844.3,480.3 853.7,483.9C863.2,487.5 875.9,490 887,492.2C898.1,494.4 909.2,495.8 920.3,497.2C931.4,498.6 944.2,499.7 953.6,500.5C963.1,501.4 971.2,502.5 977,502.2C982.7,501.9 983.8,499.7 988.3,498.9C992.7,498 1001,518.6 1003.6,497.2C1006.1,475.8 1042.7,391.8 1003.6,370.7C964.5,349.6 807.4,369.3 768.8,370.7Z" fill="#378c87"/>
<path d="M823.8,420.6C824,416.2 824.9,409.5 827.1,404C829.3,398.4 833.2,392.3 837.1,387.3C841,382.3 842.1,377.9 850.4,374C858.7,370.1 873.2,364 887,364C900.9,364 923.7,369 933.7,374C943.6,379 943.9,387.3 947,394C950,400.6 951.4,407.3 952,414C952.5,420.6 952.3,427.8 950.3,433.9C948.4,440 944.8,445.9 940.3,450.6C935.9,455.3 930.3,459.4 923.7,462.2C917,465.1 908.7,467.4 900.4,467.9C892,468.5 882,467.4 873.7,465.6C865.4,463.8 857.1,460.9 850.4,457.2C843.7,453.6 837.9,448.4 833.7,443.9C829.6,439.5 827.1,434.5 825.4,430.6C823.8,426.7 823.5,425.1 823.8,420.6Z" fill="#297889"/>
<path d="M852.7,419C852.5,414.2 854.4,409.5 857.1,405.6C859.7,401.7 864.3,397.9 868.7,395.6C873.2,393.4 878.4,392.3 883.7,392.3C889,392.3 895.4,393.4 900.4,395.6C905.4,397.9 910.6,401.7 913.7,405.6C916.7,409.5 918.4,414.8 918.7,419C918.9,423.1 917.8,427 915.3,430.6C912.8,434.2 908.4,438.3 903.7,440.6C899,442.9 892.6,444.3 887,444.6C881.5,444.9 875.1,444 870.4,442.3C865.7,440.5 861.7,437.8 858.7,433.9C855.8,430.1 853,423.7 852.7,419Z" fill="#14618e"/>
<path d="M760.6,554.2C761,548.2 762,539.7 763.8,533C765.6,526.3 768.2,519.2 771.2,513.9C774.2,508.6 777.6,504.3 781.8,501.2C786.1,498.1 790.3,496.1 796.7,495.3C803,494.4 811.9,494.9 820,495.9C828.1,496.9 836.9,498.5 845.4,501.2C853.9,503.8 862.7,507.9 870.8,511.8C879,515.7 886.7,520.1 894.2,524.5C901.6,528.9 908.3,533.9 915.4,538.3C922.4,542.7 929.5,547.3 936.6,551C943.6,554.7 950.7,557.9 957.7,560.5C964.8,563.2 973.6,565.3 978.9,566.9C984.2,568.5 980.7,568 989.5,570.1C998.4,572.2 1024.9,561.8 1031.9,579.6C1039,597.5 1039,659.8 1031.9,677.1C1024.9,694.4 1000.1,681.7 989.5,683.5C978.9,685.2 977.2,686.7 968.3,687.7C959.5,688.8 947.1,690 936.6,689.8C926,689.7 915.4,688.4 904.8,686.7C894.2,684.9 882.9,682.2 873,679.2C863.1,676.2 854.2,673.1 845.4,668.6C836.6,664.2 827.7,658.6 820,652.7C812.2,646.9 805.1,640.6 798.8,633.7C792.4,626.8 786.8,619 781.8,611.4C776.9,603.8 772.5,595.2 769.1,588.1C765.8,581 763.1,574.7 761.7,569C760.3,563.4 760.3,560.2 760.6,554.2Z" fill="#57b679"/>
<path d="M785,562.7C785.4,558.1 786.2,551 788.2,545.7C790.1,540.4 793.1,534.9 796.7,530.9C800.2,526.8 804.4,523.6 809.4,521.3C814.3,519 820.3,517.6 826.3,517.1C832.3,516.6 838.7,516.9 845.4,518.2C852.1,519.4 859.5,521.5 866.6,524.5C873.7,527.5 880.7,531.9 887.8,536.2C894.9,540.4 901.9,545.4 909,549.9C916.1,554.5 923.1,559.5 930.2,563.7C937.3,568 944.3,571.8 951.4,575.4C958.5,578.9 966.2,582.3 972.6,584.9C978.9,587.6 979.6,587.6 989.5,591.3C999.4,595 1024.9,596.4 1031.9,607.2C1039,617.9 1039,646.4 1031.9,655.9C1024.9,665.5 1000.1,662.1 989.5,664.4C978.9,666.7 976.1,668.5 968.3,669.7C960.6,670.9 951.7,671.7 942.9,671.8C934.1,671.9 924.5,671.6 915.4,670.3C906.2,669.1 896.6,667 887.8,664.4C879,661.8 870.5,658.7 862.4,654.9C854.2,651 846.1,645.9 839.1,641.1C832,636.3 826,631.9 820,626.2C814,620.6 807.8,613.5 803,607.2C798.3,600.8 794.2,593.7 791.4,588.1C788.5,582.4 787.1,577.5 786.1,573.3C785,569 784.7,567.3 785,562.7Z" fill="#76c869"/>
<path d="M805.6,569C805.2,563.7 806.6,558.4 808.3,554.2C810,549.9 812.7,546.4 815.7,543.6C818.7,540.8 822.1,538.7 826.3,537.2C830.6,535.7 835.9,534.5 841.2,534.7C846.5,534.9 852.1,536.1 858.1,538.3C864.1,540.5 870.5,543.9 877.2,547.8C883.9,551.7 891.3,557 898.4,561.6C905.5,566.2 912.5,571 919.6,575.4C926.7,579.8 933.7,584 940.8,588.1C947.9,592.2 955.6,595.9 962,599.8C968.3,603.6 974.7,607.3 978.9,611.4C983.2,615.5 986,619.9 987.4,624.1C988.8,628.4 988.8,633 987.4,636.8C986,640.7 982.8,644.6 978.9,647.4C975.1,650.3 970.1,652.2 964.1,653.8C958.1,655.4 950,656.6 942.9,657C935.8,657.3 928.8,656.8 921.7,655.9C914.6,655 907.6,653.6 900.5,651.7C893.5,649.7 886.4,647.4 879.3,644.3C872.3,641.1 864.8,636.8 858.1,632.6C851.4,628.4 845.1,623.8 839.1,618.8C833,613.9 826.9,608.4 822.1,602.9C817.3,597.5 813.2,591.6 810.4,586C807.7,580.3 805.9,574.3 805.6,569Z" fill="#a4d75d"/>
<path d="M828.5,575.4C828.5,572.2 828.8,567.8 830.6,564.8C832.3,561.8 835.5,559 839.1,557.4C842.6,555.8 847.2,554.9 851.8,555.2C856.4,555.6 861.3,557.2 866.6,559.5C871.9,561.8 877.6,565.3 883.6,569C889.6,572.7 896.3,577.5 902.6,581.7C909,586 915.7,590.6 921.7,594.5C927.7,598.3 933.7,601.5 938.7,605.1C943.6,608.6 948.6,612.3 951.4,615.7C954.2,619 955.6,622.2 955.6,625.2C955.6,628.2 954.2,631.4 951.4,633.7C948.6,636 943.6,637.8 938.7,639C933.7,640.1 927.7,640.8 921.7,640.7C915.7,640.5 909,639.4 902.6,637.9C896.3,636.4 889.6,634.2 883.6,631.5C877.6,628.9 872.3,625.9 866.6,622C861,618.1 854.6,612.8 849.7,608.2C844.7,603.6 840.2,598.5 836.9,594.5C833.7,590.4 831.6,587 830.2,583.9C828.7,580.7 828.4,578.6 828.5,575.4Z" fill="#d4e170"/>
</g>
<circle cx="579.1" cy="538.1" r="5.9" fill="#ff0000"/>
<circle cx="638.4" cy="597.1" r="5.9" fill="#ff0000"/>
<circle cx="765.4" cy="456.2" r="5.9" fill="#ff0000"/>
<circle cx="883.8" cy="419.8" r="5.9" fill="#ff0000"/>
<circle cx="820.1" cy="542.5" r="5.9" fill="#ff0000"/>
<circle cx="837.9" cy="556.4" r="5.9" fill="#ff0000"/>
<circle cx="869.9" cy="605.9" r="5.9" fill="#ff0000"/>
<circle cx="906.3" cy="624.1" r="5.9" fill="#ff0000"/>
<circle cx="969.7" cy="633.2" r="5.9" fill="#ff0000"/>
<circle cx="988.6" cy="683.4" r="5.9" fill="#ff0000"/>
</g>
<rect x="561.0" y="379.1" width="427.5" height="335.7" fill="none" stroke="#000" stroke-width="1.6"/>
<line x1="555.2" x2="561.0" y1="714.8" y2="714.8" stroke="#000" stroke-width="1.6"/>
<line x1="555.2" x2="561.0" y1="650.1" y2="650.1" stroke="#000" stroke-width="1.6"/>
<line x1="555.2" x2="561.0" y1="585.3" y2="585.3" stroke="#000" stroke-width="1.6"/>
<line x1="555.2" x2="561.0" y1="520.6" y2="520.6" stroke="#000" stroke-width="1.6"/>
<line x1="555.2" x2="561.0" y1="455.8" y2="455.8" stroke="#000" stroke-width="1.6"/>
<line x1="555.2" x2="561.0" y1="391.1" y2="391.1" stroke="#000" stroke-width="1.6"/>
<line x1="561.0" x2="561.0" y1="714.8" y2="720.6" stroke="#000" stroke-width="1.6"/>
<text x="561.0" y="746.3" font-size="24.5" text-anchor="middle" font-weight="normal" >0</text>
<line x1="723.5" x2="723.5" y1="714.8" y2="720.6" stroke="#000" stroke-width="1.6"/>
<text x="723.5" y="746.3" font-size="24.5" text-anchor="middle" font-weight="normal" >50</text>
<line x1="886.0" x2="886.0" y1="714.8" y2="720.6" stroke="#000" stroke-width="1.6"/>
<text x="886.0" y="746.3" font-size="24.5" text-anchor="middle" font-weight="normal" >100</text>
<text x="774.8" y="776.3" font-size="24.5" text-anchor="middle" font-weight="normal" >X (km)</text>
<text transform="translate(571.7,421.4) rotate(0.03) scale(1.004,1.01)" font-size="32.6" font-weight="bold">RMSE = 54%</text>
<text transform="translate(582.8,694.5) scale(1,1)" font-size="40.8" font-weight="bold">d</text>
<g clip-path="url(#cp12)">
<rect x="1014.3" y="378.1" width="429.5" height="337.7" fill="#44a183"/>
<g>
<path d="M1018,477.2C1018.7,460.3 1019.9,470.6 1023,469.9C1026.1,469.2 1034.4,471.3 1041.3,472.2C1048.2,473.2 1068.4,475.7 1074.6,477.2C1080.8,478.8 1085.9,481.9 1087.9,483.9C1089.9,485.9 1087.8,491.8 1089.6,492.2C1091.4,492.7 1097.5,488.8 1101.2,487.2C1105,485.7 1112.6,481.2 1117.9,480.6C1123.2,479.9 1135.4,480.9 1141.2,482.2C1147,483.6 1156.3,488.1 1161.2,490.6C1166.1,493 1173.9,497.9 1177.8,500.5C1181.8,503.2 1187.6,506.5 1191.2,510.5C1194.7,514.5 1201.4,524.7 1204.5,530.5C1207.6,536.3 1212.3,547.6 1214.5,553.8C1216.7,560 1219.6,570.5 1221.1,577.1C1222.7,583.8 1225,596.7 1226.1,603.8C1227.2,610.9 1228.8,623.3 1229.5,630.4C1230.1,637.5 1230.5,650 1231.1,657.1C1231.8,664.2 1233.8,676 1234.5,683.7C1235.1,691.4 1235.9,706.2 1236.1,714.7C1236.4,723.1 1265.3,742.7 1236.1,747C1207,751.3 1046.5,767 1017.3,747C988.2,727 1017.2,633.1 1017.3,597.1C1017.4,561.2 1017.2,494.2 1018,477.2Z" fill="#378c87"/>
<path d="M1001.3,593.8C1003.2,573.1 1010.6,593 1015,592.1C1019.4,591.2 1028.9,588.7 1034.6,587.1C1040.4,585.6 1051.7,582.7 1058,580.5C1064.2,578.3 1075.5,572.7 1081.3,570.5C1087,568.3 1095.9,566 1101.2,563.8C1106.6,561.6 1117,556.9 1121.2,553.8C1125.4,550.7 1130.8,544.1 1132.9,540.5C1135,537 1137.2,530.3 1137.2,527.2C1137.2,524.1 1135,519.2 1132.9,517.2C1130.8,515.2 1124.6,512.6 1121.2,512.2C1117.9,511.8 1111,513.6 1107.9,513.9C1104.8,514.2 1099,515.4 1097.9,514.5C1096.8,513.6 1097.8,509.3 1099.6,507.2C1101.4,505.1 1107.5,500.5 1111.2,498.9C1115,497.2 1123.5,494.9 1127.9,494.9C1132.3,494.9 1140.5,496.8 1144.5,498.9C1148.5,501 1154.8,506.8 1157.9,510.5C1161,514.3 1165.6,522.3 1167.9,527.2C1170.1,532.1 1173,541.4 1174.5,547.2C1176.1,552.9 1178.4,563.8 1179.5,570.5C1180.6,577.1 1181.7,590 1182.8,597.1C1184,604.2 1186.3,616.7 1187.8,623.8C1189.4,630.9 1191.8,644.2 1194.5,650.4C1197.2,656.6 1204.3,665.5 1207.8,670.4C1211.4,675.3 1218.5,683 1221.1,687C1223.8,691 1227.4,697.3 1227.8,700.4C1228.2,703.5 1225.4,704.1 1224.5,710.4C1223.6,716.6 1250.9,742.1 1221.1,747C1191.4,751.9 1030.6,767.4 1001.3,747C972,726.6 999.5,614.4 1001.3,593.8Z" fill="#297889"/>
<path d="M1172.9,443.9C1172.9,441 1173,434.5 1174.5,432.3C1176.1,430.1 1181.6,427.5 1184.5,427.3C1187.4,427.1 1193.5,428.6 1196.2,430.6C1198.8,432.6 1202.3,439.2 1204.5,442.3C1206.7,445.4 1210.2,451 1212.8,453.9C1215.5,456.8 1220.7,461.7 1224.5,463.9C1228.2,466.1 1235.4,468.8 1241.1,470.6C1246.9,472.3 1259.8,475.2 1267.8,477.2C1275.8,479.2 1292.2,484 1301.1,485.6C1310,487.1 1325.5,488.9 1334.4,488.9C1343.3,488.9 1358.8,486.9 1367.7,485.6C1376.6,484.2 1393,480.7 1401,478.9C1409,477.1 1422.5,473.3 1427.6,472.2C1432.8,471.1 1438,458.4 1439.6,470.6C1441.3,482.8 1439.9,534.1 1439.9,563.8C1440,593.6 1442,676.6 1439.9,693.7C1437.9,710.8 1428.6,691.8 1424.3,692C1420,692.3 1412.1,694 1407.6,695.4C1403.2,696.7 1394.5,700 1391,702C1387.4,704 1383.2,704.4 1381,710.4C1378.8,716.3 1393.4,742.1 1374.3,747C1355.2,751.9 1256,751.3 1237.8,747C1219.6,742.7 1237.3,721.3 1237.8,714.7C1238.2,708 1240.7,702.9 1241.1,697C1241.6,691.1 1241.3,675.7 1241.1,670.4C1240.9,665.1 1239.9,662.4 1239.5,657.1C1239,651.7 1238.5,637.5 1237.8,630.4C1237.1,623.3 1235.4,610.9 1234.5,603.8C1233.6,596.7 1232.2,583.8 1231.1,577.1C1230,570.5 1227.5,560 1226.1,553.8C1224.8,547.6 1222.7,536.7 1221.1,530.5C1219.6,524.3 1217.6,513.9 1214.5,507.2C1211.4,500.5 1201.8,485.9 1197.8,480.6C1193.8,475.2 1187.6,470.8 1184.5,467.2C1181.4,463.7 1176.1,457 1174.5,453.9C1173,450.8 1172.9,446.8 1172.9,443.9Z" fill="#57b679"/>
<path d="M1238.5,510.5C1238.7,507.9 1239,505 1241.1,503.9C1243.3,502.8 1249.1,502.2 1254.4,502.2C1259.8,502.2 1274,503.2 1281.1,503.9C1288.2,504.5 1299.7,506.3 1307.7,507.2C1315.7,508.1 1332.2,510.1 1341,510.5C1349.9,511 1365.5,511 1374.3,510.5C1383.2,510.1 1399.6,508.5 1407.6,507.2C1415.6,505.9 1430,501.9 1434.3,500.5C1438.5,499.2 1438.9,486.6 1439.6,497.2C1440.4,507.9 1439.9,558.3 1439.9,580.5C1439.9,602.7 1441.3,652.2 1439.6,663.7C1438,675.3 1431.9,666.4 1427.6,667.1C1423.4,667.7 1414.7,668.3 1407.6,668.7C1400.5,669.2 1383.2,670.4 1374.3,670.4C1365.5,670.4 1349.9,669.6 1341,668.7C1332.2,667.8 1314.8,665.3 1307.7,663.7C1300.6,662.2 1292.2,659.7 1287.7,657.1C1283.3,654.4 1277.1,648.2 1274.4,643.7C1271.8,639.3 1269.5,630 1267.8,623.8C1266,617.5 1263.1,604.2 1261.1,597.1C1259.1,590 1255,577.6 1252.8,570.5C1250.6,563.4 1246.2,550.1 1244.5,543.8C1242.7,537.6 1240.3,528.3 1239.5,523.9C1238.7,519.4 1238.2,513.2 1238.5,510.5Z" fill="#76c869"/>
<path d="M1253.8,540.5C1254,537.8 1255,534.3 1257.8,533.2C1260.5,532.1 1268.7,532.1 1274.4,532.2C1280.2,532.3 1294,533.2 1301.1,533.8C1308.2,534.5 1320.6,536.3 1327.7,537.2C1334.8,538.1 1347.3,539.6 1354.4,540.5C1361.5,541.4 1373.9,542.5 1381,543.8C1388.1,545.2 1401.4,547.8 1407.6,550.5C1413.9,553.2 1423.6,560.7 1427.6,563.8C1431.6,566.9 1436.5,570.7 1437.6,573.8C1438.7,576.9 1437.7,584 1435.9,587.1C1434.2,590.2 1428.1,594.5 1424.3,597.1C1420.5,599.8 1411.2,604 1407.6,607.1C1404.1,610.2 1399.9,616.4 1397.6,620.4C1395.4,624.4 1392.3,632.6 1391,637.1C1389.7,641.5 1389.9,650.9 1387.7,653.7C1385.4,656.6 1379.7,658.3 1374.3,658.7C1369,659.2 1354.8,658 1347.7,657.1C1340.6,656.2 1327.7,653.9 1321.1,652.1C1314.4,650.3 1302.4,646.6 1297.7,643.7C1293.1,640.9 1288.7,634.9 1286.1,630.4C1283.4,626 1279.8,615.8 1277.8,610.4C1275.8,605.1 1273.1,595.8 1271.1,590.5C1269.1,585.1 1264.8,575.4 1262.8,570.5C1260.8,565.6 1257.3,557.8 1256.1,553.8C1254.9,549.8 1253.6,543.3 1253.8,540.5Z" fill="#a4d75d"/>
<path d="M1366,527.2C1365.5,525.1 1368,522.6 1371,521.2C1374.1,519.8 1379.3,519.1 1384.3,518.9C1389.3,518.6 1397.1,519 1401,519.9C1404.9,520.7 1407.1,522.1 1407.6,523.9C1408.2,525.6 1407.1,528.7 1404.3,530.5C1401.5,532.3 1396,534 1391,534.5C1386,535.1 1378.5,535.1 1374.3,533.8C1370.2,532.6 1366.6,529.3 1366,527.2Z" fill="#a4d75d"/>
<path d="M1419.3,627.1C1420.3,623.8 1422.8,623.2 1424.3,623.8C1425.8,624.3 1427.8,627.1 1428.3,630.4C1428.7,633.8 1427.9,640.5 1427,643.7C1426,647 1424.1,649.7 1422.6,649.7C1421.2,649.7 1418.9,647.5 1418.3,643.7C1417.7,640 1418.3,630.4 1419.3,627.1Z" fill="#a4d75d"/>
<path d="M1274.4,577.1C1274.4,574 1276,569.4 1277.8,567.2C1279.5,564.9 1284.2,561.8 1287.7,560.5C1291.3,559.2 1299.1,557.4 1304.4,557.2C1309.7,556.9 1321.1,557.9 1327.7,558.8C1334.4,559.7 1347.3,562.3 1354.4,563.8C1361.5,565.4 1374.3,568.7 1381,570.5C1387.7,572.3 1399.4,575.6 1404.3,577.1C1409.2,578.7 1417.2,579.9 1417.6,582.1C1418.1,584.4 1410.7,590.5 1407.6,593.8C1404.5,597.1 1397.4,603.1 1394.3,607.1C1391.2,611.1 1386.5,619.3 1384.3,623.8C1382.1,628.2 1379.9,637.3 1377.7,640.4C1375.4,643.5 1371.7,646.3 1367.7,647.1C1363.7,647.9 1353,647.1 1347.7,646.4C1342.4,645.7 1333,643.8 1327.7,642.1C1322.4,640.4 1312.2,636.6 1307.7,633.8C1303.3,630.9 1297.5,624.4 1294.4,620.4C1291.3,616.4 1286.6,607.8 1284.4,603.8C1282.2,599.8 1279.1,594 1277.8,590.5C1276.4,586.9 1274.4,580.2 1274.4,577.1Z" fill="#d4e170"/>
<path d="M1237.8,387.3C1237.6,385.5 1238,384.6 1241.1,384C1244.2,383.3 1252.2,382.7 1261.1,382.3C1270,382 1283.9,381.5 1307.7,381.3C1331.5,381.2 1422,372.5 1439.6,381.3C1457.2,390.1 1440.7,436.7 1439.9,447.3C1439.2,457.8 1437.3,457 1434.3,460.6C1431.3,464.1 1423.4,471 1417.6,473.9C1411.9,476.8 1399,481.1 1391,482.2C1383,483.3 1366.1,483.1 1357.7,482.2C1349.2,481.3 1335.3,478 1327.7,475.6C1320.2,473.1 1307.7,467.7 1301.1,463.9C1294.4,460.1 1283.1,451.7 1277.8,447.3C1272.4,442.8 1264.7,435 1261.1,430.6C1257.6,426.2 1253.6,418.4 1251.1,414C1248.7,409.5 1244.6,400.9 1242.8,397.3C1241,393.8 1238,389.1 1237.8,387.3Z" fill="#378c87"/>
<path d="M1289.4,389C1290.3,387.4 1290.9,386.3 1297.7,385.6C1304.6,385 1322.8,384.2 1341,384C1359.2,383.8 1421.4,382.2 1434.3,384C1447.2,385.8 1437.4,391.1 1437.6,397.3C1437.8,403.5 1437.3,423.9 1435.9,430.6C1434.6,437.3 1431.4,443.7 1427.6,447.3C1423.8,450.8 1414.7,455.5 1407.6,457.2C1400.5,459 1382.3,460.6 1374.3,460.6C1366.3,460.6 1354.4,459 1347.7,457.2C1341,455.5 1329.7,450.8 1324.4,447.3C1319.1,443.7 1311.3,435 1307.7,430.6C1304.2,426.2 1300,418.4 1297.7,414C1295.5,409.5 1292.2,400.6 1291.1,397.3C1290,394 1288.5,390.5 1289.4,389Z" fill="#297889"/>
<path d="M1326,400.6C1326.7,397.6 1328,393.9 1331,392.3C1334.1,390.8 1340.5,390.5 1344.4,391.3C1348.2,392.1 1351,394.6 1354.4,397.3C1357.7,400 1359.9,404.5 1364.3,407.3C1368.8,410.1 1375.4,412 1381,414C1386.5,415.9 1394.3,416.7 1397.6,419C1401,421.2 1401.5,423.9 1401,427.3C1400.4,430.6 1398.2,435.7 1394.3,438.9C1390.4,442.2 1383.8,445.5 1377.7,446.6C1371.6,447.7 1363.8,447.1 1357.7,445.6C1351.6,444 1345.5,440.9 1341,437.3C1336.6,433.7 1333.4,428.4 1331,423.9C1328.7,419.5 1327.9,414.5 1327,410.6C1326.2,406.7 1325.4,403.7 1326,400.6Z" fill="#14618e"/>
<path d="M1235.8,734.3C1209.5,728.4 1238.5,690.9 1239,683.5C1239.5,676.1 1238.7,673.7 1240.1,670.8C1241.4,667.8 1248.2,658.3 1250.7,658C1253.1,657.8 1258,666.4 1261.3,668.6C1264.5,670.9 1273.8,675.6 1278.2,677.1C1282.7,678.6 1294.5,680.4 1299.4,681.4C1304.4,682.3 1315.7,684.6 1320.6,685.6C1325.6,686.6 1337.4,689 1341.8,689.8C1346.3,690.7 1355.3,692.4 1358.8,693C1362.2,693.6 1369,695.3 1371.5,695.1C1373.9,695 1377.5,693.3 1380,692C1382.4,690.6 1390.2,685.9 1392.7,683.5C1395.1,681 1399.7,673.6 1401.1,670.8C1402.6,667.9 1403.9,659.8 1405.4,659.1C1406.9,658.4 1411.4,663.3 1413.9,664.4C1416.3,665.5 1423.4,667.7 1426.6,668.6C1429.8,669.6 1437,672.1 1441.4,672.9C1445.9,673.6 1462,667.8 1464.7,675C1467.5,682.2 1491.4,727.4 1464.7,734.3C1438,741.3 1262.2,740.3 1235.8,734.3Z" fill="#44a183"/>
<path d="M1377.8,734.3C1363.7,730.8 1378.5,717.9 1380,712.9C1381.4,708 1383.5,707.1 1386.3,704.7C1389.1,702.2 1392.7,700.1 1396.9,698.3C1401.1,696.5 1406.8,695.1 1411.7,694.1C1416.7,693 1421.6,692.7 1426.6,692C1431.5,691.2 1435.1,690.4 1441.4,689.8C1447.8,689.3 1460.9,681.4 1464.7,688.8C1468.6,696.2 1479.2,726.8 1464.7,734.3C1450.3,741.9 1392,737.9 1377.8,734.3Z" fill="#378c87"/>
<path d="M1405.4,708.9C1404,707.7 1410,705.9 1413.9,704.7C1417.8,703.4 1424.5,701.7 1428.7,701.5C1432.9,701.3 1437.9,702.4 1439.3,703.6C1440.7,704.8 1440,707.5 1437.2,708.9C1434.4,710.3 1427.6,712.1 1422.3,712.1C1417,712.1 1406.8,710.1 1405.4,708.9Z" fill="#297889"/>
</g>
<circle cx="1033.4" cy="538.1" r="5.9" fill="#ff0000"/>
<circle cx="1092.7" cy="597.1" r="5.9" fill="#ff0000"/>
<circle cx="1219.7" cy="456.2" r="5.9" fill="#ff0000"/>
<circle cx="1338.1" cy="419.8" r="5.9" fill="#ff0000"/>
<circle cx="1274.4" cy="542.5" r="5.9" fill="#ff0000"/>
<circle cx="1292.2" cy="556.4" r="5.9" fill="#ff0000"/>
<circle cx="1324.2" cy="605.9" r="5.9" fill="#ff0000"/>
<circle cx="1360.6" cy="624.1" r="5.9" fill="#ff0000"/>
<circle cx="1424.0" cy="633.2" r="5.9" fill="#ff0000"/>
<circle cx="1442.9" cy="683.4" r="5.9" fill="#ff0000"/>
</g>
<rect x="1015.3" y="379.1" width="427.5" height="335.7" fill="none" stroke="#000" stroke-width="1.6"/>
<line x1="1009.5" x2="1015.3" y1="714.8" y2="714.8" stroke="#000" stroke-width="1.6"/>
<line x1="1009.5" x2="1015.3" y1="650.1" y2="650.1" stroke="#000" stroke-width="1.6"/>
<line x1="1009.5" x2="1015.3" y1="585.3" y2="585.3" stroke="#000" stroke-width="1.6"/>
<line x1="1009.5" x2="1015.3" y1="520.6" y2="520.6" stroke="#000" stroke-width="1.6"/>
<line x1="1009.5" x2="1015.3" y1="455.8" y2="455.8" stroke="#000" stroke-width="1.6"/>
<line x1="1009.5" x2="1015.3" y1="391.1" y2="391.1" stroke="#000" stroke-width="1.6"/>
<line x1="1015.3" x2="1015.3" y1="714.8" y2="720.6" stroke="#000" stroke-width="1.6"/>
<text x="1015.3" y="746.3" font-size="24.5" text-anchor="middle" font-weight="normal" >0</text>
<line x1="1177.8" x2="1177.8" y1="714.8" y2="720.6" stroke="#000" stroke-width="1.6"/>
<text x="1177.8" y="746.3" font-size="24.5" text-anchor="middle" font-weight="normal" >50</text>
<line x1="1340.3" x2="1340.3" y1="714.8" y2="720.6" stroke="#000" stroke-width="1.6"/>
<text x="1340.3" y="746.3" font-size="24.5" text-anchor="middle" font-weight="normal" >100</text>
<text x="1229.0" y="776.3" font-size="24.5" text-anchor="middle" font-weight="normal" >X (km)</text>
<text transform="translate(1026.0,421.4) rotate(0.03) scale(1.004,1.01)" font-size="32.6" font-weight="bold">RMSE = 52%</text>
<text transform="translate(1037.1,694.5) scale(1,1)" font-size="40.8" font-weight="bold">f</text>
<g clip-path="url(#cp13)">
<rect x="1468.5" y="378.1" width="429.5" height="337.7" fill="#44a183"/>
<g>
<path d="M1671.8,370.7C1640.3,372.2 1673.8,378.8 1675.1,382.3C1676.5,385.9 1679.6,392.2 1681.8,397.3C1684,402.4 1689.1,414.4 1691.8,420.6C1694.5,426.8 1698.7,438.2 1701.8,443.9C1704.9,449.7 1710.7,459 1715.1,463.9C1719.5,468.8 1728.9,476.8 1735.1,480.6C1741.3,484.3 1753.7,490 1761.7,492.2C1769.7,494.4 1786.2,496.3 1795,497.2C1803.9,498.1 1819.5,499.1 1828.3,498.9C1837.2,498.7 1854.1,496.9 1861.6,495.5C1869.2,494.2 1880.7,490.4 1885,488.9C1889.2,487.3 1890.1,485 1893.6,483.9C1897.2,482.8 1909.2,495.7 1911.6,480.6C1914,465.5 1943.6,385.3 1911.6,370.7C1879.6,356 1703.3,369.1 1671.8,370.7Z" fill="#378c87"/>
<path d="M1473.7,520.5C1474.2,504.8 1475.9,512.6 1477,512.2C1478.1,511.8 1479.5,514.8 1482,517.2C1484.4,519.6 1491.3,527 1495.3,530.5C1499.3,534.1 1507.5,540.7 1512,543.8C1516.4,546.9 1523.7,551.6 1528.6,553.8C1533.5,556 1542.8,559.8 1548.6,560.5C1554.4,561.2 1566.6,560.6 1571.9,558.8C1577.2,557 1585,550.9 1588.6,547.2C1592.1,543.4 1596.3,534.1 1598.5,530.5C1600.8,527 1603,522.7 1605.2,520.5C1607.4,518.3 1611.6,515 1615.2,513.9C1618.7,512.8 1627.4,511.8 1631.8,512.2C1636.3,512.6 1644.5,515.2 1648.5,517.2C1652.5,519.2 1658.7,523.6 1661.8,527.2C1664.9,530.7 1669.6,539 1671.8,543.8C1674,548.7 1676.7,558 1678.5,563.8C1680.2,569.6 1683.4,580.9 1685.1,587.1C1686.9,593.3 1690,604.2 1691.8,610.4C1693.6,616.7 1696.2,627.5 1698.5,633.8C1700.7,640 1705.8,651.3 1708.4,657.1C1711.1,662.8 1714.9,672.2 1718.4,677.1C1722,681.9 1730.2,690.2 1735.1,693.7C1740,697.3 1748.9,701.7 1755.1,703.7C1761.3,705.7 1774.2,707.8 1781.7,708.7C1789.3,709.6 1803.2,710.1 1811.7,710.4C1820.1,710.6 1836.1,710.8 1845,710.4C1853.9,709.9 1871.8,707.7 1878.3,707C1884.8,706.4 1889.2,705.8 1893.6,705.4C1898.1,704.9 1909.2,698.1 1911.6,703.7C1914,709.2 1970.1,741.2 1911.6,747C1853.1,752.8 1531.5,762.5 1473,747C1414.5,731.4 1472.9,660.6 1473,630.4C1473.1,600.2 1473.1,536.3 1473.7,520.5Z" fill="#378c87"/>
<path d="M1470.5,378.5C1473.4,376.3 1497.4,378.3 1500.2,379.5C1502.9,380.8 1499.3,388.3 1498,391.2C1496.8,394.1 1489.1,404.8 1487.4,408.2C1485.7,411.5 1482.1,423.6 1481.1,425.1C1480,426.6 1477.6,424.3 1476.8,423C1476.1,421.7 1474.3,414.5 1473.7,412.4C1473,410.3 1470.8,405.2 1470.5,401.8C1470.2,398.4 1467.5,380.7 1470.5,378.5Z" fill="#378c87"/>
<path d="M1492,460.6C1492.2,456.6 1493.7,445.9 1495.3,440.6C1496.9,435.3 1500.7,425.9 1503.6,420.6C1506.5,415.3 1513,405.3 1517,400.6C1520.9,396 1529.4,389 1533.6,385.6C1537.8,382.3 1540.4,377.4 1548.6,375.7C1556.8,373.9 1581.9,372.5 1595.2,372.3C1608.5,372.1 1639.6,371.1 1648.5,374C1657.4,376.9 1658.7,388.6 1661.8,394C1664.9,399.3 1669.6,408.2 1671.8,414C1674,419.7 1676.9,431.1 1678.5,437.3C1680,443.5 1682.1,455.7 1683.5,460.6C1684.8,465.5 1686,470.3 1688.5,473.9C1690.9,477.5 1697.3,484.1 1701.8,487.2C1706.2,490.3 1715.5,495 1721.8,497.2C1728,499.4 1740.9,502.1 1748.4,503.9C1756,505.7 1769.9,509.4 1778.4,510.5C1786.8,511.6 1802.8,512.2 1811.7,512.2C1820.6,512.2 1836.1,511.2 1845,510.5C1853.9,509.9 1871.8,507.9 1878.3,507.2C1884.8,506.5 1891.5,493.6 1893.6,505.5C1895.7,517.5 1893.9,572 1893.9,597.1C1893.9,622.2 1895.7,680.4 1893.6,693.7C1891.5,707 1884.8,696.4 1878.3,697C1871.8,697.7 1853.9,698.7 1845,698.7C1836.1,698.7 1820.6,697.9 1811.7,697C1802.8,696.1 1786.4,693.8 1778.4,692C1770.4,690.3 1758,686.6 1751.7,683.7C1745.5,680.8 1736.2,674.4 1731.8,670.4C1727.3,666.4 1721.3,658.6 1718.4,653.7C1715.5,648.9 1712.1,639.5 1710.1,633.8C1708.1,628 1705.2,616.7 1703.4,610.4C1701.7,604.2 1698.6,593.3 1696.8,587.1C1695,580.9 1691.9,570 1690.1,563.8C1688.4,557.6 1685,546.3 1683.5,540.5C1681.9,534.7 1679.6,525 1678.5,520.5C1677.4,516.1 1676.5,510.3 1675.1,507.2C1673.8,504.1 1671.1,499.4 1668.5,497.2C1665.8,495 1659.6,492.1 1655.2,490.6C1650.7,489 1641,486.9 1635.2,485.6C1629.4,484.2 1618.1,481.4 1611.9,480.6C1605.6,479.7 1595.2,478.9 1588.6,478.9C1581.9,478.9 1568.6,479.7 1561.9,480.6C1555.2,481.4 1544.4,484.7 1538.6,485.6C1532.8,486.4 1523.5,487.9 1518.6,487.2C1513.7,486.6 1505.3,482.8 1502,480.6C1498.6,478.3 1495,473.2 1493.6,470.6C1492.3,467.9 1491.8,464.6 1492,460.6Z" fill="#57b679"/>
<path d="M1506.5,454.8C1507.6,448.8 1511.1,437.1 1515,429.3C1518.9,421.6 1523.8,414.2 1529.8,408.2C1535.8,402.1 1543.2,396.8 1551,393.3C1558.8,389.8 1568.3,388.2 1576.5,387C1584.6,385.7 1592,385.5 1599.8,385.9C1607.5,386.2 1616,387.1 1623.1,389.1C1630.2,391 1636.5,393.7 1642.2,397.6C1647.8,401.4 1653.1,406.7 1657,412.4C1660.9,418 1663,426.9 1665.5,431.5C1667.9,436.1 1671.5,435.4 1671.8,439.9C1672.2,444.5 1669,453 1667.6,459C1666.2,465 1665.8,472.4 1663.4,476C1660.9,479.5 1658.1,480.2 1652.8,480.2C1647.5,480.2 1638.6,477 1631.6,476C1624.5,474.9 1617.4,473.9 1610.4,473.9C1603.3,473.9 1596.2,474.6 1589.2,476C1582.1,477.4 1575,480.6 1568,482.3C1560.9,484.1 1552.8,485.9 1546.8,486.6C1540.8,487.3 1536.9,488 1531.9,486.6C1527,485.2 1521,481.6 1517.1,478.1C1513.2,474.6 1510.4,469.3 1508.6,465.4C1506.9,461.5 1505.5,460.8 1506.5,454.8Z" fill="#76c869"/>
<path d="M1530.3,443.9C1529.7,439.8 1531.1,434.8 1533.6,430.6C1536.1,426.4 1540,422 1545.3,419C1550.5,415.9 1557.5,413.8 1565.2,412.3C1573,410.8 1583,410 1591.9,410C1600.8,410 1610.8,410.8 1618.5,412.3C1626.3,413.8 1633,415.9 1638.5,419C1644.1,422 1648.9,426.2 1651.8,430.6C1654.7,435 1655.5,440.9 1655.8,445.6C1656.1,450.3 1655.3,455.3 1653.5,458.9C1651.7,462.5 1649.3,465.4 1645.2,467.2C1641,469.1 1635.2,470.2 1628.5,469.9C1621.9,469.6 1613,466.9 1605.2,465.6C1597.4,464.3 1589.1,462.2 1581.9,462.2C1574.7,462.2 1567.5,465.3 1561.9,465.6C1556.4,465.9 1552.8,465.6 1548.6,463.9C1544.4,462.2 1540,458.9 1536.9,455.6C1533.9,452.3 1530.8,448.1 1530.3,443.9Z" fill="#a4d75d"/>
<path d="M1541.9,533.8C1541.9,529.4 1543,524.1 1545.3,520.5C1547.5,516.9 1551.4,513.9 1555.2,512.2C1559.1,510.5 1564.4,509.7 1568.6,510.5C1572.7,511.4 1577.6,514.1 1580.2,517.2C1582.9,520.2 1584.6,524.7 1584.6,528.9C1584.6,533 1582.9,538.3 1580.2,542.2C1577.6,546.1 1572.7,550.2 1568.6,552.2C1564.4,554.1 1559.1,554.7 1555.2,553.8C1551.4,553 1547.5,550.5 1545.3,547.2C1543,543.8 1541.9,538.3 1541.9,533.8Z" fill="#57b679"/>
<path d="M1559.6,535.5C1560,533.6 1561.8,530.2 1563.6,528.9C1565.4,527.5 1568.4,526.6 1570.2,527.2C1572.1,527.7 1574.3,530.2 1574.6,532.2C1574.8,534.1 1573.5,537.2 1571.9,538.8C1570.3,540.5 1567.1,541.9 1565.2,542.2C1563.4,542.5 1561.9,541.6 1560.9,540.5C1560,539.4 1559.1,537.5 1559.6,535.5Z" fill="#76c869"/>
<path d="M1711.8,370.7C1685.4,372.2 1712.6,377.9 1713.4,382.3C1714.3,386.8 1716.4,398 1718.4,404C1720.4,410 1725.3,421.5 1728.4,427.3C1731.5,433 1737.3,441.9 1741.7,447.3C1746.2,452.6 1755.5,462.8 1761.7,467.2C1767.9,471.7 1780.4,477.9 1788.4,480.6C1796.4,483.2 1812.8,486.6 1821.7,487.2C1830.6,487.9 1847,486.9 1855,485.6C1863,484.2 1876.5,479.2 1881.6,477.2C1886.8,475.2 1889.6,471.9 1893.6,470.6C1897.6,469.2 1909.2,480.6 1911.6,467.2C1914,453.9 1938.2,383.5 1911.6,370.7C1885,357.8 1738.2,369.1 1711.8,370.7Z" fill="#297889"/>
<path d="M1473.7,597.1C1474.3,587.4 1473.5,591.4 1478.7,590.5C1483.8,589.5 1503.1,590.2 1512,589.8C1520.8,589.4 1536.4,588.8 1545.3,587.1C1554.1,585.4 1570.6,579.4 1578.6,577.1C1586.6,574.9 1599.4,571.1 1605.2,570.5C1611,569.8 1617.4,570.8 1621.9,572.1C1626.3,573.5 1634.1,577.1 1638.5,580.5C1642.9,583.8 1651.2,591.8 1655.2,597.1C1659.2,602.5 1665.4,614.2 1668.5,620.4C1671.6,626.7 1675.8,637.1 1678.5,643.7C1681.1,650.4 1686.7,663.7 1688.5,670.4C1690.2,677.1 1692.2,689 1691.8,693.7C1691.3,698.4 1689.1,703.4 1685.1,705.4C1681.1,707.4 1673.8,708 1661.8,708.7C1649.8,709.4 1613,710.1 1595.2,710.4C1577.5,710.6 1543.7,710.4 1528.6,710.4C1513.5,710.4 1489.2,711.2 1482,710.4C1474.8,709.5 1475.8,709.9 1474.7,703.7C1473.5,697.5 1473.8,677.9 1473.7,663.7C1473.5,649.5 1473,606.9 1473.7,597.1Z" fill="#297889"/>
<path d="M1751.7,389C1752.6,386.5 1751.2,384.9 1758.4,384C1765.6,383 1783.4,383 1795,383.3C1806.7,383.6 1818.3,383.3 1828.3,385.6C1838.3,388 1847.2,393.1 1855,397.3C1862.8,401.5 1869.7,406.7 1875,410.6C1880.2,414.5 1884.5,417.3 1886.6,420.6C1888.7,423.9 1889,427.6 1887.6,430.6C1886.2,433.7 1883.7,435.9 1878.3,438.9C1872.9,442 1863.3,445.9 1855,448.9C1846.7,452 1836.7,455.8 1828.3,457.2C1820,458.7 1812.2,459.3 1805,457.9C1797.8,456.5 1791.1,453.2 1785,448.9C1778.9,444.6 1772.8,438.1 1768.4,432.3C1764,426.4 1760.9,419.5 1758.4,414C1755.9,408.4 1754.5,403.1 1753.4,399C1752.3,394.8 1750.9,391.5 1751.7,389Z" fill="#14618e"/>
<path d="M1515.3,652.1C1516.1,650 1518.1,646.1 1521.9,643.7C1525.8,641.4 1532.5,639.1 1538.6,637.8C1544.7,636.4 1552.8,635.3 1558.6,635.4C1564.4,635.6 1571.9,637.1 1573.6,638.8C1575.2,640.4 1572.2,643.2 1568.6,645.4C1565,647.6 1558,650.2 1551.9,652.1C1545.8,653.9 1537.8,655.7 1531.9,656.4C1526.1,657.1 1519.7,657.1 1517,656.4C1514.2,655.7 1514.5,654.2 1515.3,652.1Z" fill="#14618e"/>
<path d="M1470.5,378.5C1473.4,376.3 1497.4,378.3 1500.2,379.5C1502.9,380.8 1499.3,388.3 1498,391.2C1496.8,394.1 1489.1,404.8 1487.4,408.2C1485.7,411.5 1482.1,423.6 1481.1,425.1C1480,426.6 1477.6,424.3 1476.8,423C1476.1,421.7 1474.3,414.5 1473.7,412.4C1473,410.3 1470.8,405.2 1470.5,401.8C1470.2,398.4 1467.5,380.7 1470.5,378.5Z" fill="#378c87"/>
<path d="M1681.3,513.9C1683.3,519.3 1684.2,526.8 1685.6,533C1687,539.2 1690,553.5 1691.9,560.5C1693.9,567.6 1698.2,579.2 1700.4,586C1702.7,592.8 1706.4,604.9 1708.9,611.4C1711.4,617.9 1716.1,629.1 1719.5,634.7C1722.9,640.4 1729.5,649.3 1734.3,653.8C1739.1,658.3 1749,665.2 1755.5,668.6C1762,672 1775.5,677.1 1783.1,679.2C1790.7,681.4 1804.6,683.5 1812.8,684.5C1821,685.5 1836.1,686.8 1844.6,686.7C1853,686.5 1869.6,684.5 1876.3,683.5C1883.1,682.5 1889.8,680.1 1895.4,679.2C1901.1,678.4 1915.6,695.8 1918.7,677.1C1921.8,658.5 1921.8,558.1 1918.7,539.3C1915.6,520.6 1901.1,536.9 1895.4,536.2C1889.8,535.5 1883.1,535 1876.3,534C1869.6,533.1 1853.6,530.3 1844.6,528.7C1835.5,527.2 1817.8,524.1 1808.5,522.4C1799.2,520.7 1783.1,517.7 1774.6,516C1766.1,514.3 1752.3,511.7 1744.9,509.7C1737.6,507.7 1725.2,503.7 1719.5,501.2C1713.8,498.7 1706.2,493.4 1702.5,490.6C1698.9,487.8 1695.6,482.5 1691.9,480C1688.3,477.5 1677.8,469.8 1675,471.5C1672.2,473.2 1669.9,487.1 1670.7,492.7C1671.6,498.4 1679.4,508.5 1681.3,513.9Z" fill="#57b679"/>
<path d="M1695.1,533C1695.3,529.9 1696.7,524.6 1698.3,522.4C1699.9,520.2 1703.4,517 1706.8,516.5C1710.2,515.9 1718.1,517.2 1723.7,518.2C1729.4,519.1 1741.5,521.9 1749.2,523.5C1756.8,525 1772.5,528.1 1781,529.8C1789.4,531.5 1804.3,534.3 1812.8,536.2C1821.2,538 1836.1,541.5 1844.6,543.6C1853,545.7 1869.6,550.2 1876.3,552.1C1883.1,553.9 1889.8,556.2 1895.4,557.4C1901.1,558.5 1915.6,545.7 1918.7,560.5C1921.8,575.4 1921.8,653.9 1918.7,668.6C1915.6,683.3 1901.1,670.1 1895.4,670.8C1889.8,671.5 1883.1,673.4 1876.3,673.9C1869.6,674.5 1853,675.4 1844.6,675C1836.1,674.6 1821,672.5 1812.8,670.8C1804.6,669.1 1790.4,665.1 1783.1,662.3C1775.7,659.5 1763.9,653.5 1757.7,649.6C1751.4,645.6 1741.3,637.7 1736.5,632.6C1731.7,627.5 1725,617.3 1721.6,611.4C1718.2,605.5 1713.6,594.3 1711,588.1C1708.5,581.9 1704.4,570.4 1702.5,564.8C1700.7,559.1 1698.2,549.9 1697.2,545.7C1696.3,541.5 1695,536.1 1695.1,533Z" fill="#76c869"/>
<path d="M1711,564.8C1711.4,568.7 1713,579.8 1715.3,586C1717.5,592.2 1723.5,604.9 1728,611.4C1732.5,617.9 1743,629.4 1749.2,634.7C1755.4,640.1 1767.3,648 1774.6,651.7C1782,655.4 1796.4,660.3 1804.3,662.3C1812.2,664.3 1826.9,666.1 1834,666.5C1841,666.9 1852.2,666.9 1857.3,665.5C1862.4,664 1868.4,659.7 1872.1,655.9C1875.8,652.1 1882.1,642.8 1884.8,636.8C1887.5,630.9 1891,618.2 1892.2,611.4C1893.5,604.6 1894.5,591.3 1894.4,586C1894.2,580.6 1893.6,574.2 1891.2,571.1C1888.8,568 1881.7,564.9 1876.3,562.7C1871,560.4 1858,556.2 1850.9,554.2C1843.8,552.2 1830.1,549.4 1823.4,547.8C1816.6,546.3 1806.5,543.9 1800,542.5C1793.5,541.1 1780.8,538.2 1774.6,537.2C1768.4,536.3 1758.5,535.4 1753.4,535.5C1748.3,535.7 1741,536.9 1736.5,538.3C1731.9,539.6 1722.7,543.3 1719.5,545.7C1716.2,548.1 1713.2,553.8 1712.1,556.3C1711,558.8 1710.6,560.8 1711,564.8Z" fill="#a4d75d"/>
<path d="M1732.2,573.3C1732.2,570.4 1733.7,566.8 1735.4,564.8C1737.1,562.8 1741.4,559.6 1744.9,558.4C1748.5,557.2 1756.8,555.9 1761.9,555.9C1767,555.9 1776.9,557.4 1783.1,558.4C1789.3,559.5 1801.7,562.2 1808.5,563.7C1815.3,565.3 1827.7,568.4 1834,570.1C1840.2,571.8 1850.6,574.9 1855.1,576.4C1859.7,578 1865.9,580.2 1867.9,581.7C1869.8,583.3 1870.6,585.8 1870,588.1C1869.4,590.4 1865.6,595.3 1863.6,598.7C1861.6,602.1 1857.4,609.6 1855.1,613.5C1852.9,617.5 1848.6,625 1846.7,628.4C1844.7,631.8 1842.6,636.7 1840.3,639C1838.1,641.2 1833.4,644.5 1829.7,645.3C1826,646.2 1817.6,645.9 1812.8,645.3C1808,644.8 1798.8,642.9 1793.7,641.1C1788.6,639.2 1779.4,634.7 1774.6,631.5C1769.8,628.4 1761.6,621.9 1757.7,617.8C1753.7,613.7 1747.9,605.1 1744.9,600.8C1742,596.6 1737.1,589.7 1735.4,586C1733.7,582.3 1732.2,576.1 1732.2,573.3Z" fill="#d4e170"/>
</g>
<circle cx="1487.6" cy="538.1" r="5.9" fill="#ff0000"/>
<circle cx="1546.9" cy="597.1" r="5.9" fill="#ff0000"/>
<circle cx="1673.9" cy="456.2" r="5.9" fill="#ff0000"/>
<circle cx="1792.3" cy="419.8" r="5.9" fill="#ff0000"/>
<circle cx="1728.6" cy="542.5" r="5.9" fill="#ff0000"/>
<circle cx="1746.4" cy="556.4" r="5.9" fill="#ff0000"/>
<circle cx="1778.4" cy="605.9" r="5.9" fill="#ff0000"/>
<circle cx="1814.8" cy="624.1" r="5.9" fill="#ff0000"/>
<circle cx="1878.2" cy="633.2" r="5.9" fill="#ff0000"/>
<circle cx="1897.1" cy="683.4" r="5.9" fill="#ff0000"/>
</g>
<rect x="1469.5" y="379.1" width="427.5" height="335.7" fill="none" stroke="#000" stroke-width="1.6"/>
<line x1="1463.7" x2="1469.5" y1="714.8" y2="714.8" stroke="#000" stroke-width="1.6"/>
<line x1="1463.7" x2="1469.5" y1="650.1" y2="650.1" stroke="#000" stroke-width="1.6"/>
<line x1="1463.7" x2="1469.5" y1="585.3" y2="585.3" stroke="#000" stroke-width="1.6"/>
<line x1="1463.7" x2="1469.5" y1="520.6" y2="520.6" stroke="#000" stroke-width="1.6"/>
<line x1="1463.7" x2="1469.5" y1="455.8" y2="455.8" stroke="#000" stroke-width="1.6"/>
<line x1="1463.7" x2="1469.5" y1="391.1" y2="391.1" stroke="#000" stroke-width="1.6"/>
<line x1="1469.5" x2="1469.5" y1="714.8" y2="720.6" stroke="#000" stroke-width="1.6"/>
<text x="1469.5" y="746.3" font-size="24.5" text-anchor="middle" font-weight="normal" >0</text>
<line x1="1632.0" x2="1632.0" y1="714.8" y2="720.6" stroke="#000" stroke-width="1.6"/>
<text x="1632.0" y="746.3" font-size="24.5" text-anchor="middle" font-weight="normal" >50</text>
<line x1="1794.5" x2="1794.5" y1="714.8" y2="720.6" stroke="#000" stroke-width="1.6"/>
<text x="1794.5" y="746.3" font-size="24.5" text-anchor="middle" font-weight="normal" >100</text>
<text x="1683.2" y="776.3" font-size="24.5" text-anchor="middle" font-weight="normal" >X (km)</text>
<text transform="translate(1480.2,421.4) rotate(0.03) scale(1.004,1.01)" font-size="32.6" font-weight="bold">RMSE = 34%</text>
<text transform="translate(1491.3,694.5) scale(1,1)" font-size="40.8" font-weight="bold">h</text>
<g clip-path="url(#cp14)">
<rect x="1922.7" y="378.1" width="429.5" height="337.7" fill="#44a183"/>
<g>
<path d="M2142.5,370.7C2112.9,374.2 2143.7,389.3 2144.1,397.3C2144.6,405.3 2145.1,422.6 2145.8,430.6C2146.5,438.6 2147.3,451 2149.1,457.2C2150.9,463.5 2155.1,472.8 2159.1,477.2C2163.1,481.7 2172.9,487.9 2179.1,490.6C2185.3,493.2 2198.2,496 2205.7,497.2C2213.3,498.5 2227.3,499.8 2235.7,499.9C2244.1,500 2260.1,498.8 2269,497.9C2277.9,497 2293.9,494.6 2302.3,493.2C2310.8,491.8 2326.3,488.5 2332.3,487.2C2338.3,486 2343.2,484.8 2347.6,483.9C2352.1,483 2363.2,495.7 2365.6,480.6C2368,465.5 2395.3,385.3 2365.6,370.7C2335.8,356 2172,367.1 2142.5,370.7Z" fill="#378c87"/>
<path d="M1926,510.5C1926.9,495 1929.5,511.2 1932.7,513.9C1935.8,516.5 1944.9,526.1 1949.3,530.5C1953.7,535 1961.5,542.7 1966,547.2C1970.4,551.6 1979.5,560.5 1982.6,563.8C1985.7,567.2 1989,570.4 1989.3,572.1C1989.5,573.9 1982.9,575.8 1984.3,577.1C1985.6,578.5 1995,581.7 1999.3,582.1C2003.5,582.6 2010.1,581.4 2015.9,580.5C2021.7,579.6 2036.3,577.7 2042.6,575.5C2048.8,573.3 2058.1,566.7 2062.5,563.8C2067,560.9 2072.3,555.8 2075.9,553.8C2079.4,551.8 2085.6,549.3 2089.2,548.8C2092.7,548.4 2098.9,549.4 2102.5,550.5C2106.1,551.6 2112.3,554.5 2115.8,557.2C2119.4,559.8 2126,566.5 2129.1,570.5C2132.2,574.5 2136.5,582.7 2139.1,587.1C2141.8,591.6 2146.9,600.9 2149.1,603.8C2151.3,606.7 2154.2,607.4 2155.8,608.8C2157.3,610.1 2159.4,610.9 2160.8,613.8C2162.1,616.7 2164.2,625.5 2165.8,630.4C2167.3,635.3 2170.2,645.1 2172.4,650.4C2174.7,655.7 2179.3,665.5 2182.4,670.4C2185.5,675.3 2192.2,683 2195.7,687C2199.3,691 2207.7,696.7 2209.1,700.4C2210.4,704 2206.2,708.5 2205.7,714.7C2205.3,720.9 2243,742.7 2205.7,747C2168.4,751.3 1963.3,762.5 1926,747C1888.7,731.4 1926,662 1926,630.4C1926,598.9 1925.1,526.1 1926,510.5Z" fill="#378c87"/>
<path d="M1936.6,480.6C1936.4,476.1 1936.8,466.4 1937.6,460.6C1938.4,454.8 1940.6,443.5 1942.6,437.3C1944.6,431.1 1949.1,419.5 1952.6,414C1956.2,408.4 1963.5,399.4 1969.3,395.6C1975.1,391.9 1985.3,387.3 1995.9,385.6C2006.6,384 2035.9,383.4 2049.2,383.3C2062.5,383.2 2087.4,383.2 2095.8,384.6C2104.3,386.1 2109.2,390.1 2112.5,394C2115.8,397.9 2119.1,408.2 2120.8,414C2122.5,419.7 2124.3,431.1 2125.1,437.3C2126,443.5 2127.6,454.8 2127.5,460.6C2127.3,466.4 2125.5,476.6 2124.1,480.6C2122.8,484.6 2117.7,487.4 2117.5,490.6C2117.3,493.7 2121.1,499.4 2122.5,503.9C2123.8,508.3 2126.6,519 2127.5,523.9C2128.4,528.7 2129.8,539.6 2129.1,540.5C2128.5,541.4 2124.7,533.6 2122.5,530.5C2120.3,527.4 2116,519.9 2112.5,517.2C2108.9,514.5 2100.7,511 2095.8,510.5C2091,510.1 2080.3,512.1 2075.9,513.9C2071.4,515.6 2065,520.3 2062.5,523.9C2060.1,527.4 2058.9,536.1 2057.5,540.5C2056.2,544.9 2055,553.6 2052.5,557.2C2050.1,560.7 2043.7,565.4 2039.2,567.2C2034.8,568.9 2022.8,570.5 2019.2,570.5C2015.7,570.5 2015.2,568.9 2012.6,567.2C2009.9,565.4 2003.3,560.3 1999.3,557.2C1995.3,554.1 1987,547.8 1982.6,543.8C1978.2,539.8 1970.4,532.1 1966,527.2C1961.5,522.3 1952.9,511.6 1949.3,507.2C1945.8,502.8 1941,497.4 1939.3,493.9C1937.6,490.3 1936.9,485 1936.6,480.6Z" fill="#57b679"/>
<path d="M1966,443.3C1966.5,440.4 1968.7,434.9 1971,431.6C1973.2,428.3 1978.8,421.4 1982.6,418.3C1986.4,415.2 1994.4,410.7 1999.3,408.3C2004.1,405.9 2013.7,401.5 2019.2,400C2024.8,398.4 2035.3,396.8 2040.9,396.6C2046.4,396.5 2055.8,397.8 2060.9,399.1C2066,400.5 2074.5,404.3 2079.2,406.6C2083.9,409 2092.1,413.7 2095.9,416.6C2099.6,419.5 2105.1,425 2107.5,428.3C2109.9,431.6 2113.2,438.1 2114.2,441.6C2115.2,445.2 2115.4,451.6 2115,454.9C2114.6,458.3 2112.7,463.7 2110.8,466.6C2109,469.5 2102.8,474.4 2100.8,476.6C2098.8,478.8 2095.9,481 2095.9,483.2C2095.9,485.5 2099.5,490.8 2100.8,493.2C2102.2,495.7 2105.4,499.8 2105.8,501.6C2106.3,503.3 2106.2,506.3 2104.2,506.6C2102.2,506.8 2094.9,504.4 2090.9,503.2C2086.9,502 2078.6,498.7 2074.2,497.4C2069.8,496.1 2061.3,493.6 2057.5,493.2C2053.8,492.9 2048.2,493.8 2045.9,494.9C2043.6,496 2040.5,499.6 2040.1,501.6C2039.6,503.6 2041.6,507.4 2042.6,509.9C2043.6,512.3 2046.8,517.2 2047.6,519.9C2048.3,522.5 2048.8,527.2 2048.4,529.9C2047.9,532.5 2045.6,537.7 2044.2,539.9C2042.9,542 2040,545.7 2038.4,545.7C2036.8,545.7 2034.7,541.7 2032.6,539.9C2030.5,538 2025.7,532.2 2022.6,531.5C2019.5,530.9 2012.4,534.2 2009.3,534.9C2006.1,535.5 2001.7,537.4 1999.3,536.5C1996.8,535.6 1992.7,530.9 1990.9,528.2C1989.2,525.5 1986.7,519.9 1985.9,516.5C1985.2,513.2 1984.7,506.8 1985.1,503.2C1985.6,499.7 1988.7,493 1989.3,489.9C1989.8,486.8 1990.2,482.1 1989.3,479.9C1988.4,477.7 1984.8,475.5 1982.6,473.2C1980.4,471 1974.7,465.9 1972.6,463.3C1970.5,460.6 1967.7,455.9 1966.8,453.3C1965.9,450.6 1965.4,446.2 1966,443.3Z" fill="#76c869"/>
<path d="M1921,376.7C1924.7,373.2 1955.1,375.7 1958.5,376.7C1961.8,377.7 1955.6,384.3 1954.3,386.7C1953.1,389 1947.6,397.1 1946,400C1944.3,402.8 1939,412.5 1937.6,415C1936.3,417.5 1933.7,424.3 1932.7,425C1931.7,425.6 1928.4,423 1927.7,421.6C1926.9,420.3 1925.8,412.6 1925.2,411.6C1924.5,410.6 1921.4,415.1 1921,411.6C1920.6,408.1 1917.2,380.2 1921,376.7Z" fill="#378c87"/>
<path d="M2021.9,482.2C2023.3,481 2028,477.5 2032.6,476.6C2037.1,475.6 2044.5,476.2 2049.2,476.6C2053.9,477 2060.9,478.2 2060.9,478.9C2060.9,479.6 2053.9,480.2 2049.2,480.6C2044.5,481 2036.7,480.7 2032.6,481.2C2028.4,481.8 2026,483.7 2024.2,483.9C2022.5,484.1 2020.5,483.4 2021.9,482.2Z" fill="#a4d75d"/>
<path d="M2142.8,493.9C2143.5,489.6 2145.6,490.1 2149.1,490.6C2152.6,491 2162.4,495.4 2169.1,497.2C2175.8,499 2190.6,502.5 2199.1,503.9C2207.5,505.2 2223.5,507.2 2232.4,507.2C2241.3,507.2 2256.8,505 2265.7,503.9C2274.6,502.8 2290.1,500.2 2299,498.9C2307.9,497.5 2325.8,494.8 2332.3,493.9C2338.8,493 2345.5,478.5 2347.6,492.2C2349.7,506 2347.7,570.8 2347.9,597.1C2348.2,623.5 2351.6,676.7 2349.3,689.7C2346.9,702.8 2335.1,693.6 2330.3,695C2325.5,696.5 2317.8,699.1 2313.3,700.4C2308.8,701.7 2299.7,704.4 2296.3,704.7C2292.9,705 2288.8,703.8 2288,702.4C2287.2,700.9 2289.2,696.3 2290,694C2290.8,691.8 2294,687.4 2294.3,685.7C2294.6,684 2294.6,682.7 2292.3,681.4C2290.1,680.1 2282.2,677 2277.3,676.1C2272.5,675.1 2262.5,674.6 2256,674.1C2249.5,673.5 2235.2,672.4 2228.7,671.7C2222.2,671 2212.5,670.3 2207.4,668.7C2202.3,667.2 2194.1,663.2 2190.4,660.1C2186.7,657 2182.2,650.2 2179.8,645.4C2177.4,640.6 2174.4,630.3 2172.4,624.1C2170.5,617.9 2167.2,605.6 2165.1,598.8C2163,592 2158.6,579.9 2156.5,573.1C2154.3,566.4 2150.8,554.6 2149.1,547.8C2147.4,541.1 2144.6,529.7 2143.8,522.5C2143,515.3 2142.1,498.1 2142.8,493.9Z" fill="#57b679"/>
<path d="M2153.1,522.2C2152.9,519.5 2154.4,517.5 2157.4,517.2C2160.5,516.9 2169.8,518.5 2175.8,519.9C2181.8,521.2 2195.3,525.5 2202.4,527.2C2209.5,528.8 2221.9,531.3 2229.1,532.2C2236.2,533.1 2249.5,534.1 2255.7,533.8C2261.9,533.6 2270.8,531.8 2275.7,530.5C2280.6,529.2 2288.3,525.9 2292.3,523.9C2296.3,521.9 2302.1,517.5 2305.6,515.5C2309.2,513.5 2315,510 2319,508.9C2323,507.8 2332.7,506.5 2335.6,507.2C2338.5,507.9 2340.2,510.8 2340.6,513.9C2341.1,517 2339,525.6 2339,530.5C2339,535.4 2339.5,546.1 2340.6,550.5C2341.8,554.9 2346.6,548.7 2347.6,563.8C2348.6,578.9 2349.5,650.9 2347.9,663.7C2346.3,676.6 2339.9,660.2 2335.6,660.4C2331.3,660.6 2321,664.5 2315.6,665.4C2310.3,666.3 2301.9,667.1 2295.7,667.1C2289.4,667.1 2276.1,666.3 2269,665.4C2261.9,664.5 2249,662.2 2242.4,660.4C2235.7,658.6 2224.4,654.7 2219.1,652.1C2213.7,649.4 2206,644.2 2202.4,640.4C2198.9,636.6 2194.9,628.7 2192.4,623.8C2190,618.9 2186.3,609.6 2184.1,603.8C2181.9,598 2178,586.7 2175.8,580.5C2173.5,574.3 2169.7,562.9 2167.4,557.2C2165.2,551.4 2161,541.8 2159.1,537.2C2157.2,532.5 2153.3,524.9 2153.1,522.2Z" fill="#76c869"/>
<path d="M2165.8,550.5C2165.3,547.6 2166.9,543.6 2169.1,542.2C2171.3,540.8 2177.5,539.4 2182.4,539.8C2187.3,540.3 2199.1,543.9 2205.7,545.5C2212.4,547.1 2224.8,550.8 2232.4,552.2C2239.9,553.5 2254.4,554.8 2262.4,555.5C2270.3,556.2 2284.8,556.5 2292.3,557.2C2299.9,557.8 2312.8,558.9 2319,560.5C2325.2,562 2335.4,566.2 2339,568.8C2342.5,571.5 2345.2,577.1 2345.6,580.5C2346.1,583.8 2344.5,590.7 2342.3,593.8C2340.1,596.9 2332.5,601.1 2329,603.8C2325.4,606.4 2318.5,610.7 2315.6,613.8C2312.8,616.9 2309.1,623.1 2307.3,627.1C2305.5,631.1 2304.3,639.8 2302.3,643.7C2300.3,647.7 2295.9,654.9 2292.3,657.1C2288.8,659.2 2281,660 2275.7,659.7C2270.3,659.5 2258.6,657.1 2252.4,655.4C2246.1,653.7 2234.6,649.7 2229.1,647.1C2223.5,644.4 2214.7,639 2210.7,635.4C2206.7,631.9 2201.7,625.1 2199.1,620.4C2196.4,615.8 2193,605.8 2190.8,600.5C2188.5,595.1 2184.9,585.4 2182.4,580.5C2180,575.6 2174.7,567.8 2172.4,563.8C2170.2,559.8 2166.2,553.4 2165.8,550.5Z" fill="#a4d75d"/>
<path d="M2185.8,580.5C2185.8,577.8 2187.3,572.7 2189.1,570.5C2190.9,568.3 2195.5,565.2 2199.1,563.8C2202.6,562.5 2210.4,560.7 2215.7,560.5C2221.1,560.3 2232.4,561.5 2239,562.2C2245.7,562.8 2258.6,564.5 2265.7,565.5C2272.8,566.5 2285.7,568.5 2292.3,569.8C2299,571.1 2310.3,573.8 2315.6,575.5C2321,577.1 2330.5,580.1 2332.3,582.1C2334.1,584.1 2331.2,588.5 2329,590.5C2326.7,592.5 2318.7,594.7 2315.6,597.1C2312.5,599.6 2307.9,605.2 2305.6,608.8C2303.4,612.3 2300.8,619.5 2299,623.8C2297.2,628 2294.5,637.1 2292.3,640.4C2290.1,643.7 2286.3,647.9 2282.3,648.7C2278.3,649.6 2267.7,648 2262.4,647.1C2257,646.2 2247.7,644.1 2242.4,642.1C2237,640.1 2227.1,635.2 2222.4,632.1C2217.7,629 2210.7,622.8 2207.4,618.8C2204.1,614.8 2199.9,605.9 2197.4,602.1C2195,598.3 2190.6,593.3 2189.1,590.5C2187.5,587.6 2185.8,583.1 2185.8,580.5Z" fill="#d4e170"/>
<path d="M2324,630.4C2324.8,627.1 2328.1,625.4 2330.6,623.8C2333.1,622.1 2337,619.9 2339,620.4C2340.9,621 2342.3,623.8 2342.3,627.1C2342.3,630.4 2340.6,637.1 2339,640.4C2337.3,643.7 2334.5,646.5 2332.3,647.1C2330.1,647.6 2327,646.5 2325.6,643.7C2324.2,641 2323.1,633.8 2324,630.4Z" fill="#a4d75d"/>
<path d="M2160.8,370.7C2133.9,374.2 2163,391.1 2164.1,397.3C2165.2,403.5 2167.1,411.5 2169.1,417.3C2171.1,423.1 2176,434.8 2179.1,440.6C2182.2,446.4 2188,455.9 2192.4,460.6C2196.9,465.2 2206.2,472.2 2212.4,475.6C2218.6,478.9 2231.5,483.9 2239,485.6C2246.6,487.2 2261,488.1 2269,487.9C2277,487.7 2291.4,485.3 2299,483.9C2306.5,482.5 2319.1,479 2325.6,477.2C2332.1,475.5 2342.3,471.9 2347.6,470.6C2352.9,469.2 2363.2,480.6 2365.6,467.2C2368,453.9 2392.9,383.5 2365.6,370.7C2338.3,357.8 2187.6,367.1 2160.8,370.7Z" fill="#297889"/>
<path d="M2190.8,397.3C2190.8,394.6 2190.9,389.3 2192.4,387.3C2194,385.3 2194.9,383.1 2202.4,382.3C2210,381.5 2230.4,381.5 2249,381.3C2267.7,381.2 2329.2,380.1 2342.3,381.3C2355.4,382.6 2346.6,384.1 2347.3,390.6C2347.9,397.2 2347.9,423.5 2347.3,430.6C2346.6,437.7 2345.2,440.6 2342.3,443.9C2339.4,447.3 2331.4,452.7 2325.6,455.6C2319.9,458.5 2306.5,463.6 2299,465.6C2291.4,467.6 2276.6,470.3 2269,470.6C2261.5,470.8 2248.6,469 2242.4,467.2C2236.2,465.5 2227.3,460.8 2222.4,457.2C2217.5,453.7 2209.3,445.5 2205.7,440.6C2202.2,435.7 2197.6,425.1 2195.7,420.6C2193.9,416.2 2192.4,410.4 2191.8,407.3C2191.1,404.2 2190.7,400 2190.8,397.3Z" fill="#14618e"/>
<path d="M1927.7,610.4C1928.1,597.6 1929,602.5 1931,600.5C1933,598.5 1935.8,596.3 1942.6,595.5C1949.5,594.6 1972.8,594.5 1982.6,593.8C1992.4,593.1 2007,591.6 2015.9,590.5C2024.8,589.4 2041.2,586.4 2049.2,585.5C2057.2,584.6 2068.8,583.6 2075.9,583.8C2083,584 2096.3,585.4 2102.5,587.1C2108.7,588.9 2118,593.1 2122.5,597.1C2126.9,601.1 2133.1,611.3 2135.8,617.1C2138.5,622.9 2140.7,634.2 2142.5,640.4C2144.2,646.6 2147.7,657.5 2149.1,663.7C2150.5,669.9 2152.7,681.7 2153.1,687C2153.6,692.4 2153.9,700.6 2152.5,703.7C2151,706.8 2151.8,709.2 2142.5,710.4C2133.1,711.5 2103.8,711.8 2082.5,712C2061.2,712.2 2002.6,712.2 1982.6,712C1962.6,711.8 1940,712.4 1932.7,710.4C1925.3,708.4 1928.3,710.4 1927.7,697C1927,683.7 1927.2,623.3 1927.7,610.4Z" fill="#297889"/>
<path d="M2310.6,708.7C2310.6,706.9 2317.6,703.7 2322.3,702C2327,700.4 2334.7,699 2339,698.7C2343.2,698.4 2346.2,698.1 2347.6,700.4C2349.1,702.6 2351.8,709.9 2347.6,712C2343.4,714.1 2328.5,713.6 2322.3,713C2316.1,712.5 2310.6,710.5 2310.6,708.7Z" fill="#378c87"/>
</g>
<circle cx="1941.8" cy="538.1" r="5.9" fill="#ff0000"/>
<circle cx="2001.1" cy="597.1" r="5.9" fill="#ff0000"/>
<circle cx="2128.1" cy="456.2" r="5.9" fill="#ff0000"/>
<circle cx="2246.5" cy="419.8" r="5.9" fill="#ff0000"/>
<circle cx="2182.8" cy="542.5" r="5.9" fill="#ff0000"/>
<circle cx="2200.6" cy="556.4" r="5.9" fill="#ff0000"/>
<circle cx="2232.6" cy="605.9" r="5.9" fill="#ff0000"/>
<circle cx="2269.0" cy="624.1" r="5.9" fill="#ff0000"/>
<circle cx="2332.4" cy="633.2" r="5.9" fill="#ff0000"/>
<circle cx="2351.3" cy="683.4" r="5.9" fill="#ff0000"/>
</g>
<rect x="1923.7" y="379.1" width="427.5" height="335.7" fill="none" stroke="#000" stroke-width="1.6"/>
<line x1="1917.9" x2="1923.7" y1="714.8" y2="714.8" stroke="#000" stroke-width="1.6"/>
<line x1="1917.9" x2="1923.7" y1="650.1" y2="650.1" stroke="#000" stroke-width="1.6"/>
<line x1="1917.9" x2="1923.7" y1="585.3" y2="585.3" stroke="#000" stroke-width="1.6"/>
<line x1="1917.9" x2="1923.7" y1="520.6" y2="520.6" stroke="#000" stroke-width="1.6"/>
<line x1="1917.9" x2="1923.7" y1="455.8" y2="455.8" stroke="#000" stroke-width="1.6"/>
<line x1="1917.9" x2="1923.7" y1="391.1" y2="391.1" stroke="#000" stroke-width="1.6"/>
<line x1="1923.7" x2="1923.7" y1="714.8" y2="720.6" stroke="#000" stroke-width="1.6"/>
<text x="1923.7" y="746.3" font-size="24.5" text-anchor="middle" font-weight="normal" >0</text>
<line x1="2086.2" x2="2086.2" y1="714.8" y2="720.6" stroke="#000" stroke-width="1.6"/>
<text x="2086.2" y="746.3" font-size="24.5" text-anchor="middle" font-weight="normal" >50</text>
<line x1="2248.7" x2="2248.7" y1="714.8" y2="720.6" stroke="#000" stroke-width="1.6"/>
<text x="2248.7" y="746.3" font-size="24.5" text-anchor="middle" font-weight="normal" >100</text>
<text x="2137.5" y="776.3" font-size="24.5" text-anchor="middle" font-weight="normal" >X (km)</text>
<text transform="translate(1934.4,421.4) rotate(0.03) scale(1.004,1.01)" font-size="32.6" font-weight="bold">RMSE = 34%</text>
<text transform="translate(1945.5,694.5) scale(1,1)" font-size="40.8" font-weight="bold">l</text>
<line x1="106.8" x2="106.8" y1="372.5" y2="379.1" stroke="#000" stroke-width="1.6"/>
<line x1="561.0" x2="561.0" y1="372.5" y2="379.1" stroke="#000" stroke-width="1.6"/>
<line x1="1015.3" x2="1015.3" y1="372.5" y2="379.1" stroke="#000" stroke-width="1.6"/>
<line x1="1469.5" x2="1469.5" y1="372.5" y2="379.1" stroke="#000" stroke-width="1.6"/>
<line x1="1923.7" x2="1923.7" y1="372.5" y2="379.1" stroke="#000" stroke-width="1.6"/>
<rect x="2369.5" y="324.24" width="15.1" height="48.56" fill="#2a2195"/>
<rect x="2369.5" y="276.29" width="15.1" height="48.56" fill="#105095"/>
<rect x="2369.5" y="228.33" width="15.1" height="48.56" fill="#257289"/>
<rect x="2369.5" y="180.37" width="15.1" height="48.56" fill="#3b9286"/>
<rect x="2369.5" y="132.41" width="15.1" height="48.56" fill="#53b37b"/>
<rect x="2369.5" y="84.46" width="15.1" height="48.56" fill="#8ed061"/>
<rect x="2369.5" y="36.50" width="15.1" height="48.56" fill="#dde479"/>
<rect x="2369.5" y="36.8" width="15.1" height="335.7" fill="none" stroke="#000" stroke-width="1.6"/>
<line x1="2384.6" x2="2390.4" y1="372.5" y2="372.5" stroke="#000" stroke-width="1.6"/>
<text x="2396.2" y="381.8" font-size="24.5" text-anchor="start" font-weight="normal" >37.96</text>
<line x1="2384.6" x2="2390.4" y1="300.6" y2="300.6" stroke="#000" stroke-width="1.6"/>
<text x="2396.2" y="309.9" font-size="24.5" text-anchor="start" font-weight="normal" >38.02</text>
<line x1="2384.6" x2="2390.4" y1="228.6" y2="228.6" stroke="#000" stroke-width="1.6"/>
<text x="2396.2" y="237.9" font-size="24.5" text-anchor="start" font-weight="normal" >38.08</text>
<line x1="2384.6" x2="2390.4" y1="156.7" y2="156.7" stroke="#000" stroke-width="1.6"/>
<text x="2396.2" y="166.0" font-size="24.5" text-anchor="start" font-weight="normal" >38.14</text>
<line x1="2384.6" x2="2390.4" y1="84.8" y2="84.8" stroke="#000" stroke-width="1.6"/>
<text x="2396.2" y="94.1" font-size="24.5" text-anchor="start" font-weight="normal" >38.20</text>
<text transform="translate(2490.5,204.7) rotate(-90)" font-size="24.5" text-anchor="middle">Salinity (psu)</text>
<rect x="2369.5" y="677.20" width="15.1" height="37.90" fill="#2a1f8b"/>
<rect x="2369.5" y="639.90" width="15.1" height="37.90" fill="#14419a"/>
<rect x="2369.5" y="602.60" width="15.1" height="37.90" fill="#13608e"/>
<rect x="2369.5" y="565.30" width="15.1" height="37.90" fill="#2a7a89"/>
<rect x="2369.5" y="528.00" width="15.1" height="37.90" fill="#3b9286"/>
<rect x="2369.5" y="490.70" width="15.1" height="37.90" fill="#4dac7e"/>
<rect x="2369.5" y="453.40" width="15.1" height="37.90" fill="#6dc56c"/>
<rect x="2369.5" y="416.10" width="15.1" height="37.90" fill="#a9d85f"/>
<rect x="2369.5" y="378.80" width="15.1" height="37.90" fill="#e4e680"/>
<rect x="2369.5" y="379.1" width="15.1" height="335.7" fill="none" stroke="#000" stroke-width="1.6"/>
<line x1="2384.6" x2="2390.4" y1="714.8" y2="714.8" stroke="#000" stroke-width="1.6"/>
<text x="2396.2" y="724.1" font-size="24.5" text-anchor="start" font-weight="normal" >37.68</text>
<line x1="2384.6" x2="2390.4" y1="640.2" y2="640.2" stroke="#000" stroke-width="1.6"/>
<text x="2396.2" y="649.5" font-size="24.5" text-anchor="start" font-weight="normal" >37.76</text>
<line x1="2384.6" x2="2390.4" y1="565.6" y2="565.6" stroke="#000" stroke-width="1.6"/>
<text x="2396.2" y="574.9" font-size="24.5" text-anchor="start" font-weight="normal" >37.84</text>
<line x1="2384.6" x2="2390.4" y1="491.0" y2="491.0" stroke="#000" stroke-width="1.6"/>
<text x="2396.2" y="500.3" font-size="24.5" text-anchor="start" font-weight="normal" >37.92</text>
<line x1="2384.6" x2="2390.4" y1="416.4" y2="416.4" stroke="#000" stroke-width="1.6"/>
<text x="2396.2" y="425.7" font-size="24.5" text-anchor="start" font-weight="normal" >38.00</text>
<text transform="translate(2490.5,547.0) rotate(-90)" font-size="24.5" text-anchor="middle">Salinity (psu)</text>
<rect x="98.1" y="803.3" width="1063.0" height="232.1" fill="#fff"/>
<line x1="236.9" x2="236.9" y1="803.3" y2="1035.4" stroke="#b0b0b0" stroke-width="1.6"/>
<line x1="236.9" x2="236.9" y1="1035.4" y2="1041.2" stroke="#000" stroke-width="1.6"/>
<text x="236.9" y="1065.8" font-size="24.5" text-anchor="middle" font-weight="normal" >20</text>
<line x1="468.0" x2="468.0" y1="803.3" y2="1035.4" stroke="#b0b0b0" stroke-width="1.6"/>
<line x1="468.0" x2="468.0" y1="1035.4" y2="1041.2" stroke="#000" stroke-width="1.6"/>
<text x="468.0" y="1065.8" font-size="24.5" text-anchor="middle" font-weight="normal" >40</text>
<line x1="699.0" x2="699.0" y1="803.3" y2="1035.4" stroke="#b0b0b0" stroke-width="1.6"/>
<line x1="699.0" x2="699.0" y1="1035.4" y2="1041.2" stroke="#000" stroke-width="1.6"/>
<text x="699.0" y="1065.8" font-size="24.5" text-anchor="middle" font-weight="normal" >60</text>
<line x1="930.0" x2="930.0" y1="803.3" y2="1035.4" stroke="#b0b0b0" stroke-width="1.6"/>
<line x1="930.0" x2="930.0" y1="1035.4" y2="1041.2" stroke="#000" stroke-width="1.6"/>
<text x="930.0" y="1065.8" font-size="24.5" text-anchor="middle" font-weight="normal" >80</text>
<line x1="1161.1" x2="1161.1" y1="1035.4" y2="1041.2" stroke="#000" stroke-width="1.6"/>
<text x="1161.1" y="1065.8" font-size="24.5" text-anchor="middle" font-weight="normal" >100</text>
<line x1="98.1" x2="1161.1" y1="989.1" y2="989.1" stroke="#b0b0b0" stroke-width="1.6"/>
<line x1="92.3" x2="98.1" y1="989.1" y2="989.1" stroke="#000" stroke-width="1.6"/>
<text x="86.6" y="998.4" font-size="24.5" text-anchor="end" font-weight="normal" >20%</text>
<line x1="98.1" x2="1161.1" y1="896.2" y2="896.2" stroke="#b0b0b0" stroke-width="1.6"/>
<line x1="92.3" x2="98.1" y1="896.2" y2="896.2" stroke="#000" stroke-width="1.6"/>
<text x="86.6" y="905.5" font-size="24.5" text-anchor="end" font-weight="normal" >40%</text>
<line x1="92.3" x2="98.1" y1="803.3" y2="803.3" stroke="#000" stroke-width="1.6"/>
<text x="86.6" y="812.6" font-size="24.5" text-anchor="end" font-weight="normal" >60%</text>
<clipPath id="cl1"><rect x="98.1" y="803.3" width="1063.0" height="232.1"/></clipPath>
<g fill="none" stroke-linejoin="round" clip-path="url(#cl1)">
<polyline points="121.4,867.4 179.1,881.8 236.9,896.7 294.7,906.9 352.4,912.5 468.0,924.1 699.0,949.2 930.0,962.2 1045.6,968.7 1161.1,973.3" stroke="#800080" stroke-width="3.0" stroke-linecap="square"/>
<polyline points="121.4,849.3 179.1,870.7 236.9,890.6 294.7,905.5 352.4,912.9 468.0,925.9 699.0,952.4 930.0,965.9 1045.6,972.4 1161.1,977.5" stroke="#0000ff" stroke-width="3.0" stroke-linecap="square"/>
<polyline points="121.4,829.8 179.1,855.8 236.9,875.3 294.7,889.7 352.4,899.0 468.0,913.6 699.0,941.7 930.0,957.0 1045.6,964.5 1161.1,969.6" stroke="#ff0000" stroke-width="3.0" stroke-linecap="square"/>
<polyline points="121.4,866.9 179.1,892.0 236.9,909.7 294.7,924.5 352.4,929.2 468.0,941.3 699.0,963.1 930.0,974.2 1045.6,979.8 1161.1,983.5" stroke="#008000" stroke-width="3.0" stroke-linecap="square"/>
<polyline points="121.4,823.7 179.1,861.8 236.9,896.2 294.7,921.3 352.4,935.2 468.0,955.7 699.0,996.5 930.0,1009.5 1045.6,1015.1 1161.1,1020.2" stroke="#800080" stroke-width="3.0" stroke-dasharray="3 4.95"/>
<polyline points="121.4,837.2 179.1,874.4 236.9,902.2 294.7,925.2 352.4,938.5 468.0,955.7 699.0,986.3 930.0,998.4 1045.6,1004.0 1161.1,1008.6" stroke="#0000ff" stroke-width="3.0" stroke-dasharray="3 4.95"/>
<polyline points="121.4,931.0 179.1,951.5 236.9,963.6 294.7,972.4 352.4,977.5 468.0,986.8 699.0,1002.1 930.0,1009.5 1045.6,1013.7 1161.1,1017.4" stroke="#ff0000" stroke-width="3.0" stroke-dasharray="3 4.95"/>
<polyline points="121.4,914.3 179.1,943.6 236.9,957.5 294.7,968.7 352.4,974.7 468.0,983.5 699.0,996.5 930.0,1004.9 1045.6,1008.1 1161.1,1010.9" stroke="#008000" stroke-width="3.0" stroke-dasharray="3 4.95"/>
</g>
<rect x="98.1" y="803.3" width="1063.0" height="232.1" fill="none" stroke="#000" stroke-width="1.6"/>
<text transform="translate(114,1029.6) scale(1,1)" font-size="40.8" font-weight="bold">l</text>
<text x="629.6" y="1096.2" font-size="24.5" text-anchor="middle" font-weight="normal" >Observations Number</text>
<text transform="translate(22.5,922.4) rotate(-90)" font-size="24.5" text-anchor="middle">RMSE</text>
<rect x="1321.4" y="803.3" width="1062.7" height="232.1" fill="#fff"/>
<line x1="1454.6" x2="1454.6" y1="803.3" y2="1035.4" stroke="#b0b0b0" stroke-width="1.6"/>
<line x1="1454.6" x2="1454.6" y1="1035.4" y2="1041.2" stroke="#000" stroke-width="1.6"/>
<text x="1454.6" y="1065.8" font-size="24.5" text-anchor="middle" font-weight="normal" >25</text>
<line x1="1596.8" x2="1596.8" y1="803.3" y2="1035.4" stroke="#b0b0b0" stroke-width="1.6"/>
<line x1="1596.8" x2="1596.8" y1="1035.4" y2="1041.2" stroke="#000" stroke-width="1.6"/>
<text x="1596.8" y="1065.8" font-size="24.5" text-anchor="middle" font-weight="normal" >50</text>
<line x1="1738.9" x2="1738.9" y1="803.3" y2="1035.4" stroke="#b0b0b0" stroke-width="1.6"/>
<line x1="1738.9" x2="1738.9" y1="1035.4" y2="1041.2" stroke="#000" stroke-width="1.6"/>
<text x="1738.9" y="1065.8" font-size="24.5" text-anchor="middle" font-weight="normal" >75</text>
<line x1="1881.0" x2="1881.0" y1="803.3" y2="1035.4" stroke="#b0b0b0" stroke-width="1.6"/>
<line x1="1881.0" x2="1881.0" y1="1035.4" y2="1041.2" stroke="#000" stroke-width="1.6"/>
<text x="1881.0" y="1065.8" font-size="24.5" text-anchor="middle" font-weight="normal" >100</text>
<line x1="2023.2" x2="2023.2" y1="803.3" y2="1035.4" stroke="#b0b0b0" stroke-width="1.6"/>
<line x1="2023.2" x2="2023.2" y1="1035.4" y2="1041.2" stroke="#000" stroke-width="1.6"/>
<text x="2023.2" y="1065.8" font-size="24.5" text-anchor="middle" font-weight="normal" >125</text>
<line x1="2165.3" x2="2165.3" y1="803.3" y2="1035.4" stroke="#b0b0b0" stroke-width="1.6"/>
<line x1="2165.3" x2="2165.3" y1="1035.4" y2="1041.2" stroke="#000" stroke-width="1.6"/>
<text x="2165.3" y="1065.8" font-size="24.5" text-anchor="middle" font-weight="normal" >150</text>
<line x1="2307.5" x2="2307.5" y1="803.3" y2="1035.4" stroke="#b0b0b0" stroke-width="1.6"/>
<line x1="2307.5" x2="2307.5" y1="1035.4" y2="1041.2" stroke="#000" stroke-width="1.6"/>
<text x="2307.5" y="1065.8" font-size="24.5" text-anchor="middle" font-weight="normal" >175</text>
<line x1="1321.4" x2="2384.1" y1="807.6" y2="807.6" stroke="#b0b0b0" stroke-width="1.6"/>
<line x1="1315.6000000000001" x2="1321.4" y1="807.6" y2="807.6" stroke="#000" stroke-width="1.6"/>
<text x="1309.9" y="816.9" font-size="24.5" text-anchor="end" font-weight="normal" >1.0</text>
<line x1="1321.4" x2="2384.1" y1="923.1" y2="923.1" stroke="#b0b0b0" stroke-width="1.6"/>
<line x1="1315.6000000000001" x2="1321.4" y1="923.1" y2="923.1" stroke="#000" stroke-width="1.6"/>
<text x="1309.9" y="932.4" font-size="24.5" text-anchor="end" font-weight="normal" >0.8</text>
<g fill="none" stroke-linejoin="round">
<polyline points="1369.3,951.8 1397.7,930.9 1426.2,916.4 1454.6,905.7 1483.0,901.5 1653.6,871.4 1824.2,855.5 1881.0,853.0 2165.3,837.8 2335.9,834.0" stroke="#800080" stroke-width="3.0" stroke-linecap="square"/>
<polyline points="1369.3,997.1 1397.7,959.1 1426.2,933.3 1454.6,917.3 1483.0,909.8 1653.6,872.3 1824.2,856.0 1881.0,853.4 2165.3,838.1 2335.9,834.6" stroke="#0000ff" stroke-width="3.0" stroke-linecap="square"/>
<polyline points="1369.3,1025.3 1397.7,980.3 1426.2,955.6 1454.6,939.1 1483.0,929.5 1653.6,883.0 1824.2,861.9 1881.0,859.0 2165.3,841.5 2335.9,836.6" stroke="#ff0000" stroke-width="3.0" stroke-linecap="square"/>
<polyline points="1369.3,966.4 1397.7,929.5 1426.2,909.8 1454.6,895.5 1483.0,890.3 1653.6,861.6 1824.2,849.7 1881.0,847.6 2165.3,835.2 2335.9,832.2" stroke="#008000" stroke-width="3.0" stroke-linecap="square"/>
<polyline points="1369.3,974.5 1397.7,928.0 1426.2,899.0 1454.6,879.3 1483.0,867.1 1653.6,833.7 1824.2,825.0 1881.0,822.5 2165.3,817.5 2335.9,815.2" stroke="#800080" stroke-width="3.0" stroke-dasharray="3 4.95"/>
<polyline points="1369.3,959.1 1397.7,914.1 1426.2,889.7 1454.6,873.5 1483.0,862.7 1653.6,834.6 1824.2,826.4 1881.0,824.0 2165.3,819.0 2335.9,817.2" stroke="#0000ff" stroke-width="3.0" stroke-dasharray="3 4.95"/>
<polyline points="1369.3,859.0 1397.7,849.1 1426.2,842.4 1454.6,838.6 1483.0,836.3 1653.6,826.4 1824.2,821.5 1881.0,820.0 2165.3,816.5 2335.9,815.4" stroke="#ff0000" stroke-width="3.0" stroke-dasharray="3 4.95"/>
<polyline points="1369.3,872.3 1397.7,856.0 1426.2,845.9 1454.6,839.5 1483.0,836.8 1653.6,827.3 1824.2,823.5 1881.0,822.5 2165.3,818.5 2335.9,817.2" stroke="#008000" stroke-width="3.0" stroke-dasharray="3 4.95"/>
</g>
<rect x="1321.4" y="803.3" width="1062.7" height="232.1" fill="none" stroke="#000" stroke-width="1.6"/>
<text transform="translate(1375.5,1029.2) scale(1,1)" font-size="40.8" font-weight="bold">m</text>
<text x="1852.8" y="1096.2" font-size="24.5" text-anchor="middle" font-weight="normal" >Observations Number</text>
<text transform="translate(1259.5,922.4) rotate(-90)" font-size="24.5" text-anchor="middle">Correlation</text>
<rect x="2097.6" y="899.2" width="276.4" height="126" rx="4" ry="4" fill="#fff" fill-opacity="0.8" stroke="#ccc" stroke-width="1.6"/>
<line x1="2104.6" x2="2148.4" y1="915.8" y2="915.8" stroke="#800080" stroke-width="3.0"/>
<text x="2163.5" y="923.8" font-size="20.4" text-anchor="start" font-weight="normal" >OINet (SST+SSH)</text>
<line x1="2104.6" x2="2148.4" y1="945.8" y2="945.8" stroke="#0000ff" stroke-width="3.0"/>
<text x="2163.5" y="953.8" font-size="20.4" text-anchor="start" font-weight="normal" >CLOINet (SST)</text>
<line x1="2104.6" x2="2148.4" y1="975.7" y2="975.7" stroke="#ff0000" stroke-width="3.0"/>
<text x="2163.5" y="983.7" font-size="20.4" text-anchor="start" font-weight="normal" >CLOINet (SSH)</text>
<line x1="2104.6" x2="2148.4" y1="1005.7" y2="1005.7" stroke="#008000" stroke-width="3.0"/>
<text x="2163.5" y="1013.7" font-size="20.4" text-anchor="start" font-weight="normal" >CLOINet (SST+SSH)</text>
</svg>
</body></html>
